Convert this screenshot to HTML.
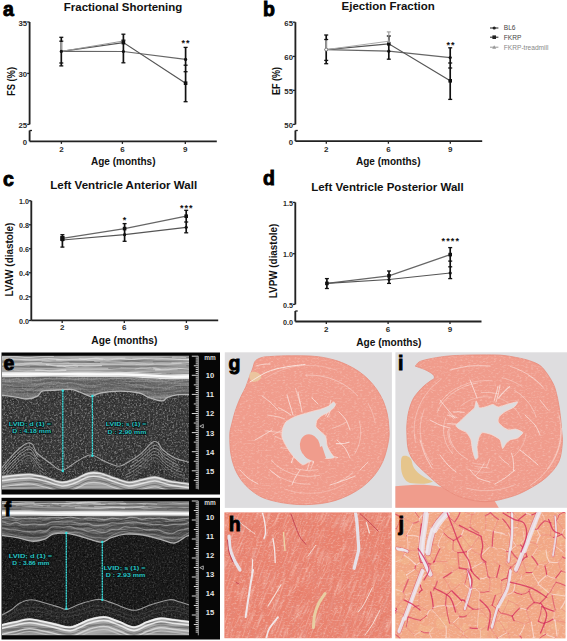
<!DOCTYPE html>
<html><head><meta charset="utf-8">
<style>
html,body{margin:0;padding:0;background:#fff;}
body{width:567px;height:641px;overflow:hidden;position:relative;font-family:"Liberation Sans", sans-serif;}
svg{position:absolute;left:0;top:0;}
text{font-family:"Liberation Sans", sans-serif;}
</style></head><body>
<svg width="567" height="641" viewBox="0 0 567 641">
<defs>
<filter id="fib" x="0" y="0" width="100%" height="100%"><feTurbulence type="fractalNoise" baseFrequency="0.05 0.55" numOctaves="2" seed="21"/><feColorMatrix type="matrix" values="0 0 0 0 0.72  0 0 0 0 0.3  0 0 0 0 0.28  3.2 0 0 0 -1.55"/><feComposite in2="SourceAlpha" operator="in"/></filter>
<filter id="fibW" x="0" y="0" width="100%" height="100%"><feTurbulence type="fractalNoise" baseFrequency="0.05 0.6" numOctaves="2" seed="33"/><feColorMatrix type="matrix" values="0 0 0 0 1  0 0 0 0 0.85  0 0 0 0 0.8  3.2 0 0 0 -1.6"/><feComposite in2="SourceAlpha" operator="in"/></filter>
<filter id="soft" x="0" y="0" width="100%" height="100%"><feGaussianBlur stdDeviation="0.45"/></filter>
<filter id="spkW" x="0" y="0" width="100%" height="100%"><feTurbulence type="fractalNoise" baseFrequency="0.55" numOctaves="2" seed="4"/><feColorMatrix type="matrix" values="0 0 0 0 1  0 0 0 0 1  0 0 0 0 1  4.5 0 0 0 -2.2"/><feComposite in2="SourceAlpha" operator="in"/></filter>
<filter id="spkK" x="0" y="0" width="100%" height="100%"><feTurbulence type="fractalNoise" baseFrequency="0.55" numOctaves="2" seed="9"/><feColorMatrix type="matrix" values="0 0 0 0 0  0 0 0 0 0  0 0 0 0 0  4.5 0 0 0 -2.1"/><feComposite in2="SourceAlpha" operator="in"/></filter>
<filter id="strk" x="0" y="0" width="100%" height="100%"><feTurbulence type="fractalNoise" baseFrequency="0.015 0.35" numOctaves="2" seed="5"/><feColorMatrix type="matrix" values="0 0 0 0 1  0 0 0 0 1  0 0 0 0 1  3.5 0 0 0 -1.6"/><feComposite in2="SourceAlpha" operator="in"/></filter>
<filter id="strkK" x="0" y="0" width="100%" height="100%"><feTurbulence type="fractalNoise" baseFrequency="0.015 0.35" numOctaves="2" seed="11"/><feColorMatrix type="matrix" values="0 0 0 0 0  0 0 0 0 0  0 0 0 0 0  3.5 0 0 0 -1.6"/><feComposite in2="SourceAlpha" operator="in"/></filter>
<filter id="tex" x="0" y="0" width="100%" height="100%"><feTurbulence type="fractalNoise" baseFrequency="0.35 0.6" numOctaves="2" seed="2"/><feColorMatrix type="matrix" values="0 0 0 0 1  0 0 0 0 0.9  0 0 0 0 0.85  2.2 0 0 0 -1.1"/><feComposite in2="SourceAlpha" operator="in"/></filter>
<filter id="texD" x="0" y="0" width="100%" height="100%"><feTurbulence type="fractalNoise" baseFrequency="0.3 0.5" numOctaves="2" seed="7"/><feColorMatrix type="matrix" values="0 0 0 0 0.75  0 0 0 0 0.35  0 0 0 0 0.3  2.4 0 0 0 -1.3"/><feComposite in2="SourceAlpha" operator="in"/></filter>
</defs>
<rect x="1.5" y="352.5" width="218.5" height="142.0" fill="#060606"/>
<clipPath id="clipe"><rect x="2" y="355.8" width="187" height="133.7"/></clipPath>
<g clip-path="url(#clipe)"><g filter="url(#soft)">
<rect x="2" y="355.8" width="187" height="133.7" fill="#3b3b3b"/>
<path d="M0.0,353.8 C31.8,353.8 159.2,353.8 191.0,353.8 L192.0,373.8 C189.2,373.8 180.3,374.1 175.0,374.0 C169.7,373.9 169.2,373.4 160.0,373.0 C150.8,372.6 136.7,371.8 120.0,371.5 C103.3,371.2 80.0,371.2 60.0,371.2 C40.0,371.2 10.0,371.4 0.0,371.5 Z" fill="#a9a9a9" />
<path d="M0.0,371.5 C10.0,371.4 40.0,371.2 60.0,371.2 C80.0,371.2 103.3,371.2 120.0,371.5 C136.7,371.8 150.8,372.6 160.0,373.0 C169.2,373.4 169.7,373.9 175.0,374.0 C180.3,374.1 189.2,373.8 192.0,373.8 L192.0,379.0 C189.2,379.1 180.3,379.5 175.0,379.5 C169.7,379.5 169.2,379.4 160.0,379.0 C150.8,378.6 136.7,377.5 120.0,377.2 C103.3,376.9 80.0,376.9 60.0,377.0 C40.0,377.1 10.0,377.4 0.0,377.5 Z" fill="#d9d9d9" />
<path d="M0.0,377.5 C10.0,377.4 40.0,377.1 60.0,377.0 C80.0,376.9 103.3,376.9 120.0,377.2 C136.7,377.5 150.8,378.6 160.0,379.0 C169.2,379.4 169.7,379.5 175.0,379.5 C180.3,379.5 189.2,379.1 192.0,379.0 L192.0,394.7 C189.7,394.7 182.3,394.3 178.2,394.7 C174.1,395.1 170.2,396.3 167.6,397.3 C164.9,398.3 165.5,400.9 162.3,400.9 C159.1,400.9 152.0,398.6 148.2,397.3 C144.4,396.0 144.1,394.0 139.4,393.0 C134.7,392.0 126.5,391.2 120.0,391.2 C113.5,391.2 105.3,392.1 100.6,393.0 C95.9,393.9 94.1,396.1 92.0,396.5 C89.9,396.9 90.3,396.4 88.2,395.6 C86.1,394.9 82.4,393.0 79.4,392.0 C76.5,391.0 74.9,389.7 70.5,389.4 C66.1,389.1 57.7,390.0 53.0,390.3 C48.3,390.6 45.0,390.2 42.3,391.2 C39.6,392.2 39.6,395.1 37.0,396.4 C34.4,397.7 29.7,398.9 26.5,399.0 C23.3,399.1 22.0,398.0 17.6,397.3 C13.2,396.6 2.9,395.4 0.0,395.0 Z" fill="#6c6c6c" />
<path d="M0.0,470.0 C1.7,468.0 6.7,461.7 10.0,458.0 C13.3,454.3 17.0,450.5 20.0,448.0 C23.0,445.5 25.8,443.5 28.0,443.0 C30.2,442.5 31.5,443.3 33.0,445.0 C34.5,446.7 34.2,450.0 37.0,453.0 C39.8,456.0 45.8,460.1 50.0,463.0 C54.2,465.9 57.7,470.6 62.0,470.4 C66.3,470.2 71.3,464.6 76.0,462.0 C80.7,459.4 85.6,455.2 90.3,455.0 C95.0,454.8 99.3,459.1 104.0,461.0 C108.7,462.9 114.2,466.2 118.5,466.2 C122.8,466.2 126.2,463.1 130.0,461.0 C133.8,458.9 137.3,456.7 141.0,453.6 C144.7,450.5 149.6,444.1 152.4,442.3 C155.2,440.5 156.2,441.7 158.0,443.0 C159.8,444.3 160.2,447.5 163.0,450.0 C165.8,452.5 170.2,455.8 175.0,458.0 C179.8,460.2 189.2,462.2 192.0,463.0 L191.0,491.5 C159.2,491.5 31.8,491.5 0.0,491.5 Z" fill="#383838" />
<path d="M0.0,353.8 C31.8,353.8 159.2,353.8 191.0,353.8 L192.0,394.7 C189.7,394.7 182.3,394.3 178.2,394.7 C174.1,395.1 170.2,396.3 167.6,397.3 C164.9,398.3 165.5,400.9 162.3,400.9 C159.1,400.9 152.0,398.6 148.2,397.3 C144.4,396.0 144.1,394.0 139.4,393.0 C134.7,392.0 126.5,391.2 120.0,391.2 C113.5,391.2 105.3,392.1 100.6,393.0 C95.9,393.9 94.1,396.1 92.0,396.5 C89.9,396.9 90.3,396.4 88.2,395.6 C86.1,394.9 82.4,393.0 79.4,392.0 C76.5,391.0 74.9,389.7 70.5,389.4 C66.1,389.1 57.7,390.0 53.0,390.3 C48.3,390.6 45.0,390.2 42.3,391.2 C39.6,392.2 39.6,395.1 37.0,396.4 C34.4,397.7 29.7,398.9 26.5,399.0 C23.3,399.1 22.0,398.0 17.6,397.3 C13.2,396.6 2.9,395.4 0.0,395.0 Z" fill="#fff" filter="url(#strk)" opacity="0.22"/>
<path d="M0.0,353.8 C31.8,353.8 159.2,353.8 191.0,353.8 L192.0,394.7 C189.7,394.7 182.3,394.3 178.2,394.7 C174.1,395.1 170.2,396.3 167.6,397.3 C164.9,398.3 165.5,400.9 162.3,400.9 C159.1,400.9 152.0,398.6 148.2,397.3 C144.4,396.0 144.1,394.0 139.4,393.0 C134.7,392.0 126.5,391.2 120.0,391.2 C113.5,391.2 105.3,392.1 100.6,393.0 C95.9,393.9 94.1,396.1 92.0,396.5 C89.9,396.9 90.3,396.4 88.2,395.6 C86.1,394.9 82.4,393.0 79.4,392.0 C76.5,391.0 74.9,389.7 70.5,389.4 C66.1,389.1 57.7,390.0 53.0,390.3 C48.3,390.6 45.0,390.2 42.3,391.2 C39.6,392.2 39.6,395.1 37.0,396.4 C34.4,397.7 29.7,398.9 26.5,399.0 C23.3,399.1 22.0,398.0 17.6,397.3 C13.2,396.6 2.9,395.4 0.0,395.0 Z" fill="#000" filter="url(#strkK)" opacity="0.25"/>
<path d="M0.0,395.0 C2.9,395.4 13.2,396.6 17.6,397.3 C22.0,398.0 23.3,399.1 26.5,399.0 C29.7,398.9 34.4,397.7 37.0,396.4 C39.6,395.1 39.6,392.2 42.3,391.2 C45.0,390.2 48.3,390.6 53.0,390.3 C57.7,390.0 66.1,389.1 70.5,389.4 C74.9,389.7 76.5,391.0 79.4,392.0 C82.4,393.0 86.1,394.9 88.2,395.6 C90.3,396.4 89.9,396.9 92.0,396.5 C94.1,396.1 95.9,393.9 100.6,393.0 C105.3,392.1 113.5,391.2 120.0,391.2 C126.5,391.2 134.7,392.0 139.4,393.0 C144.1,394.0 144.4,396.0 148.2,397.3 C152.0,398.6 159.1,400.9 162.3,400.9 C165.5,400.9 164.9,398.3 167.6,397.3 C170.2,396.3 174.1,395.1 178.2,394.7 C182.3,394.3 189.7,394.7 192.0,394.7 L192.0,483.0 C188.3,482.5 176.2,481.2 170.0,480.0 C163.8,478.8 160.0,476.2 155.0,476.0 C150.0,475.8 144.4,478.2 140.0,479.0 C135.6,479.8 133.0,481.3 128.8,481.0 C124.6,480.7 119.8,478.5 115.0,477.0 C110.2,475.5 104.5,472.8 100.0,472.0 C95.5,471.2 92.4,471.0 88.2,472.0 C84.0,473.0 79.4,476.5 75.0,478.0 C70.6,479.5 67.0,481.3 62.0,481.0 C57.0,480.7 50.3,477.3 45.0,476.0 C39.7,474.7 35.0,473.3 30.0,473.0 C25.0,472.7 20.0,473.5 15.0,474.0 C10.0,474.5 2.5,475.7 0.0,476.0 Z" fill="#fff" filter="url(#spkW)" opacity="0.28"/>
<path d="M0.0,395.0 C2.9,395.4 13.2,396.6 17.6,397.3 C22.0,398.0 23.3,399.1 26.5,399.0 C29.7,398.9 34.4,397.7 37.0,396.4 C39.6,395.1 39.6,392.2 42.3,391.2 C45.0,390.2 48.3,390.6 53.0,390.3 C57.7,390.0 66.1,389.1 70.5,389.4 C74.9,389.7 76.5,391.0 79.4,392.0 C82.4,393.0 86.1,394.9 88.2,395.6 C90.3,396.4 89.9,396.9 92.0,396.5 C94.1,396.1 95.9,393.9 100.6,393.0 C105.3,392.1 113.5,391.2 120.0,391.2 C126.5,391.2 134.7,392.0 139.4,393.0 C144.1,394.0 144.4,396.0 148.2,397.3 C152.0,398.6 159.1,400.9 162.3,400.9 C165.5,400.9 164.9,398.3 167.6,397.3 C170.2,396.3 174.1,395.1 178.2,394.7 C182.3,394.3 189.7,394.7 192.0,394.7 L192.0,483.0 C188.3,482.5 176.2,481.2 170.0,480.0 C163.8,478.8 160.0,476.2 155.0,476.0 C150.0,475.8 144.4,478.2 140.0,479.0 C135.6,479.8 133.0,481.3 128.8,481.0 C124.6,480.7 119.8,478.5 115.0,477.0 C110.2,475.5 104.5,472.8 100.0,472.0 C95.5,471.2 92.4,471.0 88.2,472.0 C84.0,473.0 79.4,476.5 75.0,478.0 C70.6,479.5 67.0,481.3 62.0,481.0 C57.0,480.7 50.3,477.3 45.0,476.0 C39.7,474.7 35.0,473.3 30.0,473.0 C25.0,472.7 20.0,473.5 15.0,474.0 C10.0,474.5 2.5,475.7 0.0,476.0 Z" fill="#000" filter="url(#spkK)" opacity="0.3"/>
<path d="M0.0,377.5 C10.0,377.4 40.0,377.1 60.0,377.0 C80.0,376.9 103.3,376.9 120.0,377.2 C136.7,377.5 150.8,378.6 160.0,379.0 C169.2,379.4 169.7,379.5 175.0,379.5 C180.3,379.5 189.2,379.1 192.0,379.0 L192.0,394.7 C189.7,394.7 182.3,394.3 178.2,394.7 C174.1,395.1 170.2,396.3 167.6,397.3 C164.9,398.3 165.5,400.9 162.3,400.9 C159.1,400.9 152.0,398.6 148.2,397.3 C144.4,396.0 144.1,394.0 139.4,393.0 C134.7,392.0 126.5,391.2 120.0,391.2 C113.5,391.2 105.3,392.1 100.6,393.0 C95.9,393.9 94.1,396.1 92.0,396.5 C89.9,396.9 90.3,396.4 88.2,395.6 C86.1,394.9 82.4,393.0 79.4,392.0 C76.5,391.0 74.9,389.7 70.5,389.4 C66.1,389.1 57.7,390.0 53.0,390.3 C48.3,390.6 45.0,390.2 42.3,391.2 C39.6,392.2 39.6,395.1 37.0,396.4 C34.4,397.7 29.7,398.9 26.5,399.0 C23.3,399.1 22.0,398.0 17.6,397.3 C13.2,396.6 2.9,395.4 0.0,395.0 Z" fill="#fff" filter="url(#spkW)" opacity="0.14"/>
<path d="M0.0,358.8 C2.0,358.8 8.0,358.7 12.0,358.8 C16.0,359.0 20.0,359.6 24.0,359.7 C28.0,359.9 32.0,359.9 36.0,359.7 C40.0,359.5 44.0,358.7 48.0,358.7 C52.0,358.6 56.0,359.4 60.0,359.6 C64.0,359.8 68.0,359.8 72.0,359.8 C76.0,359.8 80.0,359.9 84.0,359.6 C88.0,359.3 92.0,358.1 96.0,358.1 C100.0,358.2 104.0,359.8 108.0,359.9 C112.0,359.9 116.0,358.6 120.0,358.6 C124.0,358.5 128.0,359.6 132.0,359.5 C136.0,359.5 140.0,358.5 144.0,358.4 C148.0,358.3 152.0,359.1 156.0,359.1 C160.0,359.2 164.0,358.8 168.0,358.8 C172.0,358.9 176.0,359.2 180.0,359.3 C184.0,359.5 190.0,359.5 192.0,359.5" stroke="#e0e0e0" stroke-width="1.2" opacity="0.7" fill="none"/>
<path d="M0.0,362.1 C2.0,362.1 8.0,362.1 12.0,362.1 C16.0,362.1 20.0,362.2 24.0,362.2 C28.0,362.1 32.0,361.8 36.0,361.7 C40.0,361.6 44.0,361.5 48.0,361.6 C52.0,361.6 56.0,362.0 60.0,362.0 C64.0,362.0 68.0,361.7 72.0,361.7 C76.0,361.7 80.0,362.1 84.0,362.0 C88.0,362.0 92.0,361.2 96.0,361.3 C100.0,361.3 104.0,362.2 108.0,362.3 C112.0,362.5 116.0,362.4 120.0,362.2 C124.0,362.0 128.0,361.0 132.0,361.0 C136.0,360.9 140.0,361.9 144.0,362.0 C148.0,362.1 152.0,361.6 156.0,361.6 C160.0,361.5 164.0,361.6 168.0,361.7 C172.0,361.8 176.0,362.0 180.0,362.0 C184.0,362.1 190.0,361.9 192.0,361.8" stroke="#555" stroke-width="1" opacity="0.5" fill="none"/>
<path d="M0.0,364.3 C2.0,364.4 8.0,364.8 12.0,364.7 C16.0,364.5 20.0,363.6 24.0,363.4 C28.0,363.1 32.0,363.2 36.0,363.2 C40.0,363.3 44.0,363.5 48.0,363.6 C52.0,363.7 56.0,363.8 60.0,363.7 C64.0,363.7 68.0,363.4 72.0,363.3 C76.0,363.2 80.0,363.1 84.0,363.2 C88.0,363.3 92.0,363.7 96.0,364.0 C100.0,364.2 104.0,364.6 108.0,364.6 C112.0,364.7 116.0,364.6 120.0,364.5 C124.0,364.4 128.0,363.9 132.0,363.9 C136.0,364.0 140.0,364.6 144.0,364.7 C148.0,364.7 152.0,364.2 156.0,364.2 C160.0,364.1 164.0,364.3 168.0,364.1 C172.0,364.0 176.0,363.3 180.0,363.2 C184.0,363.1 190.0,363.6 192.0,363.7" stroke="#d0d0d0" stroke-width="1.2" opacity="0.6" fill="none"/>
<path d="M0.0,366.3 C2.0,366.2 8.0,365.8 12.0,365.7 C16.0,365.7 20.0,366.1 24.0,366.3 C28.0,366.4 32.0,366.8 36.0,366.7 C40.0,366.6 44.0,365.8 48.0,365.7 C52.0,365.7 56.0,365.9 60.0,366.1 C64.0,366.3 68.0,367.0 72.0,367.0 C76.0,367.0 80.0,366.4 84.0,366.3 C88.0,366.3 92.0,366.8 96.0,366.8 C100.0,366.7 104.0,366.0 108.0,365.9 C112.0,365.7 116.0,365.8 120.0,366.0 C124.0,366.2 128.0,366.9 132.0,367.0 C136.0,367.2 140.0,367.2 144.0,367.0 C148.0,366.8 152.0,365.8 156.0,365.8 C160.0,365.8 164.0,366.5 168.0,366.7 C172.0,366.9 176.0,366.9 180.0,367.0 C184.0,367.0 190.0,367.0 192.0,367.0" stroke="#666" stroke-width="1" opacity="0.5" fill="none"/>
<path d="M0.0,369.4 C2.0,369.5 8.0,369.6 12.0,369.5 C16.0,369.4 20.0,368.8 24.0,368.8 C28.0,368.7 32.0,369.2 36.0,369.2 C40.0,369.2 44.0,368.6 48.0,368.6 C52.0,368.6 56.0,368.9 60.0,369.1 C64.0,369.2 68.0,369.4 72.0,369.5 C76.0,369.5 80.0,369.6 84.0,369.6 C88.0,369.6 92.0,369.5 96.0,369.4 C100.0,369.4 104.0,369.5 108.0,369.3 C112.0,369.1 116.0,368.2 120.0,368.3 C124.0,368.4 128.0,369.6 132.0,369.7 C136.0,369.8 140.0,368.8 144.0,368.8 C148.0,368.8 152.0,369.8 156.0,369.7 C160.0,369.6 164.0,368.3 168.0,368.2 C172.0,368.1 176.0,369.0 180.0,369.2 C184.0,369.3 190.0,369.0 192.0,369.0" stroke="#ccc" stroke-width="1" opacity="0.5" fill="none"/>
<path d="M182.1,363.0 C184.2,363.1 190.4,363.4 194.5,363.4 C198.6,363.4 202.7,363.1 206.8,363.1 C210.9,363.0 215.0,362.9 219.2,363.0 C223.3,363.2 229.4,363.8 231.5,364.0" stroke="#666" stroke-width="1.24" opacity="0.50" fill="none" stroke-linecap="round"/>
<path d="M178.7,359.3 C181.0,359.4 187.9,360.1 192.5,360.1 C197.1,360.1 201.7,359.4 206.3,359.3 C210.9,359.3 215.5,359.5 220.1,359.5 C224.7,359.6 231.6,359.8 233.9,359.9" stroke="#e6e6e6" stroke-width="0.86" opacity="0.50" fill="none" stroke-linecap="round"/>
<path d="M121.0,367.7 C122.3,367.8 125.9,367.9 128.4,368.0 C130.8,368.0 133.3,368.1 135.7,368.2 C138.1,368.2 140.6,368.4 143.0,368.3 C145.5,368.2 149.1,367.6 150.3,367.5" stroke="#bdbdbd" stroke-width="0.96" opacity="0.72" fill="none" stroke-linecap="round"/>
<path d="M132.9,358.4 C134.1,358.4 137.9,358.4 140.4,358.4 C142.9,358.5 145.5,358.7 148.0,358.6 C150.5,358.5 153.0,358.0 155.5,358.0 C158.1,357.9 161.8,358.3 163.1,358.4" stroke="#d0d0d0" stroke-width="1.13" opacity="0.41" fill="none" stroke-linecap="round"/>
<path d="M79.3,358.6 C81.2,358.6 86.9,358.7 90.7,358.6 C94.5,358.5 98.3,358.1 102.1,358.0 C105.9,358.0 109.7,358.3 113.5,358.3 C117.3,358.3 123.0,358.1 124.9,358.1" stroke="#e6e6e6" stroke-width="1.19" opacity="0.49" fill="none" stroke-linecap="round"/>
<path d="M172.4,357.3 C174.0,357.2 178.9,357.0 182.1,357.2 C185.4,357.4 188.6,358.4 191.8,358.4 C195.0,358.4 198.3,357.3 201.5,357.1 C204.7,356.9 209.6,357.1 211.2,357.1" stroke="#e6e6e6" stroke-width="1.36" opacity="0.48" fill="none" stroke-linecap="round"/>
<path d="M-3.5,366.8 C-1.0,366.7 6.4,365.9 11.4,365.9 C16.3,365.9 21.3,366.7 26.2,366.7 C31.2,366.7 36.1,365.9 41.1,366.0 C46.0,366.0 53.5,366.6 56.0,366.7" stroke="#666" stroke-width="1.12" opacity="0.55" fill="none" stroke-linecap="round"/>
<path d="M135.2,369.4 C136.2,369.2 139.3,368.3 141.4,368.2 C143.5,368.1 145.5,368.7 147.6,368.7 C149.7,368.7 151.7,368.0 153.8,368.0 C155.9,368.1 159.0,369.0 160.0,369.2" stroke="#e6e6e6" stroke-width="1.27" opacity="0.62" fill="none" stroke-linecap="round"/>
<path d="M94.6,361.5 C97.0,361.5 104.2,361.5 109.1,361.7 C113.9,361.9 118.7,362.5 123.5,362.6 C128.3,362.8 133.2,362.5 138.0,362.4 C142.8,362.3 150.0,362.1 152.4,362.1" stroke="#bdbdbd" stroke-width="1.04" opacity="0.69" fill="none" stroke-linecap="round"/>
<path d="M171.9,362.9 C174.0,362.9 180.6,363.1 184.9,362.9 C189.2,362.7 193.6,361.6 197.9,361.6 C202.3,361.5 206.6,362.7 211.0,362.7 C215.3,362.7 221.8,361.7 224.0,361.5" stroke="#e6e6e6" stroke-width="0.81" opacity="0.72" fill="none" stroke-linecap="round"/>
<path d="M155.6,369.9 C157.7,369.8 163.9,369.8 168.1,369.6 C172.2,369.4 176.4,368.7 180.5,368.7 C184.7,368.7 188.9,369.7 193.0,369.7 C197.2,369.7 203.4,368.9 205.5,368.7" stroke="#e6e6e6" stroke-width="1.20" opacity="0.71" fill="none" stroke-linecap="round"/>
<path d="M42.1,361.1 C43.2,361.2 46.6,361.3 48.8,361.4 C51.0,361.6 53.3,362.2 55.5,362.2 C57.7,362.3 60.0,361.8 62.2,361.9 C64.4,361.9 67.8,362.5 68.9,362.6" stroke="#d0d0d0" stroke-width="1.19" opacity="0.78" fill="none" stroke-linecap="round"/>
<path d="M42.5,361.9 C44.9,362.0 52.1,362.3 56.9,362.3 C61.6,362.3 66.4,361.9 71.2,361.9 C76.0,361.9 80.8,362.2 85.6,362.3 C90.3,362.4 97.5,362.5 99.9,362.5" stroke="#666" stroke-width="1.02" opacity="0.70" fill="none" stroke-linecap="round"/>
<path d="M1.6,357.1 C3.8,357.0 10.2,356.3 14.6,356.4 C18.9,356.5 23.2,357.5 27.5,357.5 C31.8,357.5 36.1,356.7 40.5,356.5 C44.8,356.3 51.3,356.4 53.4,356.4" stroke="#e6e6e6" stroke-width="1.11" opacity="0.59" fill="none" stroke-linecap="round"/>
<path d="M56.6,360.0 C58.5,360.0 64.2,359.7 68.0,359.6 C71.9,359.4 75.7,359.0 79.5,359.1 C83.3,359.2 87.1,360.1 90.9,360.2 C94.8,360.2 100.5,359.6 102.4,359.5" stroke="#e6e6e6" stroke-width="1.27" opacity="0.53" fill="none" stroke-linecap="round"/>
<path d="M12.6,365.2 C14.1,365.2 18.6,365.3 21.6,365.1 C24.7,364.8 27.7,363.8 30.7,363.8 C33.7,363.8 36.7,364.7 39.7,364.9 C42.7,365.0 47.3,364.8 48.8,364.8" stroke="#d0d0d0" stroke-width="1.24" opacity="0.68" fill="none" stroke-linecap="round"/>
<path d="M35.7,370.3 C37.0,370.3 40.8,370.3 43.3,370.4 C45.8,370.5 48.3,370.9 50.8,370.9 C53.3,371.0 55.8,370.8 58.3,370.7 C60.8,370.6 64.6,370.3 65.8,370.2" stroke="#e6e6e6" stroke-width="1.38" opacity="0.72" fill="none" stroke-linecap="round"/>
<path d="M186.7,365.8 C189.0,365.8 195.8,366.2 200.3,366.2 C204.9,366.2 209.4,365.7 214.0,365.8 C218.5,365.8 223.0,366.4 227.6,366.4 C232.1,366.5 238.9,366.2 241.2,366.2" stroke="#666" stroke-width="1.14" opacity="0.62" fill="none" stroke-linecap="round"/>
<path d="M73.4,364.9 C74.3,364.8 76.8,364.0 78.5,364.0 C80.1,364.0 81.8,364.7 83.5,364.8 C85.2,364.8 86.8,364.5 88.5,364.4 C90.2,364.3 92.7,364.3 93.5,364.3" stroke="#bdbdbd" stroke-width="1.13" opacity="0.62" fill="none" stroke-linecap="round"/>
<path d="M14.6,370.2 C16.6,370.3 22.7,370.9 26.7,370.9 C30.7,370.9 34.7,370.1 38.8,370.1 C42.8,370.1 46.8,370.9 50.8,370.8 C54.9,370.7 60.9,369.8 62.9,369.6" stroke="#d0d0d0" stroke-width="0.83" opacity="0.67" fill="none" stroke-linecap="round"/>
<path d="M57.1,365.7 C57.9,365.7 60.5,365.5 62.2,365.8 C64.0,366.0 65.7,366.9 67.4,367.1 C69.1,367.4 70.8,367.2 72.5,367.2 C74.3,367.1 76.8,366.8 77.7,366.8" stroke="#d0d0d0" stroke-width="1.04" opacity="0.80" fill="none" stroke-linecap="round"/>
<path d="M95.9,363.2 C98.3,363.4 105.4,364.2 110.1,364.4 C114.9,364.6 119.6,364.4 124.4,364.4 C129.1,364.4 133.8,364.4 138.6,364.3 C143.3,364.1 150.5,363.8 152.8,363.7" stroke="#bdbdbd" stroke-width="0.99" opacity="0.53" fill="none" stroke-linecap="round"/>
<path d="M137.7,369.2 C139.3,369.0 144.3,368.2 147.6,368.0 C151.0,367.9 154.3,368.3 157.6,368.5 C161.0,368.6 164.3,369.1 167.6,369.0 C170.9,368.9 175.9,368.1 177.6,367.9" stroke="#bdbdbd" stroke-width="0.86" opacity="0.43" fill="none" stroke-linecap="round"/>
<path d="M46.4,364.6 C48.7,364.8 55.6,365.8 60.1,366.0 C64.7,366.1 69.3,365.4 73.9,365.4 C78.5,365.3 83.0,365.8 87.6,365.8 C92.2,365.8 99.1,365.6 101.4,365.6" stroke="#e6e6e6" stroke-width="1.36" opacity="0.65" fill="none" stroke-linecap="round"/>
<path d="M186.7,357.7 C187.5,357.7 190.0,357.5 191.7,357.4 C193.3,357.4 195.0,357.5 196.6,357.5 C198.2,357.5 199.9,357.5 201.5,357.6 C203.2,357.6 205.7,357.7 206.5,357.8" stroke="#555" stroke-width="0.85" opacity="0.79" fill="none" stroke-linecap="round"/>
<path d="M0.3,365.2 C1.5,365.4 5.1,366.5 7.5,366.5 C10.0,366.6 12.4,365.6 14.8,365.5 C17.2,365.3 19.6,365.4 22.1,365.6 C24.5,365.7 28.1,366.2 29.3,366.3" stroke="#d0d0d0" stroke-width="0.90" opacity="0.43" fill="none" stroke-linecap="round"/>
<path d="M188.0,359.6 C189.9,359.7 195.5,360.0 199.2,360.0 C203.0,359.9 206.7,359.4 210.5,359.3 C214.2,359.1 218.0,358.9 221.7,359.1 C225.5,359.3 231.1,360.1 233.0,360.3" stroke="#e6e6e6" stroke-width="1.00" opacity="0.63" fill="none" stroke-linecap="round"/>
<path d="M178.0,369.7 C179.5,369.7 184.2,369.4 187.4,369.2 C190.5,369.0 193.7,368.8 196.8,368.8 C199.9,368.8 203.1,369.3 206.2,369.3 C209.4,369.4 214.1,369.3 215.6,369.3" stroke="#666" stroke-width="0.91" opacity="0.45" fill="none" stroke-linecap="round"/>
<path d="M108.6,368.4 C110.5,368.5 116.0,368.9 119.7,369.1 C123.4,369.2 127.1,369.2 130.8,369.3 C134.5,369.3 138.2,369.4 141.8,369.3 C145.5,369.2 151.1,368.9 152.9,368.8" stroke="#555" stroke-width="0.91" opacity="0.55" fill="none" stroke-linecap="round"/>
<path d="M136.1,364.7 C136.8,364.6 138.9,364.0 140.4,363.8 C141.8,363.5 143.2,363.3 144.7,363.4 C146.1,363.5 147.5,364.5 149.0,364.5 C150.4,364.6 152.6,363.8 153.3,363.6" stroke="#d0d0d0" stroke-width="0.82" opacity="0.61" fill="none" stroke-linecap="round"/>
<path d="M0.0,374.5 C10.0,374.4 40.0,374.1 60.0,374.1 C80.0,374.1 103.3,374.0 120.0,374.4 C136.7,374.7 150.8,375.6 160.0,376.0 C169.2,376.4 169.7,376.7 175.0,376.8 C180.3,376.8 189.2,376.5 192.0,376.4" fill="none" stroke="#fbfbfb" stroke-width="2.2" />
<path d="M0.0,378.9 C0.7,379.0 2.3,379.6 4.0,379.8 C5.7,380.0 8.0,380.4 10.0,380.2 C12.0,380.1 14.0,378.8 16.0,378.8 C18.0,378.8 20.0,380.2 22.0,380.4 C24.0,380.5 26.0,379.8 28.0,379.8 C30.0,379.8 32.0,380.5 34.0,380.5 C36.0,380.5 38.0,380.3 40.0,379.9 C42.0,379.6 44.0,378.6 46.0,378.4 C48.0,378.3 50.0,379.0 52.0,379.1 C54.0,379.1 56.0,378.9 58.0,378.8 C60.0,378.7 62.0,378.6 64.0,378.6 C66.0,378.6 68.0,378.8 70.0,378.9 C72.0,379.0 74.0,379.3 76.0,379.2 C78.0,379.1 80.0,378.4 82.0,378.4 C84.0,378.3 86.0,378.7 88.0,378.9 C90.0,379.1 92.0,379.5 94.0,379.5 C96.0,379.5 98.0,378.8 100.0,378.8 C102.0,378.8 104.0,379.6 106.0,379.5 C108.0,379.4 110.0,378.5 112.0,378.3 C114.0,378.1 116.0,378.2 118.0,378.3 C120.0,378.4 122.0,378.9 124.0,379.0 C126.0,379.0 128.0,378.1 130.0,378.3 C132.0,378.5 134.0,380.0 136.0,380.2 C138.0,380.4 140.0,379.6 142.0,379.5 C144.0,379.4 146.0,379.2 148.0,379.5 C150.0,379.9 152.0,381.3 154.0,381.6 C156.0,381.8 158.0,381.3 160.0,381.3 C162.0,381.3 164.0,381.6 166.0,381.5 C168.0,381.4 170.0,380.7 172.0,380.7 C174.0,380.7 176.0,381.4 178.0,381.5 C180.0,381.6 182.0,381.3 184.0,381.1 C186.0,380.8 188.7,379.8 190.0,379.9 C191.3,379.9 191.7,381.1 192.0,381.3" fill="none" stroke="#a0a0a0" stroke-width="1.0" opacity="0.6"/>
<path d="M0.0,379.6 C0.7,379.9 2.3,381.1 4.0,381.4 C5.7,381.6 8.0,381.4 10.0,381.3 C12.0,381.3 14.0,381.1 16.0,381.0 C18.0,380.8 20.0,380.2 22.0,380.4 C24.0,380.7 26.0,382.2 28.0,382.6 C30.0,382.9 32.0,382.8 34.0,382.5 C36.0,382.2 38.0,381.0 40.0,380.7 C42.0,380.4 44.0,380.9 46.0,380.6 C48.0,380.3 50.0,379.1 52.0,379.1 C54.0,379.1 56.0,380.8 58.0,380.8 C60.0,380.8 62.0,379.4 64.0,379.2 C66.0,379.1 68.0,379.8 70.0,379.8 C72.0,379.8 74.0,379.1 76.0,379.2 C78.0,379.4 80.0,380.6 82.0,380.7 C84.0,380.8 86.0,379.7 88.0,379.9 C90.0,380.1 92.0,381.7 94.0,382.0 C96.0,382.2 98.0,382.0 100.0,381.5 C102.0,381.1 104.0,379.5 106.0,379.2 C108.0,378.8 110.0,379.1 112.0,379.4 C114.0,379.6 116.0,380.6 118.0,380.7 C120.0,380.9 122.0,380.1 124.0,380.2 C126.0,380.3 128.0,381.1 130.0,381.4 C132.0,381.6 134.0,381.6 136.0,381.6 C138.0,381.6 140.0,381.5 142.0,381.3 C144.0,381.2 146.0,380.9 148.0,380.9 C150.0,381.0 152.0,381.5 154.0,381.8 C156.0,382.1 158.0,382.4 160.0,382.5 C162.0,382.7 164.0,382.8 166.0,382.8 C168.0,382.8 170.0,382.5 172.0,382.4 C174.0,382.4 176.0,382.6 178.0,382.3 C180.0,382.0 182.0,380.7 184.0,380.7 C186.0,380.7 188.7,382.2 190.0,382.3 C191.3,382.3 191.7,381.4 192.0,381.2" fill="none" stroke="#a0a0a0" stroke-width="0.7" opacity="0.3" stroke-dasharray="11 8"/>
<path d="M0.0,382.8 C0.7,382.8 2.3,382.7 4.0,382.9 C5.7,383.0 8.0,383.6 10.0,383.7 C12.0,383.9 14.0,383.6 16.0,383.8 C18.0,383.9 20.0,384.7 22.0,384.7 C24.0,384.7 26.0,384.2 28.0,383.9 C30.0,383.5 32.0,382.9 34.0,382.7 C36.0,382.5 38.0,383.0 40.0,382.6 C42.0,382.3 44.0,380.9 46.0,380.5 C48.0,380.1 50.0,380.3 52.0,380.4 C54.0,380.4 56.0,380.5 58.0,380.6 C60.0,380.7 62.0,380.7 64.0,380.9 C66.0,381.1 68.0,381.5 70.0,381.6 C72.0,381.8 74.0,381.8 76.0,381.8 C78.0,381.9 80.0,382.1 82.0,382.1 C84.0,382.1 86.0,381.6 88.0,381.8 C90.0,381.9 92.0,382.9 94.0,383.0 C96.0,383.0 98.0,382.3 100.0,382.0 C102.0,381.7 104.0,381.4 106.0,381.1 C108.0,380.9 110.0,380.4 112.0,380.5 C114.0,380.6 116.0,381.5 118.0,381.9 C120.0,382.2 122.0,382.4 124.0,382.6 C126.0,382.7 128.0,382.7 130.0,382.6 C132.0,382.5 134.0,382.1 136.0,382.0 C138.0,382.0 140.0,382.1 142.0,382.3 C144.0,382.5 146.0,382.4 148.0,383.0 C150.0,383.5 152.0,384.9 154.0,385.4 C156.0,386.0 158.0,386.4 160.0,386.2 C162.0,386.1 164.0,384.8 166.0,384.6 C168.0,384.4 170.0,385.0 172.0,385.0 C174.0,384.9 176.0,384.4 178.0,384.4 C180.0,384.4 182.0,385.1 184.0,385.0 C186.0,384.9 188.7,383.9 190.0,383.8 C191.3,383.7 191.7,384.2 192.0,384.3" fill="none" stroke="#555" stroke-width="0.9" opacity="0.5"/>
<path d="M0.0,385.1 C0.7,385.1 2.3,385.6 4.0,385.3 C5.7,385.1 8.0,383.6 10.0,383.5 C12.0,383.5 14.0,384.7 16.0,385.1 C18.0,385.6 20.0,386.0 22.0,386.0 C24.0,386.0 26.0,385.6 28.0,385.3 C30.0,385.0 32.0,384.7 34.0,384.2 C36.0,383.7 38.0,382.8 40.0,382.4 C42.0,382.0 44.0,382.0 46.0,381.9 C48.0,381.8 50.0,382.0 52.0,381.8 C54.0,381.7 56.0,380.8 58.0,381.0 C60.0,381.2 62.0,383.0 64.0,382.8 C66.0,382.7 68.0,380.3 70.0,380.2 C72.0,380.2 74.0,382.1 76.0,382.5 C78.0,382.8 80.0,382.0 82.0,382.3 C84.0,382.6 86.0,384.1 88.0,384.2 C90.0,384.3 92.0,382.9 94.0,382.9 C96.0,382.9 98.0,384.4 100.0,384.2 C102.0,384.1 104.0,382.1 106.0,382.0 C108.0,381.9 110.0,383.5 112.0,383.5 C114.0,383.5 116.0,381.9 118.0,381.9 C120.0,381.8 122.0,383.1 124.0,383.2 C126.0,383.4 128.0,382.6 130.0,382.8 C132.0,382.9 134.0,383.8 136.0,384.2 C138.0,384.7 140.0,385.4 142.0,385.4 C144.0,385.5 146.0,384.7 148.0,384.7 C150.0,384.7 152.0,384.8 154.0,385.4 C156.0,386.0 158.0,388.3 160.0,388.2 C162.0,388.2 164.0,385.6 166.0,385.1 C168.0,384.6 170.0,385.0 172.0,385.2 C174.0,385.4 176.0,386.1 178.0,386.2 C180.0,386.3 182.0,386.0 184.0,385.8 C186.0,385.7 188.7,385.4 190.0,385.3 C191.3,385.2 191.7,385.3 192.0,385.3" fill="none" stroke="#555" stroke-width="0.63" opacity="0.25" stroke-dasharray="11 4"/>
<path d="M0.0,386.4 C0.7,386.1 2.3,384.9 4.0,384.7 C5.7,384.6 8.0,385.2 10.0,385.4 C12.0,385.7 14.0,386.2 16.0,386.3 C18.0,386.4 20.0,386.1 22.0,386.1 C24.0,386.1 26.0,386.3 28.0,386.2 C30.0,386.2 32.0,386.3 34.0,385.9 C36.0,385.6 38.0,384.3 40.0,383.9 C42.0,383.4 44.0,383.7 46.0,383.3 C48.0,383.0 50.0,382.0 52.0,381.9 C54.0,381.7 56.0,382.2 58.0,382.5 C60.0,382.8 62.0,383.7 64.0,383.7 C66.0,383.7 68.0,382.3 70.0,382.4 C72.0,382.4 74.0,383.6 76.0,384.0 C78.0,384.4 80.0,384.4 82.0,384.7 C84.0,385.0 86.0,385.6 88.0,385.8 C90.0,385.9 92.0,385.7 94.0,385.5 C96.0,385.3 98.0,384.7 100.0,384.4 C102.0,384.1 104.0,383.8 106.0,383.7 C108.0,383.7 110.0,384.3 112.0,384.3 C114.0,384.3 116.0,384.0 118.0,383.7 C120.0,383.5 122.0,382.8 124.0,382.9 C126.0,383.1 128.0,384.3 130.0,384.5 C132.0,384.8 134.0,384.3 136.0,384.4 C138.0,384.5 140.0,384.8 142.0,385.3 C144.0,385.8 146.0,386.7 148.0,387.2 C150.0,387.7 152.0,388.1 154.0,388.2 C156.0,388.2 158.0,387.5 160.0,387.6 C162.0,387.7 164.0,389.1 166.0,389.0 C168.0,388.8 170.0,387.4 172.0,386.7 C174.0,386.1 176.0,385.5 178.0,385.2 C180.0,385.0 182.0,385.1 184.0,385.1 C186.0,385.1 188.7,385.3 190.0,385.3 C191.3,385.3 191.7,385.3 192.0,385.3" fill="none" stroke="#9a9a9a" stroke-width="1.0" opacity="0.6"/>
<path d="M0.0,387.2 C0.7,387.2 2.3,387.1 4.0,387.2 C5.7,387.2 8.0,387.7 10.0,387.6 C12.0,387.6 14.0,386.9 16.0,386.9 C18.0,387.0 20.0,387.4 22.0,387.8 C24.0,388.3 26.0,390.0 28.0,389.8 C30.0,389.5 32.0,386.7 34.0,386.2 C36.0,385.7 38.0,386.8 40.0,386.6 C42.0,386.4 44.0,385.5 46.0,385.0 C48.0,384.5 50.0,383.5 52.0,383.5 C54.0,383.5 56.0,384.9 58.0,385.0 C60.0,385.0 62.0,383.9 64.0,383.8 C66.0,383.7 68.0,384.2 70.0,384.3 C72.0,384.5 74.0,384.3 76.0,384.6 C78.0,384.9 80.0,385.6 82.0,386.1 C84.0,386.6 86.0,387.7 88.0,387.8 C90.0,387.8 92.0,386.9 94.0,386.6 C96.0,386.3 98.0,386.0 100.0,385.8 C102.0,385.6 104.0,385.2 106.0,385.3 C108.0,385.3 110.0,386.1 112.0,386.2 C114.0,386.3 116.0,386.3 118.0,385.9 C120.0,385.5 122.0,383.8 124.0,383.7 C126.0,383.7 128.0,385.1 130.0,385.5 C132.0,385.9 134.0,385.9 136.0,386.0 C138.0,386.0 140.0,385.3 142.0,385.6 C144.0,385.9 146.0,387.0 148.0,387.7 C150.0,388.5 152.0,389.6 154.0,390.0 C156.0,390.4 158.0,390.2 160.0,390.0 C162.0,389.8 164.0,389.1 166.0,388.6 C168.0,388.1 170.0,387.1 172.0,387.0 C174.0,386.9 176.0,388.1 178.0,387.9 C180.0,387.7 182.0,385.8 184.0,385.9 C186.0,385.9 188.7,387.9 190.0,388.1 C191.3,388.3 191.7,387.3 192.0,387.2" fill="none" stroke="#9a9a9a" stroke-width="0.7" opacity="0.3" stroke-dasharray="19 4"/>
<path d="M0.0,389.2 C0.7,389.1 2.3,388.7 4.0,388.7 C5.7,388.6 8.0,388.8 10.0,388.8 C12.0,388.9 14.0,389.0 16.0,389.1 C18.0,389.2 20.0,389.0 22.0,389.4 C24.0,389.8 26.0,391.5 28.0,391.6 C30.0,391.7 32.0,390.9 34.0,390.1 C36.0,389.3 38.0,387.5 40.0,386.6 C42.0,385.7 44.0,384.9 46.0,384.8 C48.0,384.6 50.0,385.9 52.0,385.9 C54.0,385.8 56.0,384.5 58.0,384.3 C60.0,384.2 62.0,384.9 64.0,384.9 C66.0,384.9 68.0,384.4 70.0,384.4 C72.0,384.4 74.0,384.3 76.0,384.8 C78.0,385.4 80.0,387.3 82.0,387.9 C84.0,388.5 86.0,388.2 88.0,388.3 C90.0,388.4 92.0,388.6 94.0,388.5 C96.0,388.4 98.0,388.2 100.0,387.8 C102.0,387.4 104.0,386.3 106.0,386.0 C108.0,385.8 110.0,386.3 112.0,386.4 C114.0,386.6 116.0,386.7 118.0,386.8 C120.0,386.9 122.0,386.8 124.0,387.0 C126.0,387.1 128.0,387.4 130.0,387.6 C132.0,387.8 134.0,388.0 136.0,388.3 C138.0,388.5 140.0,389.0 142.0,389.2 C144.0,389.5 146.0,389.4 148.0,389.9 C150.0,390.3 152.0,391.5 154.0,392.0 C156.0,392.4 158.0,392.7 160.0,392.4 C162.0,392.2 164.0,391.0 166.0,390.7 C168.0,390.4 170.0,390.9 172.0,390.8 C174.0,390.7 176.0,390.4 178.0,390.0 C180.0,389.6 182.0,388.7 184.0,388.5 C186.0,388.4 188.7,389.0 190.0,389.1 C191.3,389.3 191.7,389.5 192.0,389.5" fill="none" stroke="#4a4a4a" stroke-width="0.9" opacity="0.5"/>
<path d="M0.0,391.0 C0.7,390.6 2.3,389.0 4.0,389.0 C5.7,389.1 8.0,391.0 10.0,391.3 C12.0,391.6 14.0,390.8 16.0,390.9 C18.0,391.0 20.0,391.4 22.0,391.7 C24.0,392.1 26.0,393.1 28.0,392.8 C30.0,392.4 32.0,390.8 34.0,389.8 C36.0,388.8 38.0,387.5 40.0,386.9 C42.0,386.4 44.0,386.7 46.0,386.6 C48.0,386.4 50.0,386.1 52.0,386.2 C54.0,386.3 56.0,387.2 58.0,387.0 C60.0,386.8 62.0,385.1 64.0,385.0 C66.0,384.8 68.0,385.8 70.0,385.9 C72.0,386.0 74.0,385.4 76.0,385.6 C78.0,385.8 80.0,386.6 82.0,387.1 C84.0,387.6 86.0,388.2 88.0,388.5 C90.0,388.8 92.0,389.0 94.0,388.7 C96.0,388.5 98.0,387.2 100.0,386.8 C102.0,386.4 104.0,386.3 106.0,386.4 C108.0,386.5 110.0,387.5 112.0,387.6 C114.0,387.7 116.0,387.2 118.0,387.2 C120.0,387.2 122.0,387.5 124.0,387.6 C126.0,387.7 128.0,387.6 130.0,387.8 C132.0,388.1 134.0,388.6 136.0,388.9 C138.0,389.2 140.0,389.3 142.0,389.7 C144.0,390.2 146.0,391.1 148.0,391.7 C150.0,392.3 152.0,393.0 154.0,393.5 C156.0,394.1 158.0,395.3 160.0,395.2 C162.0,395.1 164.0,393.6 166.0,392.9 C168.0,392.2 170.0,391.6 172.0,390.9 C174.0,390.3 176.0,389.2 178.0,389.1 C180.0,389.0 182.0,390.3 184.0,390.3 C186.0,390.3 188.7,389.1 190.0,389.0 C191.3,389.0 191.7,389.7 192.0,389.8" fill="none" stroke="#4a4a4a" stroke-width="0.63" opacity="0.25" stroke-dasharray="10 8"/>
<path d="M0.0,391.2 C0.7,391.4 2.3,392.7 4.0,392.7 C5.7,392.7 8.0,391.0 10.0,391.1 C12.0,391.3 14.0,393.3 16.0,393.7 C18.0,394.2 20.0,393.9 22.0,393.8 C24.0,393.7 26.0,393.2 28.0,393.2 C30.0,393.2 32.0,394.5 34.0,393.9 C36.0,393.3 38.0,390.6 40.0,389.5 C42.0,388.5 44.0,387.7 46.0,387.6 C48.0,387.4 50.0,388.6 52.0,388.5 C54.0,388.3 56.0,386.9 58.0,386.4 C60.0,386.0 62.0,385.6 64.0,385.8 C66.0,385.9 68.0,387.1 70.0,387.5 C72.0,387.9 74.0,388.0 76.0,388.2 C78.0,388.3 80.0,388.0 82.0,388.4 C84.0,388.9 86.0,390.2 88.0,390.8 C90.0,391.3 92.0,391.9 94.0,391.9 C96.0,391.8 98.0,391.0 100.0,390.4 C102.0,389.9 104.0,388.8 106.0,388.7 C108.0,388.5 110.0,389.8 112.0,389.7 C114.0,389.5 116.0,387.9 118.0,387.7 C120.0,387.5 122.0,388.1 124.0,388.4 C126.0,388.8 128.0,389.6 130.0,389.9 C132.0,390.3 134.0,390.2 136.0,390.5 C138.0,390.8 140.0,391.3 142.0,391.5 C144.0,391.8 146.0,391.3 148.0,391.9 C150.0,392.5 152.0,394.5 154.0,395.2 C156.0,396.0 158.0,396.7 160.0,396.3 C162.0,395.9 164.0,393.7 166.0,393.0 C168.0,392.3 170.0,392.3 172.0,392.0 C174.0,391.7 176.0,391.4 178.0,391.2 C180.0,391.0 182.0,391.0 184.0,391.1 C186.0,391.2 188.7,391.8 190.0,391.7 C191.3,391.7 191.7,390.9 192.0,390.7" fill="none" stroke="#8a8a8a" stroke-width="0.9" opacity="0.55"/>
<path d="M0.0,392.9 C0.7,393.1 2.3,393.6 4.0,393.9 C5.7,394.3 8.0,394.8 10.0,395.0 C12.0,395.1 14.0,395.2 16.0,395.0 C18.0,394.8 20.0,393.8 22.0,393.6 C24.0,393.5 26.0,394.2 28.0,394.2 C30.0,394.3 32.0,394.2 34.0,393.9 C36.0,393.6 38.0,393.5 40.0,392.5 C42.0,391.5 44.0,388.4 46.0,387.9 C48.0,387.4 50.0,389.4 52.0,389.6 C54.0,389.8 56.0,388.9 58.0,388.9 C60.0,388.8 62.0,389.2 64.0,389.1 C66.0,389.0 68.0,388.3 70.0,388.1 C72.0,387.9 74.0,387.3 76.0,387.8 C78.0,388.3 80.0,390.2 82.0,391.0 C84.0,391.9 86.0,392.5 88.0,393.0 C90.0,393.5 92.0,394.4 94.0,394.1 C96.0,393.7 98.0,391.7 100.0,390.9 C102.0,390.1 104.0,389.3 106.0,389.1 C108.0,388.8 110.0,389.3 112.0,389.5 C114.0,389.6 116.0,390.1 118.0,390.2 C120.0,390.3 122.0,390.4 124.0,390.1 C126.0,389.9 128.0,388.6 130.0,388.7 C132.0,388.8 134.0,390.0 136.0,390.7 C138.0,391.4 140.0,392.4 142.0,392.9 C144.0,393.5 146.0,393.2 148.0,393.9 C150.0,394.5 152.0,396.3 154.0,396.7 C156.0,397.1 158.0,396.3 160.0,396.3 C162.0,396.2 164.0,396.9 166.0,396.5 C168.0,396.0 170.0,394.2 172.0,393.5 C174.0,392.7 176.0,391.9 178.0,391.9 C180.0,391.9 182.0,393.6 184.0,393.6 C186.0,393.5 188.7,392.2 190.0,391.8 C191.3,391.3 191.7,391.1 192.0,391.0" fill="none" stroke="#8a8a8a" stroke-width="0.63" opacity="0.275" stroke-dasharray="20 9"/>
<path d="M0.0,395.0 C2.9,395.4 13.2,396.6 17.6,397.3 C22.0,398.0 23.3,399.1 26.5,399.0 C29.7,398.9 34.4,397.7 37.0,396.4 C39.6,395.1 39.6,392.2 42.3,391.2 C45.0,390.2 48.3,390.6 53.0,390.3 C57.7,390.0 66.1,389.1 70.5,389.4 C74.9,389.7 76.5,391.0 79.4,392.0 C82.4,393.0 86.1,394.9 88.2,395.6 C90.3,396.4 89.9,396.9 92.0,396.5 C94.1,396.1 95.9,393.9 100.6,393.0 C105.3,392.1 113.5,391.2 120.0,391.2 C126.5,391.2 134.7,392.0 139.4,393.0 C144.1,394.0 144.4,396.0 148.2,397.3 C152.0,398.6 159.1,400.9 162.3,400.9 C165.5,400.9 164.9,398.3 167.6,397.3 C170.2,396.3 174.1,395.1 178.2,394.7 C182.3,394.3 189.7,394.7 192.0,394.7" fill="none" stroke="#b5b5b5" stroke-width="1.3" />
<path d="M0.0,470.0 C1.7,468.0 6.7,461.7 10.0,458.0 C13.3,454.3 17.0,450.5 20.0,448.0 C23.0,445.5 25.8,443.5 28.0,443.0 C30.2,442.5 31.5,443.3 33.0,445.0 C34.5,446.7 34.2,450.0 37.0,453.0 C39.8,456.0 45.8,460.1 50.0,463.0 C54.2,465.9 57.7,470.6 62.0,470.4 C66.3,470.2 71.3,464.6 76.0,462.0 C80.7,459.4 85.6,455.2 90.3,455.0 C95.0,454.8 99.3,459.1 104.0,461.0 C108.7,462.9 114.2,466.2 118.5,466.2 C122.8,466.2 126.2,463.1 130.0,461.0 C133.8,458.9 137.3,456.7 141.0,453.6 C144.7,450.5 149.6,444.1 152.4,442.3 C155.2,440.5 156.2,441.7 158.0,443.0 C159.8,444.3 160.2,447.5 163.0,450.0 C165.8,452.5 170.2,455.8 175.0,458.0 C179.8,460.2 189.2,462.2 192.0,463.0" fill="none" stroke="#a8a8a8" stroke-width="1.1" opacity="0.95"/>
<path d="M0.0,473.0 C0.6,472.2 2.5,470.0 3.8,468.4 C5.1,466.9 6.3,465.4 7.6,463.9 C8.9,462.4 10.1,460.9 11.4,459.6 C12.7,458.3 13.9,457.1 15.2,455.8 C16.5,454.5 17.7,453.1 19.0,452.0 C20.3,450.9 21.5,450.1 22.8,449.2 C24.1,448.4 25.3,447.3 26.6,446.9 C27.9,446.5 29.1,446.4 30.4,447.0 C31.7,447.5 32.9,448.8 34.2,450.4 C35.5,452.0 37.4,455.7 38.0,456.8" fill="none" stroke="#9a9a9a" stroke-width="1.0" opacity="0.85" stroke-linecap="round"/>
<path d="M0.0,476.0 C0.7,475.2 2.7,472.8 4.0,471.2 C5.3,469.6 6.7,467.9 8.0,466.4 C9.3,464.9 10.7,463.4 12.0,462.0 C13.3,460.6 14.7,459.3 16.0,458.0 C17.3,456.7 18.7,455.1 20.0,454.0 C21.3,452.9 22.7,452.3 24.0,451.5 C25.3,450.7 26.7,449.1 28.0,449.0 C29.3,448.9 30.7,449.3 32.0,450.6 C33.3,451.9 34.7,455.2 36.0,457.0 C37.3,458.8 39.3,460.6 40.0,461.3" fill="none" stroke="#a8a8a8" stroke-width="1.0" opacity="0.8" stroke-linecap="round"/>
<path d="M0.0,479.0 C0.7,478.2 2.8,475.6 4.2,474.0 C5.6,472.3 7.0,470.5 8.4,468.9 C9.8,467.3 11.2,465.9 12.6,464.4 C14.0,462.9 15.4,461.5 16.8,460.2 C18.2,458.9 19.6,457.4 21.0,456.4 C22.4,455.3 23.8,454.4 25.2,453.8 C26.6,453.1 28.0,452.3 29.4,452.6 C30.8,452.8 32.2,453.5 33.6,455.2 C35.0,456.9 36.4,460.8 37.8,462.6 C39.2,464.4 41.3,465.3 42.0,465.8" fill="none" stroke="#8c8c8c" stroke-width="1.0" opacity="0.75" stroke-linecap="round"/>
<path d="M0.0,482.0 C0.7,481.1 2.9,478.5 4.4,476.7 C5.9,475.0 7.3,473.1 8.8,471.4 C10.3,469.8 11.7,468.3 13.2,466.8 C14.7,465.3 16.1,463.7 17.6,462.4 C19.1,461.1 20.5,459.8 22.0,458.8 C23.5,457.7 24.9,456.4 26.4,456.0 C27.9,455.6 29.3,455.2 30.8,456.1 C32.3,457.0 33.7,459.6 35.2,461.4 C36.7,463.2 38.1,465.5 39.6,467.0 C41.1,468.5 43.3,469.8 44.0,470.4" fill="none" stroke="#9a9a9a" stroke-width="1.0" opacity="0.7" stroke-linecap="round"/>
<path d="M0.0,485.0 C0.8,484.1 3.1,481.3 4.6,479.5 C6.1,477.6 7.7,475.7 9.2,474.0 C10.7,472.2 12.3,470.8 13.8,469.2 C15.3,467.6 16.9,465.9 18.4,464.6 C19.9,463.3 21.5,462.2 23.0,461.1 C24.5,460.1 26.1,458.5 27.6,458.2 C29.1,458.0 30.7,458.1 32.2,459.7 C33.7,461.2 35.3,465.6 36.8,467.6 C38.3,469.6 39.9,470.2 41.4,471.4 C42.9,472.6 45.2,474.3 46.0,474.9" fill="none" stroke="#808080" stroke-width="1.0" opacity="0.6" stroke-linecap="round"/>
<path d="M0.0,488.0 C0.8,487.1 3.1,484.2 4.7,482.4 C6.3,480.5 7.8,478.5 9.4,476.7 C11.0,475.0 12.5,473.5 14.1,471.9 C15.7,470.3 17.2,468.5 18.8,467.2 C20.4,465.9 21.9,464.8 23.5,463.8 C25.1,462.8 26.6,461.2 28.2,461.1 C29.8,460.9 31.3,461.2 32.9,463.0 C34.5,464.7 36.0,469.4 37.6,471.5 C39.2,473.5 40.7,473.9 42.3,475.1 C43.9,476.3 46.2,478.1 47.0,478.7" fill="none" stroke="#777" stroke-width="1.0" opacity="0.5" stroke-linecap="round"/>
<path d="M132.0,462.7 C132.7,462.2 134.9,460.7 136.4,459.7 C137.9,458.7 139.3,457.9 140.8,456.7 C142.3,455.5 143.7,453.9 145.2,452.4 C146.7,451.0 148.1,449.2 149.6,448.1 C151.1,446.9 152.5,445.8 154.0,445.5 C155.5,445.2 156.9,445.4 158.4,446.6 C159.9,447.8 161.3,451.2 162.8,452.7 C164.3,454.3 165.7,454.8 167.2,455.8 C168.7,456.8 170.1,457.8 171.6,458.7 C173.1,459.6 175.3,460.9 176.0,461.3" fill="none" stroke="#9a9a9a" stroke-width="1.0" opacity="0.85" stroke-linecap="round"/>
<path d="M130.0,467.0 C130.8,466.5 133.2,464.8 134.8,463.8 C136.4,462.7 138.0,461.8 139.6,460.5 C141.2,459.3 142.8,457.7 144.4,456.2 C146.0,454.7 147.6,452.8 149.2,451.5 C150.8,450.2 152.4,448.7 154.0,448.5 C155.6,448.3 157.2,448.8 158.8,450.1 C160.4,451.4 162.0,454.8 163.6,456.4 C165.2,458.0 166.8,458.5 168.4,459.6 C170.0,460.7 171.6,461.9 173.2,462.8 C174.8,463.7 177.2,464.5 178.0,464.9" fill="none" stroke="#a8a8a8" stroke-width="1.0" opacity="0.8" stroke-linecap="round"/>
<path d="M128.0,470.9 C128.9,470.4 131.5,468.9 133.2,467.8 C134.9,466.8 136.7,465.7 138.4,464.3 C140.1,463.0 141.9,461.6 143.6,460.0 C145.3,458.4 147.1,456.3 148.8,454.9 C150.5,453.4 152.3,451.7 154.0,451.5 C155.7,451.3 157.5,452.3 159.2,453.7 C160.9,455.1 162.7,458.3 164.4,459.9 C166.1,461.6 167.9,462.2 169.6,463.4 C171.3,464.6 173.1,466.0 174.8,466.9 C176.5,467.7 179.1,468.2 180.0,468.5" fill="none" stroke="#8c8c8c" stroke-width="1.0" opacity="0.75" stroke-linecap="round"/>
<path d="M126.0,474.8 C126.9,474.3 129.7,473.0 131.6,471.9 C133.5,470.8 135.3,469.5 137.2,468.2 C139.1,466.8 140.9,465.5 142.8,463.8 C144.7,462.2 146.5,459.8 148.4,458.3 C150.3,456.7 152.1,454.7 154.0,454.5 C155.9,454.3 157.7,455.7 159.6,457.2 C161.5,458.7 163.3,461.8 165.2,463.5 C167.1,465.1 168.9,466.0 170.8,467.2 C172.7,468.4 174.5,469.6 176.4,470.4 C178.3,471.2 181.1,471.8 182.0,472.1" fill="none" stroke="#9a9a9a" stroke-width="1.0" opacity="0.7" stroke-linecap="round"/>
<path d="M124.0,478.7 C125.0,478.3 128.0,477.1 130.0,476.0 C132.0,474.9 134.0,473.4 136.0,472.0 C138.0,470.6 140.0,469.3 142.0,467.6 C144.0,465.9 146.0,463.3 148.0,461.7 C150.0,460.0 152.0,457.6 154.0,457.5 C156.0,457.4 158.0,459.2 160.0,460.8 C162.0,462.4 164.0,465.3 166.0,467.0 C168.0,468.7 170.0,469.9 172.0,471.0 C174.0,472.1 176.0,473.1 178.0,473.9 C180.0,474.7 183.0,475.4 184.0,475.6" fill="none" stroke="#808080" stroke-width="1.0" opacity="0.6" stroke-linecap="round"/>
<path d="M122.0,482.6 C123.1,482.1 126.3,480.9 128.4,479.7 C130.5,478.6 132.7,477.2 134.8,475.8 C136.9,474.4 139.1,473.2 141.2,471.4 C143.3,469.6 145.5,466.9 147.6,465.1 C149.7,463.2 151.9,460.6 154.0,460.5 C156.1,460.4 158.3,462.7 160.4,464.4 C162.5,466.0 164.7,468.8 166.8,470.5 C168.9,472.3 171.1,473.7 173.2,474.8 C175.3,475.9 177.5,476.6 179.6,477.4 C181.7,478.1 184.9,478.9 186.0,479.2" fill="none" stroke="#777" stroke-width="1.0" opacity="0.5" stroke-linecap="round"/>
<path d="M0.0,476.0 C2.5,475.7 10.0,474.5 15.0,474.0 C20.0,473.5 25.0,472.7 30.0,473.0 C35.0,473.3 39.7,474.7 45.0,476.0 C50.3,477.3 57.0,480.7 62.0,481.0 C67.0,481.3 70.6,479.5 75.0,478.0 C79.4,476.5 84.0,473.0 88.2,472.0 C92.4,471.0 95.5,471.2 100.0,472.0 C104.5,472.8 110.2,475.5 115.0,477.0 C119.8,478.5 124.6,480.7 128.8,481.0 C133.0,481.3 135.6,479.8 140.0,479.0 C144.4,478.2 150.0,475.8 155.0,476.0 C160.0,476.2 163.8,478.8 170.0,480.0 C176.2,481.2 188.3,482.5 192.0,483.0 L191.0,491.5 C159.2,491.5 31.8,491.5 0.0,491.5 Z" fill="#a8a8a8" />
<path d="M0.0,476.0 C2.5,475.7 10.0,474.5 15.0,474.0 C20.0,473.5 25.0,472.7 30.0,473.0 C35.0,473.3 39.7,474.7 45.0,476.0 C50.3,477.3 57.0,480.7 62.0,481.0 C67.0,481.3 70.6,479.5 75.0,478.0 C79.4,476.5 84.0,473.0 88.2,472.0 C92.4,471.0 95.5,471.2 100.0,472.0 C104.5,472.8 110.2,475.5 115.0,477.0 C119.8,478.5 124.6,480.7 128.8,481.0 C133.0,481.3 135.6,479.8 140.0,479.0 C144.4,478.2 150.0,475.8 155.0,476.0 C160.0,476.2 163.8,478.8 170.0,480.0 C176.2,481.2 188.3,482.5 192.0,483.0 L191.0,491.5 C159.2,491.5 31.8,491.5 0.0,491.5 Z" fill="#000" filter="url(#strkK)" opacity="0.3"/>
<path d="M0.0,477.5 C2.5,477.2 10.0,476.0 15.0,475.5 C20.0,475.0 25.0,474.2 30.0,474.5 C35.0,474.8 39.7,476.2 45.0,477.5 C50.3,478.8 57.0,482.2 62.0,482.5 C67.0,482.8 70.6,481.0 75.0,479.5 C79.4,478.0 84.0,474.5 88.2,473.5 C92.4,472.5 95.5,472.7 100.0,473.5 C104.5,474.3 110.2,477.0 115.0,478.5 C119.8,480.0 124.6,482.2 128.8,482.5 C133.0,482.8 135.6,481.3 140.0,480.5 C144.4,479.7 150.0,477.3 155.0,477.5 C160.0,477.7 163.8,480.3 170.0,481.5 C176.2,482.7 188.3,484.0 192.0,484.5" fill="none" stroke="#eee" stroke-width="1.6" opacity="0.9"/>
<path d="M0.0,481.0 C2.5,480.7 10.0,479.5 15.0,479.0 C20.0,478.5 25.0,477.7 30.0,478.0 C35.0,478.3 39.7,479.7 45.0,481.0 C50.3,482.3 57.0,485.7 62.0,486.0 C67.0,486.3 70.6,484.5 75.0,483.0 C79.4,481.5 84.0,478.0 88.2,477.0 C92.4,476.0 95.5,476.2 100.0,477.0 C104.5,477.8 110.2,480.5 115.0,482.0 C119.8,483.5 124.6,485.7 128.8,486.0 C133.0,486.3 135.6,484.8 140.0,484.0 C144.4,483.2 150.0,480.8 155.0,481.0 C160.0,481.2 163.8,483.8 170.0,485.0 C176.2,486.2 188.3,487.5 192.0,488.0" fill="none" stroke="#f3f3f3" stroke-width="1.4" opacity="0.8"/>
<path d="M0.0,484.5 C2.5,484.2 10.0,483.0 15.0,482.5 C20.0,482.0 25.0,481.2 30.0,481.5 C35.0,481.8 39.7,483.2 45.0,484.5 C50.3,485.8 57.0,489.2 62.0,489.5 C67.0,489.8 70.6,488.0 75.0,486.5 C79.4,485.0 84.0,481.5 88.2,480.5 C92.4,479.5 95.5,479.7 100.0,480.5 C104.5,481.3 110.2,484.0 115.0,485.5 C119.8,487.0 124.6,489.2 128.8,489.5 C133.0,489.8 135.6,488.3 140.0,487.5 C144.4,486.7 150.0,484.3 155.0,484.5 C160.0,484.7 163.8,487.3 170.0,488.5 C176.2,489.7 188.3,491.0 192.0,491.5" fill="none" stroke="#555" stroke-width="1" opacity="0.6"/>
<path d="M0.0,487.0 C2.5,486.7 10.0,485.5 15.0,485.0 C20.0,484.5 25.0,483.7 30.0,484.0 C35.0,484.3 39.7,485.7 45.0,487.0 C50.3,488.3 57.0,491.7 62.0,492.0 C67.0,492.3 70.6,490.5 75.0,489.0 C79.4,487.5 84.0,484.0 88.2,483.0 C92.4,482.0 95.5,482.2 100.0,483.0 C104.5,483.8 110.2,486.5 115.0,488.0 C119.8,489.5 124.6,491.7 128.8,492.0 C133.0,492.3 135.6,490.8 140.0,490.0 C144.4,489.2 150.0,486.8 155.0,487.0 C160.0,487.2 163.8,489.8 170.0,491.0 C176.2,492.2 188.3,493.5 192.0,494.0" fill="none" stroke="#ddd" stroke-width="1.2" opacity="0.7"/>
</g></g>
<line x1="191.8" y1="356.20" x2="198.3" y2="356.20" stroke="#d4d4d4" stroke-width="1"/>
<line x1="195.70000000000002" y1="358.11" x2="198.3" y2="358.11" stroke="#d4d4d4" stroke-width="1"/>
<line x1="195.70000000000002" y1="360.02" x2="198.3" y2="360.02" stroke="#d4d4d4" stroke-width="1"/>
<line x1="195.70000000000002" y1="361.93" x2="198.3" y2="361.93" stroke="#d4d4d4" stroke-width="1"/>
<line x1="195.70000000000002" y1="363.84" x2="198.3" y2="363.84" stroke="#d4d4d4" stroke-width="1"/>
<line x1="193.8" y1="365.75" x2="198.3" y2="365.75" stroke="#d4d4d4" stroke-width="1"/>
<line x1="195.70000000000002" y1="367.66" x2="198.3" y2="367.66" stroke="#d4d4d4" stroke-width="1"/>
<line x1="195.70000000000002" y1="369.57" x2="198.3" y2="369.57" stroke="#d4d4d4" stroke-width="1"/>
<line x1="195.70000000000002" y1="371.48" x2="198.3" y2="371.48" stroke="#d4d4d4" stroke-width="1"/>
<line x1="195.70000000000002" y1="373.39" x2="198.3" y2="373.39" stroke="#d4d4d4" stroke-width="1"/>
<line x1="191.8" y1="375.30" x2="198.3" y2="375.30" stroke="#d4d4d4" stroke-width="1"/>
<line x1="195.70000000000002" y1="377.21" x2="198.3" y2="377.21" stroke="#d4d4d4" stroke-width="1"/>
<line x1="195.70000000000002" y1="379.12" x2="198.3" y2="379.12" stroke="#d4d4d4" stroke-width="1"/>
<line x1="195.70000000000002" y1="381.03" x2="198.3" y2="381.03" stroke="#d4d4d4" stroke-width="1"/>
<line x1="195.70000000000002" y1="382.94" x2="198.3" y2="382.94" stroke="#d4d4d4" stroke-width="1"/>
<line x1="193.8" y1="384.85" x2="198.3" y2="384.85" stroke="#d4d4d4" stroke-width="1"/>
<line x1="195.70000000000002" y1="386.76" x2="198.3" y2="386.76" stroke="#d4d4d4" stroke-width="1"/>
<line x1="195.70000000000002" y1="388.67" x2="198.3" y2="388.67" stroke="#d4d4d4" stroke-width="1"/>
<line x1="195.70000000000002" y1="390.58" x2="198.3" y2="390.58" stroke="#d4d4d4" stroke-width="1"/>
<line x1="195.70000000000002" y1="392.49" x2="198.3" y2="392.49" stroke="#d4d4d4" stroke-width="1"/>
<line x1="191.8" y1="394.40" x2="198.3" y2="394.40" stroke="#d4d4d4" stroke-width="1"/>
<line x1="195.70000000000002" y1="396.31" x2="198.3" y2="396.31" stroke="#d4d4d4" stroke-width="1"/>
<line x1="195.70000000000002" y1="398.22" x2="198.3" y2="398.22" stroke="#d4d4d4" stroke-width="1"/>
<line x1="195.70000000000002" y1="400.13" x2="198.3" y2="400.13" stroke="#d4d4d4" stroke-width="1"/>
<line x1="195.70000000000002" y1="402.04" x2="198.3" y2="402.04" stroke="#d4d4d4" stroke-width="1"/>
<line x1="193.8" y1="403.95" x2="198.3" y2="403.95" stroke="#d4d4d4" stroke-width="1"/>
<line x1="195.70000000000002" y1="405.86" x2="198.3" y2="405.86" stroke="#d4d4d4" stroke-width="1"/>
<line x1="195.70000000000002" y1="407.77" x2="198.3" y2="407.77" stroke="#d4d4d4" stroke-width="1"/>
<line x1="195.70000000000002" y1="409.68" x2="198.3" y2="409.68" stroke="#d4d4d4" stroke-width="1"/>
<line x1="195.70000000000002" y1="411.59" x2="198.3" y2="411.59" stroke="#d4d4d4" stroke-width="1"/>
<line x1="191.8" y1="413.50" x2="198.3" y2="413.50" stroke="#d4d4d4" stroke-width="1"/>
<line x1="195.70000000000002" y1="415.41" x2="198.3" y2="415.41" stroke="#d4d4d4" stroke-width="1"/>
<line x1="195.70000000000002" y1="417.32" x2="198.3" y2="417.32" stroke="#d4d4d4" stroke-width="1"/>
<line x1="195.70000000000002" y1="419.23" x2="198.3" y2="419.23" stroke="#d4d4d4" stroke-width="1"/>
<line x1="195.70000000000002" y1="421.14" x2="198.3" y2="421.14" stroke="#d4d4d4" stroke-width="1"/>
<line x1="193.8" y1="423.05" x2="198.3" y2="423.05" stroke="#d4d4d4" stroke-width="1"/>
<line x1="195.70000000000002" y1="424.96" x2="198.3" y2="424.96" stroke="#d4d4d4" stroke-width="1"/>
<line x1="195.70000000000002" y1="426.87" x2="198.3" y2="426.87" stroke="#d4d4d4" stroke-width="1"/>
<line x1="195.70000000000002" y1="428.78" x2="198.3" y2="428.78" stroke="#d4d4d4" stroke-width="1"/>
<line x1="195.70000000000002" y1="430.69" x2="198.3" y2="430.69" stroke="#d4d4d4" stroke-width="1"/>
<line x1="191.8" y1="432.60" x2="198.3" y2="432.60" stroke="#d4d4d4" stroke-width="1"/>
<line x1="195.70000000000002" y1="434.51" x2="198.3" y2="434.51" stroke="#d4d4d4" stroke-width="1"/>
<line x1="195.70000000000002" y1="436.42" x2="198.3" y2="436.42" stroke="#d4d4d4" stroke-width="1"/>
<line x1="195.70000000000002" y1="438.33" x2="198.3" y2="438.33" stroke="#d4d4d4" stroke-width="1"/>
<line x1="195.70000000000002" y1="440.24" x2="198.3" y2="440.24" stroke="#d4d4d4" stroke-width="1"/>
<line x1="193.8" y1="442.15" x2="198.3" y2="442.15" stroke="#d4d4d4" stroke-width="1"/>
<line x1="195.70000000000002" y1="444.06" x2="198.3" y2="444.06" stroke="#d4d4d4" stroke-width="1"/>
<line x1="195.70000000000002" y1="445.97" x2="198.3" y2="445.97" stroke="#d4d4d4" stroke-width="1"/>
<line x1="195.70000000000002" y1="447.88" x2="198.3" y2="447.88" stroke="#d4d4d4" stroke-width="1"/>
<line x1="195.70000000000002" y1="449.79" x2="198.3" y2="449.79" stroke="#d4d4d4" stroke-width="1"/>
<line x1="191.8" y1="451.70" x2="198.3" y2="451.70" stroke="#d4d4d4" stroke-width="1"/>
<line x1="195.70000000000002" y1="453.61" x2="198.3" y2="453.61" stroke="#d4d4d4" stroke-width="1"/>
<line x1="195.70000000000002" y1="455.52" x2="198.3" y2="455.52" stroke="#d4d4d4" stroke-width="1"/>
<line x1="195.70000000000002" y1="457.43" x2="198.3" y2="457.43" stroke="#d4d4d4" stroke-width="1"/>
<line x1="195.70000000000002" y1="459.34" x2="198.3" y2="459.34" stroke="#d4d4d4" stroke-width="1"/>
<line x1="193.8" y1="461.25" x2="198.3" y2="461.25" stroke="#d4d4d4" stroke-width="1"/>
<line x1="195.70000000000002" y1="463.16" x2="198.3" y2="463.16" stroke="#d4d4d4" stroke-width="1"/>
<line x1="195.70000000000002" y1="465.07" x2="198.3" y2="465.07" stroke="#d4d4d4" stroke-width="1"/>
<line x1="195.70000000000002" y1="466.98" x2="198.3" y2="466.98" stroke="#d4d4d4" stroke-width="1"/>
<line x1="195.70000000000002" y1="468.89" x2="198.3" y2="468.89" stroke="#d4d4d4" stroke-width="1"/>
<line x1="191.8" y1="470.80" x2="198.3" y2="470.80" stroke="#d4d4d4" stroke-width="1"/>
<line x1="195.70000000000002" y1="472.71" x2="198.3" y2="472.71" stroke="#d4d4d4" stroke-width="1"/>
<line x1="195.70000000000002" y1="474.62" x2="198.3" y2="474.62" stroke="#d4d4d4" stroke-width="1"/>
<line x1="195.70000000000002" y1="476.53" x2="198.3" y2="476.53" stroke="#d4d4d4" stroke-width="1"/>
<line x1="195.70000000000002" y1="478.44" x2="198.3" y2="478.44" stroke="#d4d4d4" stroke-width="1"/>
<line x1="193.8" y1="480.35" x2="198.3" y2="480.35" stroke="#d4d4d4" stroke-width="1"/>
<line x1="195.70000000000002" y1="482.26" x2="198.3" y2="482.26" stroke="#d4d4d4" stroke-width="1"/>
<line x1="195.70000000000002" y1="484.17" x2="198.3" y2="484.17" stroke="#d4d4d4" stroke-width="1"/>
<line x1="195.70000000000002" y1="486.08" x2="198.3" y2="486.08" stroke="#d4d4d4" stroke-width="1"/>
<line x1="195.70000000000002" y1="487.99" x2="198.3" y2="487.99" stroke="#d4d4d4" stroke-width="1"/>
<line x1="198.3" y1="356.2" x2="198.3" y2="489.5" stroke="#bbb" stroke-width="0.8"/>
<text x="210" y="360.3" font-size="6.5" font-weight="bold" fill="#d8d8d8" text-anchor="middle">mm</text>
<text x="210" y="378.2" font-size="7.6" font-weight="bold" fill="#e4e4e4" text-anchor="middle">10</text>
<text x="210" y="397.3" font-size="7.6" font-weight="bold" fill="#e4e4e4" text-anchor="middle">11</text>
<text x="210" y="416.4" font-size="7.6" font-weight="bold" fill="#e4e4e4" text-anchor="middle">12</text>
<text x="210" y="435.5" font-size="7.6" font-weight="bold" fill="#e4e4e4" text-anchor="middle">13</text>
<text x="210" y="454.6" font-size="7.6" font-weight="bold" fill="#e4e4e4" text-anchor="middle">14</text>
<text x="210" y="473.7" font-size="7.6" font-weight="bold" fill="#e4e4e4" text-anchor="middle">15</text>
<path d="M199.8,426.2 L203.3,424.4 L203.3,428.0 Z" fill="none" stroke="#ddd" stroke-width="0.7"/>
<line x1="62.8" y1="390.6" x2="62.8" y2="471" stroke="#1ab8b8" stroke-width="1.1" opacity="0.9"/>
<line x1="62.8" y1="390.6" x2="62.8" y2="471" stroke="#6ee" stroke-width="1.1" stroke-dasharray="1 1.6" opacity="0.9"/>
<circle cx="62.8" cy="390.6" r="1.2" fill="#3dd"/><circle cx="62.8" cy="471" r="1.2" fill="#3dd"/>
<line x1="92.4" y1="395.9" x2="92.4" y2="455.8" stroke="#1ab8b8" stroke-width="1.1" opacity="0.9"/>
<line x1="92.4" y1="395.9" x2="92.4" y2="455.8" stroke="#6ee" stroke-width="1.1" stroke-dasharray="1 1.6" opacity="0.9"/>
<circle cx="92.4" cy="395.9" r="1.2" fill="#3dd"/><circle cx="92.4" cy="455.8" r="1.2" fill="#3dd"/>
<text x="8.8" y="425.8" font-size="5.9" font-weight="bold" fill="#2cc4c4" stroke="#0a1414" stroke-width="1.3" paint-order="stroke" textLength="42.3" lengthAdjust="spacingAndGlyphs">LVID; d (1) =</text>
<text x="12.3" y="433.3" font-size="5.9" font-weight="bold" fill="#2cc4c4" stroke="#0a1414" stroke-width="1.3" paint-order="stroke" textLength="38.8" lengthAdjust="spacingAndGlyphs">D : 4.18 mm</text>
<text x="105.8" y="426.3" font-size="5.9" font-weight="bold" fill="#2cc4c4" stroke="#0a1414" stroke-width="1.3" paint-order="stroke" textLength="40.6" lengthAdjust="spacingAndGlyphs">LVID; s (1) =</text>
<text x="107.6" y="434.3" font-size="5.9" font-weight="bold" fill="#2cc4c4" stroke="#0a1414" stroke-width="1.3" paint-order="stroke" textLength="38.8" lengthAdjust="spacingAndGlyphs">D : 2.90 mm</text>
<text x="3.5" y="370" font-size="19.5" font-weight="bold" fill="#000" stroke="#000" stroke-width="0.9">e</text>
<rect x="1.5" y="497.8" width="218.5" height="141.7" fill="#060606"/>
<clipPath id="clipf"><rect x="2" y="501" width="187" height="134.29999999999995"/></clipPath>
<g clip-path="url(#clipf)"><g filter="url(#soft)">
<rect x="2" y="501" width="187" height="134.29999999999995" fill="#1a1a1a"/>
<path d="M0.0,499.0 C31.8,499.0 159.2,499.0 191.0,499.0 L192.0,510.8 C176.7,510.8 132.0,510.7 100.0,510.6 C68.0,510.5 16.7,510.4 0.0,510.3 Z" fill="#767676" />
<path d="M0.0,510.3 C16.7,510.4 68.0,510.5 100.0,510.6 C132.0,510.7 176.7,510.8 192.0,510.8 L192.0,516.5 C176.7,516.5 132.0,516.5 100.0,516.4 C68.0,516.3 16.7,516.1 0.0,516.0 Z" fill="#d5d5d5" />
<path d="M0.0,516.0 C16.7,516.1 68.0,516.3 100.0,516.4 C132.0,516.5 176.7,516.5 192.0,516.5 L192.0,535.5 C191.2,535.6 189.9,534.8 187.0,536.0 C184.1,537.2 179.1,542.4 174.7,543.0 C170.3,543.6 165.8,540.7 160.5,539.4 C155.2,538.1 148.9,535.9 143.0,535.0 C137.1,534.1 130.6,533.8 125.3,534.2 C120.0,534.7 115.0,536.4 111.2,537.7 C107.4,539.0 105.8,541.8 102.3,542.1 C98.8,542.4 93.8,540.4 90.0,539.4 C86.2,538.4 83.2,537.0 79.4,536.0 C75.6,535.0 71.4,533.6 67.0,533.3 C62.6,533.0 56.8,533.2 53.0,534.2 C49.2,535.2 47.5,538.2 44.0,539.4 C40.5,540.6 36.1,541.5 31.7,541.2 C27.3,540.9 22.9,538.7 17.6,537.7 C12.3,536.7 2.9,535.5 0.0,535.0 Z" fill="#555555" />
<path d="M0.0,616.0 C1.8,615.0 7.3,612.5 10.6,610.3 C13.9,608.1 16.5,604.8 20.0,603.0 C23.5,601.2 27.5,599.7 31.7,599.7 C35.9,599.7 40.3,601.7 45.0,603.0 C49.7,604.3 56.3,606.4 60.0,607.5 C63.7,608.6 63.7,610.0 67.0,609.4 C70.3,608.8 75.3,605.6 80.0,604.0 C84.7,602.4 91.5,600.4 95.2,599.7 C98.9,599.0 99.0,599.0 102.3,599.7 C105.6,600.4 109.7,602.2 115.0,604.0 C120.3,605.8 128.2,610.1 134.0,610.3 C139.8,610.5 144.1,606.8 150.0,605.0 C155.9,603.2 164.4,600.2 169.4,599.7 C174.4,599.2 176.2,601.0 180.0,602.0 C183.8,603.0 190.0,605.3 192.0,606.0 L191.0,637.3 C159.2,637.3 31.8,637.3 0.0,637.3 Z" fill="#272727" />
<path d="M0.0,499.0 C31.8,499.0 159.2,499.0 191.0,499.0 L192.0,535.5 C191.2,535.6 189.9,534.8 187.0,536.0 C184.1,537.2 179.1,542.4 174.7,543.0 C170.3,543.6 165.8,540.7 160.5,539.4 C155.2,538.1 148.9,535.9 143.0,535.0 C137.1,534.1 130.6,533.8 125.3,534.2 C120.0,534.7 115.0,536.4 111.2,537.7 C107.4,539.0 105.8,541.8 102.3,542.1 C98.8,542.4 93.8,540.4 90.0,539.4 C86.2,538.4 83.2,537.0 79.4,536.0 C75.6,535.0 71.4,533.6 67.0,533.3 C62.6,533.0 56.8,533.2 53.0,534.2 C49.2,535.2 47.5,538.2 44.0,539.4 C40.5,540.6 36.1,541.5 31.7,541.2 C27.3,540.9 22.9,538.7 17.6,537.7 C12.3,536.7 2.9,535.5 0.0,535.0 Z" fill="#fff" filter="url(#strk)" opacity="0.22"/>
<path d="M0.0,499.0 C31.8,499.0 159.2,499.0 191.0,499.0 L192.0,535.5 C191.2,535.6 189.9,534.8 187.0,536.0 C184.1,537.2 179.1,542.4 174.7,543.0 C170.3,543.6 165.8,540.7 160.5,539.4 C155.2,538.1 148.9,535.9 143.0,535.0 C137.1,534.1 130.6,533.8 125.3,534.2 C120.0,534.7 115.0,536.4 111.2,537.7 C107.4,539.0 105.8,541.8 102.3,542.1 C98.8,542.4 93.8,540.4 90.0,539.4 C86.2,538.4 83.2,537.0 79.4,536.0 C75.6,535.0 71.4,533.6 67.0,533.3 C62.6,533.0 56.8,533.2 53.0,534.2 C49.2,535.2 47.5,538.2 44.0,539.4 C40.5,540.6 36.1,541.5 31.7,541.2 C27.3,540.9 22.9,538.7 17.6,537.7 C12.3,536.7 2.9,535.5 0.0,535.0 Z" fill="#000" filter="url(#strkK)" opacity="0.25"/>
<path d="M0.0,535.0 C2.9,535.5 12.3,536.7 17.6,537.7 C22.9,538.7 27.3,540.9 31.7,541.2 C36.1,541.5 40.5,540.6 44.0,539.4 C47.5,538.2 49.2,535.2 53.0,534.2 C56.8,533.2 62.6,533.0 67.0,533.3 C71.4,533.6 75.6,535.0 79.4,536.0 C83.2,537.0 86.2,538.4 90.0,539.4 C93.8,540.4 98.8,542.4 102.3,542.1 C105.8,541.8 107.4,539.0 111.2,537.7 C115.0,536.4 120.0,534.7 125.3,534.2 C130.6,533.8 137.1,534.1 143.0,535.0 C148.9,535.9 155.2,538.1 160.5,539.4 C165.8,540.7 170.3,543.6 174.7,543.0 C179.1,542.4 184.1,537.2 187.0,536.0 C189.9,534.8 191.2,535.6 192.0,535.5 L192.0,621.0 C189.2,620.7 180.2,619.6 175.0,619.0 C169.8,618.4 165.2,617.0 160.5,617.3 C155.8,617.6 151.4,619.5 147.0,621.0 C142.6,622.5 138.5,626.1 134.0,626.1 C129.5,626.1 124.4,622.6 120.0,621.0 C115.6,619.4 111.1,617.2 107.6,616.4 C104.1,615.6 102.0,616.0 98.8,616.4 C95.6,616.8 92.9,617.4 88.2,619.0 C83.5,620.6 76.4,625.5 70.5,626.1 C64.6,626.7 59.8,623.9 53.0,622.6 C46.2,621.3 36.3,618.5 30.0,618.2 C23.7,617.9 20.0,620.0 15.0,621.0 C10.0,622.0 2.5,623.8 0.0,624.4 Z" fill="#fff" filter="url(#spkW)" opacity="0.12"/>
<path d="M0.0,535.0 C2.9,535.5 12.3,536.7 17.6,537.7 C22.9,538.7 27.3,540.9 31.7,541.2 C36.1,541.5 40.5,540.6 44.0,539.4 C47.5,538.2 49.2,535.2 53.0,534.2 C56.8,533.2 62.6,533.0 67.0,533.3 C71.4,533.6 75.6,535.0 79.4,536.0 C83.2,537.0 86.2,538.4 90.0,539.4 C93.8,540.4 98.8,542.4 102.3,542.1 C105.8,541.8 107.4,539.0 111.2,537.7 C115.0,536.4 120.0,534.7 125.3,534.2 C130.6,533.8 137.1,534.1 143.0,535.0 C148.9,535.9 155.2,538.1 160.5,539.4 C165.8,540.7 170.3,543.6 174.7,543.0 C179.1,542.4 184.1,537.2 187.0,536.0 C189.9,534.8 191.2,535.6 192.0,535.5 L192.0,621.0 C189.2,620.7 180.2,619.6 175.0,619.0 C169.8,618.4 165.2,617.0 160.5,617.3 C155.8,617.6 151.4,619.5 147.0,621.0 C142.6,622.5 138.5,626.1 134.0,626.1 C129.5,626.1 124.4,622.6 120.0,621.0 C115.6,619.4 111.1,617.2 107.6,616.4 C104.1,615.6 102.0,616.0 98.8,616.4 C95.6,616.8 92.9,617.4 88.2,619.0 C83.5,620.6 76.4,625.5 70.5,626.1 C64.6,626.7 59.8,623.9 53.0,622.6 C46.2,621.3 36.3,618.5 30.0,618.2 C23.7,617.9 20.0,620.0 15.0,621.0 C10.0,622.0 2.5,623.8 0.0,624.4 Z" fill="#000" filter="url(#spkK)" opacity="0.35"/>
<path d="M0.0,516.0 C16.7,516.1 68.0,516.3 100.0,516.4 C132.0,516.5 176.7,516.5 192.0,516.5 L192.0,535.5 C191.2,535.6 189.9,534.8 187.0,536.0 C184.1,537.2 179.1,542.4 174.7,543.0 C170.3,543.6 165.8,540.7 160.5,539.4 C155.2,538.1 148.9,535.9 143.0,535.0 C137.1,534.1 130.6,533.8 125.3,534.2 C120.0,534.7 115.0,536.4 111.2,537.7 C107.4,539.0 105.8,541.8 102.3,542.1 C98.8,542.4 93.8,540.4 90.0,539.4 C86.2,538.4 83.2,537.0 79.4,536.0 C75.6,535.0 71.4,533.6 67.0,533.3 C62.6,533.0 56.8,533.2 53.0,534.2 C49.2,535.2 47.5,538.2 44.0,539.4 C40.5,540.6 36.1,541.5 31.7,541.2 C27.3,540.9 22.9,538.7 17.6,537.7 C12.3,536.7 2.9,535.5 0.0,535.0 Z" fill="#fff" filter="url(#spkW)" opacity="0.06"/>
<path d="M0.0,503.5 C2.0,503.5 8.0,503.4 12.0,503.5 C16.0,503.6 20.0,503.9 24.0,504.0 C28.0,504.1 32.0,504.2 36.0,504.1 C40.0,503.9 44.0,503.3 48.0,503.2 C52.0,503.1 56.0,503.5 60.0,503.6 C64.0,503.7 68.0,503.7 72.0,503.7 C76.0,503.8 80.0,503.8 84.0,503.9 C88.0,504.0 92.0,504.3 96.0,504.3 C100.0,504.3 104.0,504.0 108.0,503.9 C112.0,503.9 116.0,504.2 120.0,504.2 C124.0,504.1 128.0,504.0 132.0,503.8 C136.0,503.6 140.0,503.2 144.0,503.1 C148.0,503.0 152.0,503.2 156.0,503.1 C160.0,503.0 164.0,502.5 168.0,502.6 C172.0,502.7 176.0,503.5 180.0,503.5 C184.0,503.6 190.0,503.0 192.0,502.9" stroke="#c8c8c8" stroke-width="1.1" opacity="0.6" fill="none"/>
<path d="M0.0,505.6 C2.0,505.6 8.0,505.5 12.0,505.4 C16.0,505.3 20.0,504.9 24.0,505.1 C28.0,505.3 32.0,506.4 36.0,506.5 C40.0,506.6 44.0,505.7 48.0,505.7 C52.0,505.6 56.0,506.1 60.0,506.3 C64.0,506.5 68.0,506.8 72.0,506.7 C76.0,506.6 80.0,505.7 84.0,505.6 C88.0,505.5 92.0,506.2 96.0,506.1 C100.0,506.1 104.0,505.5 108.0,505.3 C112.0,505.2 116.0,505.1 120.0,505.3 C124.0,505.5 128.0,506.4 132.0,506.4 C136.0,506.4 140.0,505.2 144.0,505.3 C148.0,505.3 152.0,506.8 156.0,506.9 C160.0,506.9 164.0,505.6 168.0,505.6 C172.0,505.5 176.0,506.5 180.0,506.7 C184.0,506.9 190.0,506.8 192.0,506.8" stroke="#555" stroke-width="1" opacity="0.5" fill="none"/>
<path d="M0.0,507.2 C2.0,507.3 8.0,507.7 12.0,507.8 C16.0,507.9 20.0,508.0 24.0,508.0 C28.0,507.9 32.0,507.6 36.0,507.5 C40.0,507.4 44.0,507.5 48.0,507.6 C52.0,507.6 56.0,507.7 60.0,507.8 C64.0,507.9 68.0,508.0 72.0,508.0 C76.0,507.9 80.0,507.5 84.0,507.6 C88.0,507.6 92.0,508.1 96.0,508.2 C100.0,508.3 104.0,508.1 108.0,508.1 C112.0,508.1 116.0,508.2 120.0,508.1 C124.0,507.9 128.0,507.1 132.0,507.2 C136.0,507.3 140.0,508.6 144.0,508.7 C148.0,508.8 152.0,508.0 156.0,507.8 C160.0,507.7 164.0,507.9 168.0,507.8 C172.0,507.8 176.0,507.5 180.0,507.4 C184.0,507.4 190.0,507.6 192.0,507.6" stroke="#bbb" stroke-width="1" opacity="0.5" fill="none"/>
<path d="M109.1,509.4 C110.5,509.3 114.8,508.8 117.6,508.8 C120.5,508.8 123.3,509.3 126.2,509.4 C129.0,509.5 131.8,509.7 134.7,509.5 C137.5,509.2 141.8,508.3 143.2,508.0" stroke="#666" stroke-width="0.95" opacity="0.49" fill="none" stroke-linecap="round"/>
<path d="M64.8,503.6 C65.5,503.6 67.6,503.9 68.9,503.8 C70.3,503.6 71.7,502.8 73.1,502.8 C74.5,502.8 75.9,503.7 77.3,503.7 C78.7,503.7 80.8,503.0 81.5,502.9" stroke="#e6e6e6" stroke-width="1.31" opacity="0.47" fill="none" stroke-linecap="round"/>
<path d="M47.3,506.1 C48.5,506.0 52.1,505.4 54.5,505.3 C56.9,505.2 59.3,505.7 61.7,505.6 C64.0,505.6 66.4,504.9 68.8,504.8 C71.2,504.8 74.8,505.4 76.0,505.5" stroke="#bdbdbd" stroke-width="0.83" opacity="0.52" fill="none" stroke-linecap="round"/>
<path d="M-6.3,508.9 C-5.5,509.0 -3.1,509.3 -1.6,509.3 C-0.0,509.3 1.6,508.8 3.1,508.8 C4.7,508.8 6.3,509.3 7.8,509.3 C9.4,509.3 11.7,508.7 12.5,508.6" stroke="#666" stroke-width="1.15" opacity="0.50" fill="none" stroke-linecap="round"/>
<path d="M122.0,507.9 C123.7,507.9 128.6,508.1 131.8,508.0 C135.1,507.9 138.4,507.3 141.6,507.1 C144.9,506.9 148.1,506.9 151.4,506.9 C154.7,506.9 159.6,507.1 161.2,507.2" stroke="#bdbdbd" stroke-width="1.14" opacity="0.54" fill="none" stroke-linecap="round"/>
<path d="M61.4,506.2 C62.5,506.2 65.9,506.4 68.1,506.3 C70.3,506.3 72.5,505.9 74.7,505.8 C76.9,505.8 79.1,506.0 81.3,506.0 C83.5,505.9 86.8,505.8 87.9,505.7" stroke="#d0d0d0" stroke-width="1.35" opacity="0.53" fill="none" stroke-linecap="round"/>
<path d="M30.9,503.0 C32.8,502.9 38.6,502.5 42.5,502.5 C46.3,502.4 50.2,502.8 54.0,502.8 C57.9,502.8 61.7,502.2 65.6,502.3 C69.4,502.4 75.2,503.3 77.1,503.6" stroke="#666" stroke-width="0.87" opacity="0.41" fill="none" stroke-linecap="round"/>
<path d="M109.5,504.2 C111.0,504.2 115.5,504.0 118.5,504.0 C121.5,504.1 124.5,504.2 127.5,504.3 C130.5,504.3 133.5,504.3 136.5,504.3 C139.5,504.3 144.0,504.4 145.5,504.4" stroke="#d0d0d0" stroke-width="0.82" opacity="0.50" fill="none" stroke-linecap="round"/>
<path d="M11.8,504.7 C13.8,504.6 19.6,504.2 23.4,504.0 C27.3,503.8 31.2,503.5 35.1,503.4 C38.9,503.4 42.8,503.6 46.7,503.7 C50.5,503.9 56.3,504.2 58.3,504.3" stroke="#d0d0d0" stroke-width="1.00" opacity="0.58" fill="none" stroke-linecap="round"/>
<path d="M-1.4,507.9 C-0.5,508.0 2.3,508.2 4.2,508.4 C6.0,508.6 7.9,509.2 9.7,509.3 C11.6,509.4 13.4,509.2 15.3,509.2 C17.2,509.1 19.9,509.0 20.9,509.0" stroke="#555" stroke-width="0.97" opacity="0.75" fill="none" stroke-linecap="round"/>
<path d="M53.6,505.4 C55.2,505.6 60.1,506.5 63.4,506.6 C66.7,506.7 69.9,506.0 73.2,505.9 C76.5,505.8 79.7,506.0 83.0,506.0 C86.2,505.9 91.1,505.6 92.8,505.5" stroke="#666" stroke-width="1.33" opacity="0.45" fill="none" stroke-linecap="round"/>
<path d="M16.2,505.8 C17.3,505.6 20.6,504.9 22.8,504.8 C25.0,504.7 27.2,505.1 29.4,505.1 C31.6,505.1 33.8,504.6 36.0,504.8 C38.2,504.9 41.5,505.7 42.6,505.9" stroke="#bdbdbd" stroke-width="1.28" opacity="0.69" fill="none" stroke-linecap="round"/>
<path d="M120.4,504.6 C122.0,504.4 126.5,503.6 129.5,503.4 C132.5,503.2 135.6,503.4 138.6,503.5 C141.6,503.5 144.6,503.7 147.7,503.8 C150.7,504.0 155.2,504.3 156.7,504.3" stroke="#d0d0d0" stroke-width="0.92" opacity="0.64" fill="none" stroke-linecap="round"/>
<path d="M76.6,503.4 C78.7,503.4 84.8,503.0 88.9,503.1 C93.0,503.3 97.1,504.1 101.2,504.2 C105.3,504.3 109.4,503.8 113.5,503.7 C117.6,503.6 123.7,503.5 125.7,503.5" stroke="#d0d0d0" stroke-width="1.03" opacity="0.70" fill="none" stroke-linecap="round"/>
<path d="M21.8,505.6 C23.0,505.8 26.4,506.4 28.8,506.5 C31.1,506.6 33.4,506.3 35.8,506.2 C38.1,506.1 40.4,505.7 42.8,505.6 C45.1,505.5 48.6,505.7 49.7,505.7" stroke="#d0d0d0" stroke-width="1.04" opacity="0.50" fill="none" stroke-linecap="round"/>
<path d="M167.5,509.1 C168.4,509.0 171.1,508.4 172.9,508.2 C174.7,508.1 176.5,508.0 178.4,508.2 C180.2,508.3 182.0,509.0 183.8,509.0 C185.6,509.0 188.3,508.3 189.2,508.1" stroke="#555" stroke-width="1.07" opacity="0.70" fill="none" stroke-linecap="round"/>
<path d="M116.7,502.0 C119.0,502.1 125.9,502.8 130.5,502.7 C135.0,502.7 139.6,501.6 144.2,501.7 C148.8,501.7 153.4,502.7 157.9,502.8 C162.5,502.9 169.4,502.3 171.7,502.2" stroke="#666" stroke-width="0.93" opacity="0.65" fill="none" stroke-linecap="round"/>
<path d="M116.0,503.2 C117.7,503.1 122.8,502.8 126.2,502.7 C129.5,502.7 132.9,503.0 136.3,502.9 C139.7,502.8 143.1,502.1 146.5,502.0 C149.9,501.9 155.0,502.4 156.7,502.4" stroke="#555" stroke-width="1.13" opacity="0.61" fill="none" stroke-linecap="round"/>
<path d="M-0.6,505.0 C0.8,505.1 5.1,505.5 7.9,505.7 C10.7,505.8 13.5,506.2 16.3,506.1 C19.1,506.1 21.9,505.7 24.7,505.4 C27.5,505.2 31.7,504.9 33.1,504.8" stroke="#666" stroke-width="0.81" opacity="0.65" fill="none" stroke-linecap="round"/>
<path d="M94.7,506.7 C96.7,506.7 102.9,506.8 107.0,506.9 C111.1,507.0 115.2,507.2 119.3,507.2 C123.5,507.3 127.6,507.2 131.7,507.0 C135.8,506.9 142.0,506.4 144.0,506.3" stroke="#e6e6e6" stroke-width="1.32" opacity="0.42" fill="none" stroke-linecap="round"/>
<path d="M66.1,501.8 C68.5,502.0 75.6,502.8 80.3,502.8 C85.1,502.7 89.8,501.8 94.5,501.6 C99.3,501.5 104.0,502.1 108.8,502.1 C113.5,502.1 120.6,501.7 123.0,501.6" stroke="#d0d0d0" stroke-width="0.89" opacity="0.54" fill="none" stroke-linecap="round"/>
<path d="M108.6,503.7 C109.3,503.7 111.4,503.7 112.9,503.7 C114.3,503.6 115.7,503.5 117.2,503.5 C118.6,503.4 120.0,503.3 121.4,503.3 C122.9,503.3 125.0,503.5 125.7,503.5" stroke="#d0d0d0" stroke-width="1.21" opacity="0.74" fill="none" stroke-linecap="round"/>
<path d="M106.0,504.3 C107.5,504.2 112.0,503.9 115.0,504.0 C118.0,504.2 121.0,505.0 124.1,505.1 C127.1,505.2 130.1,504.6 133.1,504.6 C136.1,504.5 140.7,504.7 142.2,504.8" stroke="#666" stroke-width="1.35" opacity="0.47" fill="none" stroke-linecap="round"/>
<path d="M132.3,507.7 C133.3,507.6 136.3,507.0 138.3,507.2 C140.2,507.4 142.2,508.5 144.2,508.7 C146.2,509.0 148.2,508.7 150.1,508.6 C152.1,508.6 155.1,508.5 156.1,508.5" stroke="#bdbdbd" stroke-width="1.09" opacity="0.45" fill="none" stroke-linecap="round"/>
<path d="M86.5,501.7 C88.0,501.8 92.7,502.3 95.9,502.4 C99.0,502.6 102.1,502.8 105.3,502.7 C108.4,502.6 111.5,501.9 114.7,501.7 C117.8,501.6 122.5,501.9 124.1,502.0" stroke="#666" stroke-width="0.84" opacity="0.72" fill="none" stroke-linecap="round"/>
<path d="M52.2,503.5 C54.2,503.5 60.2,503.7 64.2,503.6 C68.2,503.5 72.2,503.1 76.2,502.9 C80.2,502.6 84.3,502.1 88.3,502.1 C92.3,502.2 98.3,503.0 100.3,503.2" stroke="#d0d0d0" stroke-width="1.13" opacity="0.74" fill="none" stroke-linecap="round"/>
<path d="M148.6,507.3 C150.0,507.5 154.2,508.3 157.1,508.4 C159.9,508.5 162.7,508.1 165.6,508.0 C168.4,507.8 171.3,507.3 174.1,507.3 C176.9,507.4 181.2,508.2 182.6,508.3" stroke="#666" stroke-width="1.05" opacity="0.58" fill="none" stroke-linecap="round"/>
<path d="M62.1,506.4 C62.8,506.2 65.1,505.4 66.6,505.4 C68.1,505.4 69.6,506.4 71.1,506.4 C72.6,506.5 74.2,505.8 75.7,505.7 C77.2,505.6 79.5,505.9 80.2,505.9" stroke="#bdbdbd" stroke-width="1.36" opacity="0.50" fill="none" stroke-linecap="round"/>
<path d="M-3.8,503.7 C-2.2,503.6 2.5,503.2 5.7,503.2 C8.8,503.3 12.0,503.9 15.2,503.9 C18.3,503.8 21.5,503.0 24.6,502.9 C27.8,502.7 32.6,502.8 34.1,502.8" stroke="#d0d0d0" stroke-width="1.16" opacity="0.78" fill="none" stroke-linecap="round"/>
<path d="M75.3,507.8 C77.3,507.8 83.5,508.0 87.6,508.1 C91.7,508.2 95.8,508.4 99.9,508.3 C104.0,508.2 108.2,507.4 112.3,507.4 C116.4,507.4 122.5,508.0 124.6,508.1" stroke="#e6e6e6" stroke-width="0.91" opacity="0.69" fill="none" stroke-linecap="round"/>
<path d="M0.0,513.1 C16.7,513.2 68.0,513.4 100.0,513.5 C132.0,513.6 176.7,513.6 192.0,513.6" fill="none" stroke="#fbfbfb" stroke-width="2.4" />
<path d="M0.0,518.9 C0.7,518.7 2.3,518.3 4.0,518.0 C5.7,517.7 8.0,516.9 10.0,517.0 C12.0,517.1 14.0,518.2 16.0,518.5 C18.0,518.8 20.0,518.8 22.0,518.8 C24.0,518.7 26.0,518.2 28.0,518.2 C30.0,518.1 32.0,518.6 34.0,518.5 C36.0,518.5 38.0,518.0 40.0,517.9 C42.0,517.9 44.0,518.1 46.0,518.1 C48.0,518.0 50.0,517.8 52.0,517.7 C54.0,517.7 56.0,517.7 58.0,517.7 C60.0,517.8 62.0,518.2 64.0,518.1 C66.0,517.9 68.0,517.1 70.0,517.1 C72.0,517.0 74.0,517.6 76.0,518.0 C78.0,518.3 80.0,519.2 82.0,519.2 C84.0,519.2 86.0,518.1 88.0,518.0 C90.0,517.9 92.0,518.3 94.0,518.5 C96.0,518.7 98.0,519.0 100.0,519.1 C102.0,519.3 104.0,519.8 106.0,519.6 C108.0,519.4 110.0,518.2 112.0,518.1 C114.0,518.0 116.0,518.6 118.0,518.8 C120.0,518.9 122.0,519.3 124.0,519.1 C126.0,518.9 128.0,517.7 130.0,517.4 C132.0,517.2 134.0,517.4 136.0,517.7 C138.0,518.0 140.0,519.1 142.0,519.2 C144.0,519.3 146.0,518.4 148.0,518.3 C150.0,518.2 152.0,518.6 154.0,518.5 C156.0,518.5 158.0,518.0 160.0,518.1 C162.0,518.1 164.0,518.6 166.0,518.9 C168.0,519.3 170.0,520.1 172.0,520.2 C174.0,520.3 176.0,519.5 178.0,519.3 C180.0,519.1 182.0,519.0 184.0,518.8 C186.0,518.6 188.7,518.1 190.0,518.1 C191.3,518.1 191.7,518.8 192.0,518.9" fill="none" stroke="#b5b5b5" stroke-width="1.1" opacity="0.75"/>
<path d="M0.0,518.9 C0.7,518.8 2.3,518.4 4.0,518.3 C5.7,518.3 8.0,518.4 10.0,518.7 C12.0,519.0 14.0,519.9 16.0,520.1 C18.0,520.4 20.0,520.0 22.0,520.1 C24.0,520.3 26.0,520.9 28.0,521.0 C30.0,521.1 32.0,520.7 34.0,520.6 C36.0,520.5 38.0,520.8 40.0,520.6 C42.0,520.4 44.0,519.7 46.0,519.4 C48.0,519.1 50.0,518.9 52.0,518.9 C54.0,518.9 56.0,519.7 58.0,519.6 C60.0,519.5 62.0,518.4 64.0,518.3 C66.0,518.2 68.0,518.7 70.0,519.0 C72.0,519.3 74.0,519.9 76.0,520.2 C78.0,520.5 80.0,520.9 82.0,520.7 C84.0,520.5 86.0,519.2 88.0,519.0 C90.0,518.9 92.0,519.5 94.0,519.9 C96.0,520.3 98.0,521.3 100.0,521.4 C102.0,521.4 104.0,520.4 106.0,520.0 C108.0,519.5 110.0,519.0 112.0,518.7 C114.0,518.5 116.0,518.2 118.0,518.4 C120.0,518.5 122.0,519.5 124.0,519.8 C126.0,520.1 128.0,520.6 130.0,520.4 C132.0,520.1 134.0,518.5 136.0,518.5 C138.0,518.4 140.0,519.8 142.0,519.8 C144.0,519.9 146.0,518.4 148.0,518.5 C150.0,518.6 152.0,519.8 154.0,520.3 C156.0,520.7 158.0,520.7 160.0,521.0 C162.0,521.3 164.0,522.1 166.0,521.8 C168.0,521.6 170.0,519.9 172.0,519.6 C174.0,519.3 176.0,520.0 178.0,520.1 C180.0,520.3 182.0,520.5 184.0,520.7 C186.0,520.9 188.7,521.3 190.0,521.1 C191.3,520.9 191.7,519.7 192.0,519.5" fill="none" stroke="#b5b5b5" stroke-width="0.77" opacity="0.375" stroke-dasharray="9 5"/>
<path d="M0.0,519.3 C0.7,519.4 2.3,519.7 4.0,520.0 C5.7,520.2 8.0,520.7 10.0,521.0 C12.0,521.3 14.0,522.1 16.0,521.9 C18.0,521.7 20.0,520.1 22.0,519.9 C24.0,519.7 26.0,520.7 28.0,520.9 C30.0,521.0 32.0,520.9 34.0,520.9 C36.0,520.8 38.0,520.6 40.0,520.7 C42.0,520.9 44.0,522.0 46.0,521.9 C48.0,521.8 50.0,520.5 52.0,520.3 C54.0,520.0 56.0,520.7 58.0,520.5 C60.0,520.2 62.0,519.2 64.0,519.0 C66.0,518.7 68.0,518.8 70.0,519.1 C72.0,519.3 74.0,520.1 76.0,520.2 C78.0,520.4 80.0,519.7 82.0,519.9 C84.0,520.1 86.0,521.0 88.0,521.4 C90.0,521.7 92.0,521.9 94.0,522.0 C96.0,522.2 98.0,522.4 100.0,522.4 C102.0,522.4 104.0,522.3 106.0,522.2 C108.0,522.1 110.0,521.9 112.0,521.8 C114.0,521.7 116.0,522.1 118.0,521.7 C120.0,521.3 122.0,519.6 124.0,519.3 C126.0,519.1 128.0,519.8 130.0,520.0 C132.0,520.1 134.0,520.0 136.0,520.3 C138.0,520.6 140.0,521.5 142.0,521.7 C144.0,521.8 146.0,521.6 148.0,521.4 C150.0,521.2 152.0,520.6 154.0,520.5 C156.0,520.4 158.0,520.3 160.0,520.7 C162.0,521.1 164.0,522.6 166.0,522.9 C168.0,523.2 170.0,522.6 172.0,522.6 C174.0,522.6 176.0,522.9 178.0,522.8 C180.0,522.6 182.0,522.0 184.0,521.6 C186.0,521.1 188.7,520.3 190.0,520.2 C191.3,520.0 191.7,520.5 192.0,520.6" fill="none" stroke="#2e2e2e" stroke-width="1.0" opacity="0.6"/>
<path d="M0.0,521.5 C0.7,521.3 2.3,520.7 4.0,520.5 C5.7,520.4 8.0,520.3 10.0,520.6 C12.0,520.9 14.0,522.2 16.0,522.3 C18.0,522.5 20.0,521.5 22.0,521.5 C24.0,521.4 26.0,521.9 28.0,522.0 C30.0,522.1 32.0,522.0 34.0,522.3 C36.0,522.5 38.0,523.8 40.0,523.6 C42.0,523.4 44.0,521.5 46.0,521.1 C48.0,520.7 50.0,521.0 52.0,521.0 C54.0,521.0 56.0,521.3 58.0,521.2 C60.0,521.1 62.0,520.2 64.0,520.4 C66.0,520.6 68.0,522.0 70.0,522.4 C72.0,522.9 74.0,522.7 76.0,522.9 C78.0,523.1 80.0,523.5 82.0,523.7 C84.0,523.8 86.0,523.9 88.0,524.0 C90.0,524.0 92.0,524.2 94.0,524.1 C96.0,524.0 98.0,523.8 100.0,523.5 C102.0,523.2 104.0,522.3 106.0,522.2 C108.0,522.1 110.0,523.2 112.0,523.0 C114.0,522.7 116.0,521.1 118.0,520.7 C120.0,520.3 122.0,520.5 124.0,520.7 C126.0,520.9 128.0,521.4 130.0,521.7 C132.0,522.0 134.0,522.7 136.0,522.6 C138.0,522.5 140.0,521.2 142.0,521.1 C144.0,521.0 146.0,522.0 148.0,522.1 C150.0,522.3 152.0,521.6 154.0,521.9 C156.0,522.3 158.0,524.1 160.0,524.2 C162.0,524.3 164.0,522.3 166.0,522.5 C168.0,522.7 170.0,525.2 172.0,525.4 C174.0,525.5 176.0,524.1 178.0,523.7 C180.0,523.2 182.0,522.8 184.0,522.6 C186.0,522.5 188.7,523.0 190.0,522.8 C191.3,522.5 191.7,521.4 192.0,521.1" fill="none" stroke="#2e2e2e" stroke-width="0.7" opacity="0.3" stroke-dasharray="17 5"/>
<path d="M0.0,521.6 C0.7,521.7 2.3,521.7 4.0,522.1 C5.7,522.5 8.0,524.0 10.0,524.1 C12.0,524.1 14.0,522.4 16.0,522.4 C18.0,522.5 20.0,524.2 22.0,524.5 C24.0,524.9 26.0,524.7 28.0,524.6 C30.0,524.5 32.0,524.0 34.0,524.0 C36.0,524.0 38.0,524.6 40.0,524.6 C42.0,524.6 44.0,524.7 46.0,524.2 C48.0,523.8 50.0,522.4 52.0,522.0 C54.0,521.5 56.0,521.6 58.0,521.6 C60.0,521.6 62.0,521.9 64.0,522.0 C66.0,522.0 68.0,521.7 70.0,521.8 C72.0,522.0 74.0,522.4 76.0,522.8 C78.0,523.1 80.0,523.8 82.0,523.9 C84.0,524.0 86.0,523.1 88.0,523.4 C90.0,523.6 92.0,525.2 94.0,525.5 C96.0,525.8 98.0,525.6 100.0,525.4 C102.0,525.3 104.0,524.9 106.0,524.5 C108.0,524.1 110.0,523.0 112.0,522.8 C114.0,522.6 116.0,523.2 118.0,523.2 C120.0,523.3 122.0,523.5 124.0,523.3 C126.0,523.1 128.0,522.4 130.0,522.2 C132.0,522.0 134.0,522.1 136.0,522.2 C138.0,522.4 140.0,522.9 142.0,523.2 C144.0,523.5 146.0,523.6 148.0,523.8 C150.0,524.1 152.0,524.6 154.0,524.7 C156.0,524.8 158.0,524.3 160.0,524.5 C162.0,524.6 164.0,525.6 166.0,525.6 C168.0,525.7 170.0,524.8 172.0,524.6 C174.0,524.4 176.0,524.4 178.0,524.3 C180.0,524.2 182.0,524.5 184.0,524.1 C186.0,523.7 188.7,522.3 190.0,522.1 C191.3,522.0 191.7,523.2 192.0,523.4" fill="none" stroke="#aaaaaa" stroke-width="1.1" opacity="0.7"/>
<path d="M0.0,524.7 C0.7,524.7 2.3,524.1 4.0,524.3 C5.7,524.5 8.0,525.8 10.0,526.0 C12.0,526.2 14.0,525.4 16.0,525.3 C18.0,525.3 20.0,525.7 22.0,525.7 C24.0,525.7 26.0,525.1 28.0,525.3 C30.0,525.6 32.0,527.4 34.0,527.3 C36.0,527.2 38.0,525.1 40.0,524.7 C42.0,524.4 44.0,525.2 46.0,525.2 C48.0,525.2 50.0,524.7 52.0,524.6 C54.0,524.4 56.0,524.2 58.0,524.1 C60.0,524.0 62.0,523.7 64.0,523.8 C66.0,523.9 68.0,524.3 70.0,524.5 C72.0,524.7 74.0,524.7 76.0,524.9 C78.0,525.1 80.0,525.3 82.0,525.5 C84.0,525.7 86.0,526.1 88.0,526.2 C90.0,526.3 92.0,526.1 94.0,526.0 C96.0,525.9 98.0,525.5 100.0,525.8 C102.0,526.0 104.0,527.6 106.0,527.6 C108.0,527.6 110.0,526.4 112.0,526.0 C114.0,525.5 116.0,525.5 118.0,524.9 C120.0,524.3 122.0,522.8 124.0,522.5 C126.0,522.2 128.0,522.7 130.0,523.1 C132.0,523.4 134.0,524.7 136.0,524.7 C138.0,524.8 140.0,523.1 142.0,523.2 C144.0,523.3 146.0,524.8 148.0,525.4 C150.0,526.0 152.0,526.3 154.0,526.6 C156.0,526.9 158.0,527.4 160.0,527.2 C162.0,527.1 164.0,525.8 166.0,525.6 C168.0,525.4 170.0,526.0 172.0,526.1 C174.0,526.1 176.0,526.3 178.0,526.0 C180.0,525.7 182.0,524.7 184.0,524.4 C186.0,524.1 188.7,523.9 190.0,524.2 C191.3,524.4 191.7,525.7 192.0,526.0" fill="none" stroke="#aaaaaa" stroke-width="0.77" opacity="0.35" stroke-dasharray="11 7"/>
<path d="M0.0,526.5 C0.7,526.5 2.3,526.2 4.0,526.3 C5.7,526.4 8.0,526.9 10.0,526.9 C12.0,526.9 14.0,525.8 16.0,526.1 C18.0,526.4 20.0,528.0 22.0,528.5 C24.0,529.0 26.0,528.8 28.0,529.0 C30.0,529.2 32.0,529.6 34.0,529.6 C36.0,529.6 38.0,529.0 40.0,528.8 C42.0,528.6 44.0,529.0 46.0,528.4 C48.0,527.8 50.0,525.8 52.0,525.3 C54.0,524.8 56.0,525.2 58.0,525.3 C60.0,525.4 62.0,526.0 64.0,526.0 C66.0,525.9 68.0,525.2 70.0,525.2 C72.0,525.2 74.0,525.7 76.0,526.1 C78.0,526.4 80.0,527.2 82.0,527.3 C84.0,527.3 86.0,526.2 88.0,526.4 C90.0,526.6 92.0,528.3 94.0,528.5 C96.0,528.7 98.0,527.7 100.0,527.8 C102.0,527.9 104.0,529.4 106.0,529.1 C108.0,528.9 110.0,527.1 112.0,526.5 C114.0,525.9 116.0,525.8 118.0,525.7 C120.0,525.6 122.0,525.7 124.0,525.8 C126.0,525.9 128.0,526.4 130.0,526.4 C132.0,526.4 134.0,526.0 136.0,525.8 C138.0,525.7 140.0,525.3 142.0,525.5 C144.0,525.6 146.0,526.3 148.0,526.8 C150.0,527.2 152.0,528.2 154.0,528.3 C156.0,528.3 158.0,526.9 160.0,527.0 C162.0,527.1 164.0,528.2 166.0,528.7 C168.0,529.2 170.0,529.8 172.0,530.0 C174.0,530.2 176.0,530.5 178.0,529.9 C180.0,529.3 182.0,526.7 184.0,526.2 C186.0,525.8 188.7,527.1 190.0,527.0 C191.3,526.8 191.7,525.6 192.0,525.3" fill="none" stroke="#333" stroke-width="1.0" opacity="0.6"/>
<path d="M0.0,527.2 C0.7,527.1 2.3,526.1 4.0,526.3 C5.7,526.4 8.0,527.9 10.0,528.2 C12.0,528.6 14.0,528.3 16.0,528.3 C18.0,528.2 20.0,527.7 22.0,527.9 C24.0,528.0 26.0,528.7 28.0,528.9 C30.0,529.1 32.0,528.5 34.0,528.9 C36.0,529.3 38.0,531.4 40.0,531.2 C42.0,530.9 44.0,528.3 46.0,527.5 C48.0,526.6 50.0,526.3 52.0,526.0 C54.0,525.8 56.0,525.9 58.0,525.9 C60.0,525.9 62.0,526.0 64.0,526.0 C66.0,526.0 68.0,526.0 70.0,526.0 C72.0,526.1 74.0,526.1 76.0,526.3 C78.0,526.6 80.0,527.0 82.0,527.6 C84.0,528.3 86.0,530.0 88.0,530.3 C90.0,530.5 92.0,528.9 94.0,529.1 C96.0,529.2 98.0,531.3 100.0,531.4 C102.0,531.5 104.0,530.1 106.0,529.4 C108.0,528.7 110.0,527.5 112.0,527.3 C114.0,527.1 116.0,528.0 118.0,528.0 C120.0,528.1 122.0,528.1 124.0,527.6 C126.0,527.1 128.0,525.3 130.0,525.3 C132.0,525.3 134.0,527.2 136.0,527.7 C138.0,528.1 140.0,527.7 142.0,527.9 C144.0,528.1 146.0,528.8 148.0,528.9 C150.0,529.1 152.0,528.6 154.0,528.6 C156.0,528.7 158.0,528.8 160.0,529.1 C162.0,529.3 164.0,530.0 166.0,530.4 C168.0,530.7 170.0,530.9 172.0,531.1 C174.0,531.3 176.0,531.9 178.0,531.7 C180.0,531.5 182.0,530.4 184.0,529.9 C186.0,529.3 188.7,528.9 190.0,528.3 C191.3,527.6 191.7,526.3 192.0,525.9" fill="none" stroke="#333" stroke-width="0.7" opacity="0.3" stroke-dasharray="11 7"/>
<path d="M0.0,528.3 C0.7,528.3 2.3,528.0 4.0,528.2 C5.7,528.4 8.0,529.5 10.0,529.7 C12.0,530.0 14.0,529.6 16.0,529.9 C18.0,530.1 20.0,530.8 22.0,531.1 C24.0,531.4 26.0,531.5 28.0,531.6 C30.0,531.7 32.0,531.9 34.0,531.7 C36.0,531.6 38.0,530.7 40.0,530.6 C42.0,530.5 44.0,531.6 46.0,531.0 C48.0,530.4 50.0,527.8 52.0,527.1 C54.0,526.4 56.0,526.8 58.0,526.8 C60.0,526.8 62.0,527.4 64.0,527.3 C66.0,527.2 68.0,526.1 70.0,526.4 C72.0,526.6 74.0,528.2 76.0,528.7 C78.0,529.2 80.0,528.9 82.0,529.3 C84.0,529.7 86.0,531.1 88.0,531.2 C90.0,531.4 92.0,530.2 94.0,530.4 C96.0,530.5 98.0,531.8 100.0,532.1 C102.0,532.4 104.0,532.6 106.0,532.2 C108.0,531.8 110.0,529.9 112.0,529.5 C114.0,529.1 116.0,530.4 118.0,529.9 C120.0,529.5 122.0,527.2 124.0,526.7 C126.0,526.3 128.0,527.1 130.0,527.2 C132.0,527.3 134.0,527.1 136.0,527.4 C138.0,527.7 140.0,528.7 142.0,529.1 C144.0,529.6 146.0,530.0 148.0,530.0 C150.0,530.0 152.0,529.1 154.0,529.2 C156.0,529.3 158.0,530.1 160.0,530.6 C162.0,531.2 164.0,532.1 166.0,532.6 C168.0,533.1 170.0,534.0 172.0,533.7 C174.0,533.4 176.0,531.5 178.0,530.8 C180.0,530.1 182.0,529.9 184.0,529.5 C186.0,529.0 188.7,528.0 190.0,528.0 C191.3,528.1 191.7,529.4 192.0,529.6" fill="none" stroke="#a5a5a5" stroke-width="1.1" opacity="0.7"/>
<path d="M0.0,530.1 C0.7,530.1 2.3,530.2 4.0,530.1 C5.7,529.9 8.0,528.7 10.0,529.0 C12.0,529.4 14.0,531.5 16.0,532.2 C18.0,532.8 20.0,532.8 22.0,532.8 C24.0,532.7 26.0,531.4 28.0,531.7 C30.0,532.1 32.0,534.7 34.0,534.9 C36.0,535.1 38.0,533.5 40.0,533.0 C42.0,532.5 44.0,532.3 46.0,531.8 C48.0,531.3 50.0,530.7 52.0,530.1 C54.0,529.5 56.0,528.5 58.0,528.3 C60.0,528.0 62.0,528.8 64.0,528.7 C66.0,528.6 68.0,527.5 70.0,527.6 C72.0,527.7 74.0,528.8 76.0,529.3 C78.0,529.7 80.0,529.9 82.0,530.3 C84.0,530.8 86.0,531.5 88.0,531.8 C90.0,532.2 92.0,531.9 94.0,532.4 C96.0,533.0 98.0,534.8 100.0,535.0 C102.0,535.2 104.0,534.1 106.0,533.6 C108.0,533.2 110.0,533.0 112.0,532.4 C114.0,531.8 116.0,530.4 118.0,530.0 C120.0,529.6 122.0,530.0 124.0,529.9 C126.0,529.8 128.0,529.6 130.0,529.5 C132.0,529.4 134.0,529.0 136.0,529.1 C138.0,529.3 140.0,530.2 142.0,530.4 C144.0,530.7 146.0,530.5 148.0,530.6 C150.0,530.6 152.0,530.1 154.0,530.5 C156.0,530.9 158.0,532.5 160.0,533.0 C162.0,533.5 164.0,533.0 166.0,533.5 C168.0,534.0 170.0,535.6 172.0,535.8 C174.0,536.1 176.0,536.1 178.0,535.1 C180.0,534.1 182.0,530.7 184.0,530.0 C186.0,529.2 188.7,530.4 190.0,530.4 C191.3,530.4 191.7,530.0 192.0,529.9" fill="none" stroke="#a5a5a5" stroke-width="0.77" opacity="0.35" stroke-dasharray="8 6"/>
<path d="M0.0,530.2 C0.7,530.3 2.3,530.1 4.0,530.5 C5.7,530.9 8.0,532.2 10.0,532.5 C12.0,532.8 14.0,532.1 16.0,532.3 C18.0,532.5 20.0,533.1 22.0,533.6 C24.0,534.0 26.0,534.8 28.0,535.1 C30.0,535.3 32.0,535.1 34.0,535.1 C36.0,535.1 38.0,535.2 40.0,535.0 C42.0,534.7 44.0,534.4 46.0,533.6 C48.0,532.8 50.0,530.9 52.0,530.2 C54.0,529.4 56.0,529.1 58.0,529.1 C60.0,529.1 62.0,529.7 64.0,530.0 C66.0,530.3 68.0,530.8 70.0,530.8 C72.0,530.9 74.0,530.1 76.0,530.2 C78.0,530.3 80.0,530.8 82.0,531.3 C84.0,531.8 86.0,532.5 88.0,533.1 C90.0,533.6 92.0,534.5 94.0,534.7 C96.0,535.0 98.0,535.0 100.0,534.8 C102.0,534.6 104.0,534.1 106.0,533.6 C108.0,533.0 110.0,532.0 112.0,531.5 C114.0,531.1 116.0,531.0 118.0,530.8 C120.0,530.7 122.0,530.8 124.0,530.6 C126.0,530.3 128.0,529.5 130.0,529.4 C132.0,529.2 134.0,529.5 136.0,529.6 C138.0,529.7 140.0,529.4 142.0,529.8 C144.0,530.2 146.0,531.7 148.0,532.1 C150.0,532.6 152.0,532.2 154.0,532.4 C156.0,532.6 158.0,532.9 160.0,533.4 C162.0,533.8 164.0,535.0 166.0,535.3 C168.0,535.7 170.0,535.3 172.0,535.3 C174.0,535.3 176.0,536.0 178.0,535.4 C180.0,534.8 182.0,532.3 184.0,531.7 C186.0,531.0 188.7,531.6 190.0,531.4 C191.3,531.2 191.7,530.7 192.0,530.6" fill="none" stroke="#333" stroke-width="1.0" opacity="0.6"/>
<path d="M0.0,531.9 C0.7,531.9 2.3,531.6 4.0,532.0 C5.7,532.4 8.0,534.3 10.0,534.4 C12.0,534.5 14.0,532.4 16.0,532.4 C18.0,532.4 20.0,533.8 22.0,534.3 C24.0,534.7 26.0,534.9 28.0,535.3 C30.0,535.7 32.0,536.8 34.0,536.8 C36.0,536.7 38.0,535.3 40.0,534.9 C42.0,534.6 44.0,535.0 46.0,534.7 C48.0,534.3 50.0,533.2 52.0,532.8 C54.0,532.3 56.0,532.4 58.0,531.9 C60.0,531.3 62.0,529.7 64.0,529.7 C66.0,529.8 68.0,531.9 70.0,532.2 C72.0,532.6 74.0,531.5 76.0,531.8 C78.0,532.2 80.0,533.9 82.0,534.3 C84.0,534.6 86.0,533.9 88.0,534.1 C90.0,534.4 92.0,535.2 94.0,535.7 C96.0,536.3 98.0,537.4 100.0,537.4 C102.0,537.4 104.0,536.1 106.0,535.7 C108.0,535.4 110.0,535.4 112.0,535.2 C114.0,534.9 116.0,534.8 118.0,534.2 C120.0,533.5 122.0,532.0 124.0,531.5 C126.0,531.1 128.0,531.2 130.0,531.4 C132.0,531.6 134.0,532.8 136.0,532.9 C138.0,533.0 140.0,531.8 142.0,532.0 C144.0,532.2 146.0,533.9 148.0,534.0 C150.0,534.1 152.0,532.3 154.0,532.7 C156.0,533.2 158.0,535.8 160.0,536.6 C162.0,537.5 164.0,537.2 166.0,537.7 C168.0,538.1 170.0,539.4 172.0,539.3 C174.0,539.2 176.0,537.9 178.0,537.0 C180.0,536.1 182.0,534.9 184.0,533.9 C186.0,533.0 188.7,531.7 190.0,531.2 C191.3,530.7 191.7,530.9 192.0,530.9" fill="none" stroke="#333" stroke-width="0.7" opacity="0.3" stroke-dasharray="18 8"/>
<path d="M0.0,531.8 C0.7,532.2 2.3,533.6 4.0,534.0 C5.7,534.3 8.0,533.9 10.0,534.1 C12.0,534.4 14.0,535.2 16.0,535.6 C18.0,536.1 20.0,536.6 22.0,536.9 C24.0,537.1 26.0,536.8 28.0,537.0 C30.0,537.2 32.0,537.8 34.0,537.9 C36.0,537.9 38.0,537.7 40.0,537.3 C42.0,537.0 44.0,536.7 46.0,536.0 C48.0,535.3 50.0,533.8 52.0,533.2 C54.0,532.6 56.0,532.7 58.0,532.4 C60.0,532.0 62.0,530.9 64.0,531.0 C66.0,531.0 68.0,532.5 70.0,532.7 C72.0,532.9 74.0,531.9 76.0,532.1 C78.0,532.3 80.0,533.2 82.0,533.9 C84.0,534.6 86.0,535.5 88.0,536.2 C90.0,536.8 92.0,537.4 94.0,537.7 C96.0,537.9 98.0,537.6 100.0,537.7 C102.0,537.8 104.0,538.6 106.0,538.3 C108.0,537.9 110.0,536.4 112.0,535.4 C114.0,534.5 116.0,533.3 118.0,532.7 C120.0,532.0 122.0,531.5 124.0,531.5 C126.0,531.5 128.0,532.4 130.0,532.7 C132.0,533.0 134.0,533.0 136.0,533.2 C138.0,533.4 140.0,533.7 142.0,533.9 C144.0,534.1 146.0,534.3 148.0,534.4 C150.0,534.4 152.0,534.1 154.0,534.4 C156.0,534.6 158.0,535.4 160.0,536.0 C162.0,536.5 164.0,537.0 166.0,537.4 C168.0,537.8 170.0,538.1 172.0,538.4 C174.0,538.6 176.0,539.3 178.0,538.9 C180.0,538.4 182.0,536.6 184.0,535.6 C186.0,534.5 188.7,532.6 190.0,532.4 C191.3,532.1 191.7,533.7 192.0,534.0" fill="none" stroke="#999" stroke-width="1.0" opacity="0.65"/>
<path d="M0.0,534.7 C0.7,534.9 2.3,535.7 4.0,536.0 C5.7,536.3 8.0,536.8 10.0,536.7 C12.0,536.6 14.0,535.6 16.0,535.6 C18.0,535.5 20.0,535.6 22.0,536.2 C24.0,536.8 26.0,538.3 28.0,539.0 C30.0,539.8 32.0,540.6 34.0,540.7 C36.0,540.7 38.0,539.8 40.0,539.3 C42.0,538.7 44.0,538.5 46.0,537.3 C48.0,536.2 50.0,533.2 52.0,532.4 C54.0,531.6 56.0,532.3 58.0,532.5 C60.0,532.7 62.0,533.1 64.0,533.5 C66.0,533.8 68.0,534.6 70.0,534.6 C72.0,534.5 74.0,532.7 76.0,533.0 C78.0,533.4 80.0,536.0 82.0,536.9 C84.0,537.8 86.0,538.5 88.0,538.7 C90.0,538.8 92.0,537.5 94.0,537.9 C96.0,538.2 98.0,540.4 100.0,540.8 C102.0,541.1 104.0,540.8 106.0,539.9 C108.0,539.0 110.0,536.4 112.0,535.5 C114.0,534.5 116.0,534.3 118.0,534.2 C120.0,534.1 122.0,535.1 124.0,534.8 C126.0,534.6 128.0,532.8 130.0,532.5 C132.0,532.2 134.0,532.8 136.0,533.2 C138.0,533.5 140.0,534.1 142.0,534.5 C144.0,534.9 146.0,535.2 148.0,535.5 C150.0,535.7 152.0,535.8 154.0,536.2 C156.0,536.5 158.0,537.1 160.0,537.4 C162.0,537.8 164.0,537.5 166.0,538.2 C168.0,538.8 170.0,540.9 172.0,541.3 C174.0,541.7 176.0,541.1 178.0,540.5 C180.0,539.9 182.0,539.0 184.0,537.8 C186.0,536.6 188.7,534.1 190.0,533.5 C191.3,532.9 191.7,534.3 192.0,534.5" fill="none" stroke="#999" stroke-width="0.7" opacity="0.325" stroke-dasharray="12 7"/>
<path d="M0.0,535.0 C2.9,535.5 12.3,536.7 17.6,537.7 C22.9,538.7 27.3,540.9 31.7,541.2 C36.1,541.5 40.5,540.6 44.0,539.4 C47.5,538.2 49.2,535.2 53.0,534.2 C56.8,533.2 62.6,533.0 67.0,533.3 C71.4,533.6 75.6,535.0 79.4,536.0 C83.2,537.0 86.2,538.4 90.0,539.4 C93.8,540.4 98.8,542.4 102.3,542.1 C105.8,541.8 107.4,539.0 111.2,537.7 C115.0,536.4 120.0,534.7 125.3,534.2 C130.6,533.8 137.1,534.1 143.0,535.0 C148.9,535.9 155.2,538.1 160.5,539.4 C165.8,540.7 170.3,543.6 174.7,543.0 C179.1,542.4 184.1,537.2 187.0,536.0 C189.9,534.8 191.2,535.6 192.0,535.5" fill="none" stroke="#b0b0b0" stroke-width="1.3" />
<path d="M0.0,616.0 C1.8,615.0 7.3,612.5 10.6,610.3 C13.9,608.1 16.5,604.8 20.0,603.0 C23.5,601.2 27.5,599.7 31.7,599.7 C35.9,599.7 40.3,601.7 45.0,603.0 C49.7,604.3 56.3,606.4 60.0,607.5 C63.7,608.6 63.7,610.0 67.0,609.4 C70.3,608.8 75.3,605.6 80.0,604.0 C84.7,602.4 91.5,600.4 95.2,599.7 C98.9,599.0 99.0,599.0 102.3,599.7 C105.6,600.4 109.7,602.2 115.0,604.0 C120.3,605.8 128.2,610.1 134.0,610.3 C139.8,610.5 144.1,606.8 150.0,605.0 C155.9,603.2 164.4,600.2 169.4,599.7 C174.4,599.2 176.2,601.0 180.0,602.0 C183.8,603.0 190.0,605.3 192.0,606.0" fill="none" stroke="#a0a0a0" stroke-width="1.1" opacity="0.95"/>
<path d="M0.0,622.0 C3.2,619.9 12.8,612.1 19.2,609.6 C25.6,607.2 32.0,606.8 38.4,607.4 C44.8,607.9 51.2,612.1 57.6,612.8 C64.0,613.4 70.4,612.5 76.8,611.3 C83.2,610.1 89.6,605.9 96.0,605.7 C102.4,605.5 108.8,608.3 115.2,610.1 C121.6,611.8 128.0,616.2 134.4,616.2 C140.8,616.2 147.2,611.6 153.6,610.0 C160.0,608.4 166.4,606.1 172.8,606.4 C179.2,606.8 188.8,611.1 192.0,612.0" fill="none" stroke="#4c4c4c" stroke-width="0.9" opacity="0.6" stroke-linecap="round"/>
<path d="M0.0,626.0 C3.2,623.9 12.8,616.1 19.2,613.6 C25.6,611.2 32.0,610.8 38.4,611.4 C44.8,611.9 51.2,616.1 57.6,616.8 C64.0,617.4 70.4,616.5 76.8,615.3 C83.2,614.1 89.6,609.9 96.0,609.7 C102.4,609.5 108.8,612.3 115.2,614.1 C121.6,615.8 128.0,620.2 134.4,620.2 C140.8,620.2 147.2,615.6 153.6,614.0 C160.0,612.4 166.4,610.1 172.8,610.4 C179.2,610.8 188.8,615.1 192.0,616.0" fill="none" stroke="#555" stroke-width="0.9" opacity="0.5" stroke-linecap="round"/>
<path d="M0.0,624.4 C2.5,623.8 10.0,622.0 15.0,621.0 C20.0,620.0 23.7,617.9 30.0,618.2 C36.3,618.5 46.2,621.3 53.0,622.6 C59.8,623.9 64.6,626.7 70.5,626.1 C76.4,625.5 83.5,620.6 88.2,619.0 C92.9,617.4 95.6,616.8 98.8,616.4 C102.0,616.0 104.1,615.6 107.6,616.4 C111.1,617.2 115.6,619.4 120.0,621.0 C124.4,622.6 129.5,626.1 134.0,626.1 C138.5,626.1 142.6,622.5 147.0,621.0 C151.4,619.5 155.8,617.6 160.5,617.3 C165.2,617.0 169.8,618.4 175.0,619.0 C180.2,619.6 189.2,620.7 192.0,621.0 L191.0,637.3 C159.2,637.3 31.8,637.3 0.0,637.3 Z" fill="#a8a8a8" />
<path d="M0.0,624.4 C2.5,623.8 10.0,622.0 15.0,621.0 C20.0,620.0 23.7,617.9 30.0,618.2 C36.3,618.5 46.2,621.3 53.0,622.6 C59.8,623.9 64.6,626.7 70.5,626.1 C76.4,625.5 83.5,620.6 88.2,619.0 C92.9,617.4 95.6,616.8 98.8,616.4 C102.0,616.0 104.1,615.6 107.6,616.4 C111.1,617.2 115.6,619.4 120.0,621.0 C124.4,622.6 129.5,626.1 134.0,626.1 C138.5,626.1 142.6,622.5 147.0,621.0 C151.4,619.5 155.8,617.6 160.5,617.3 C165.2,617.0 169.8,618.4 175.0,619.0 C180.2,619.6 189.2,620.7 192.0,621.0 L191.0,637.3 C159.2,637.3 31.8,637.3 0.0,637.3 Z" fill="#000" filter="url(#strkK)" opacity="0.3"/>
<path d="M0.0,625.6 C2.5,625.0 10.0,623.2 15.0,622.2 C20.0,621.2 23.7,619.1 30.0,619.4 C36.3,619.7 46.2,622.5 53.0,623.8 C59.8,625.1 64.6,627.9 70.5,627.3 C76.4,626.7 83.5,621.8 88.2,620.2 C92.9,618.6 95.6,618.0 98.8,617.6 C102.0,617.2 104.1,616.8 107.6,617.6 C111.1,618.4 115.6,620.6 120.0,622.2 C124.4,623.8 129.5,627.3 134.0,627.3 C138.5,627.3 142.6,623.7 147.0,622.2 C151.4,620.7 155.8,618.8 160.5,618.5 C165.2,618.2 169.8,619.6 175.0,620.2 C180.2,620.8 189.2,621.9 192.0,622.2" fill="none" stroke="#f4f4f4" stroke-width="1.8" opacity="0.95"/>
<path d="M0.0,628.9 C2.5,628.3 10.0,626.5 15.0,625.5 C20.0,624.5 23.7,622.4 30.0,622.7 C36.3,623.0 46.2,625.8 53.0,627.1 C59.8,628.4 64.6,631.2 70.5,630.6 C76.4,630.0 83.5,625.1 88.2,623.5 C92.9,621.9 95.6,621.3 98.8,620.9 C102.0,620.5 104.1,620.1 107.6,620.9 C111.1,621.7 115.6,623.9 120.0,625.5 C124.4,627.1 129.5,630.6 134.0,630.6 C138.5,630.6 142.6,627.0 147.0,625.5 C151.4,624.0 155.8,622.1 160.5,621.8 C165.2,621.5 169.8,622.9 175.0,623.5 C180.2,624.1 189.2,625.2 192.0,625.5" fill="none" stroke="#eeeeee" stroke-width="1.6" opacity="0.9"/>
<path d="M0.0,632.4 C2.5,631.8 10.0,630.0 15.0,629.0 C20.0,628.0 23.7,625.9 30.0,626.2 C36.3,626.5 46.2,629.3 53.0,630.6 C59.8,631.9 64.6,634.7 70.5,634.1 C76.4,633.5 83.5,628.6 88.2,627.0 C92.9,625.4 95.6,624.8 98.8,624.4 C102.0,624.0 104.1,623.6 107.6,624.4 C111.1,625.2 115.6,627.4 120.0,629.0 C124.4,630.6 129.5,634.1 134.0,634.1 C138.5,634.1 142.6,630.5 147.0,629.0 C151.4,627.5 155.8,625.6 160.5,625.3 C165.2,625.0 169.8,626.4 175.0,627.0 C180.2,627.6 189.2,628.7 192.0,629.0" fill="none" stroke="#666" stroke-width="1" opacity="0.6"/>
<path d="M0.0,634.9 C2.5,634.3 10.0,632.5 15.0,631.5 C20.0,630.5 23.7,628.4 30.0,628.7 C36.3,629.0 46.2,631.8 53.0,633.1 C59.8,634.4 64.6,637.2 70.5,636.6 C76.4,636.0 83.5,631.1 88.2,629.5 C92.9,627.9 95.6,627.3 98.8,626.9 C102.0,626.5 104.1,626.1 107.6,626.9 C111.1,627.7 115.6,629.9 120.0,631.5 C124.4,633.1 129.5,636.6 134.0,636.6 C138.5,636.6 142.6,633.0 147.0,631.5 C151.4,630.0 155.8,628.1 160.5,627.8 C165.2,627.5 169.8,628.9 175.0,629.5 C180.2,630.1 189.2,631.2 192.0,631.5" fill="none" stroke="#e0e0e0" stroke-width="1.4" opacity="0.8"/>
<path d="M0.0,637.9 C2.5,637.3 10.0,635.5 15.0,634.5 C20.0,633.5 23.7,631.4 30.0,631.7 C36.3,632.0 46.2,634.8 53.0,636.1 C59.8,637.4 64.6,640.2 70.5,639.6 C76.4,639.0 83.5,634.1 88.2,632.5 C92.9,630.9 95.6,630.3 98.8,629.9 C102.0,629.5 104.1,629.1 107.6,629.9 C111.1,630.7 115.6,632.9 120.0,634.5 C124.4,636.1 129.5,639.6 134.0,639.6 C138.5,639.6 142.6,636.0 147.0,634.5 C151.4,633.0 155.8,631.1 160.5,630.8 C165.2,630.5 169.8,631.9 175.0,632.5 C180.2,633.1 189.2,634.2 192.0,634.5" fill="none" stroke="#ccc" stroke-width="1.2" opacity="0.7"/>
</g></g>
<line x1="191.8" y1="501.00" x2="198.3" y2="501.00" stroke="#d4d4d4" stroke-width="1"/>
<line x1="195.70000000000002" y1="502.90" x2="198.3" y2="502.90" stroke="#d4d4d4" stroke-width="1"/>
<line x1="195.70000000000002" y1="504.80" x2="198.3" y2="504.80" stroke="#d4d4d4" stroke-width="1"/>
<line x1="195.70000000000002" y1="506.70" x2="198.3" y2="506.70" stroke="#d4d4d4" stroke-width="1"/>
<line x1="195.70000000000002" y1="508.60" x2="198.3" y2="508.60" stroke="#d4d4d4" stroke-width="1"/>
<line x1="193.8" y1="510.50" x2="198.3" y2="510.50" stroke="#d4d4d4" stroke-width="1"/>
<line x1="195.70000000000002" y1="512.40" x2="198.3" y2="512.40" stroke="#d4d4d4" stroke-width="1"/>
<line x1="195.70000000000002" y1="514.30" x2="198.3" y2="514.30" stroke="#d4d4d4" stroke-width="1"/>
<line x1="195.70000000000002" y1="516.20" x2="198.3" y2="516.20" stroke="#d4d4d4" stroke-width="1"/>
<line x1="195.70000000000002" y1="518.10" x2="198.3" y2="518.10" stroke="#d4d4d4" stroke-width="1"/>
<line x1="191.8" y1="520.00" x2="198.3" y2="520.00" stroke="#d4d4d4" stroke-width="1"/>
<line x1="195.70000000000002" y1="521.90" x2="198.3" y2="521.90" stroke="#d4d4d4" stroke-width="1"/>
<line x1="195.70000000000002" y1="523.80" x2="198.3" y2="523.80" stroke="#d4d4d4" stroke-width="1"/>
<line x1="195.70000000000002" y1="525.70" x2="198.3" y2="525.70" stroke="#d4d4d4" stroke-width="1"/>
<line x1="195.70000000000002" y1="527.60" x2="198.3" y2="527.60" stroke="#d4d4d4" stroke-width="1"/>
<line x1="193.8" y1="529.50" x2="198.3" y2="529.50" stroke="#d4d4d4" stroke-width="1"/>
<line x1="195.70000000000002" y1="531.40" x2="198.3" y2="531.40" stroke="#d4d4d4" stroke-width="1"/>
<line x1="195.70000000000002" y1="533.30" x2="198.3" y2="533.30" stroke="#d4d4d4" stroke-width="1"/>
<line x1="195.70000000000002" y1="535.20" x2="198.3" y2="535.20" stroke="#d4d4d4" stroke-width="1"/>
<line x1="195.70000000000002" y1="537.10" x2="198.3" y2="537.10" stroke="#d4d4d4" stroke-width="1"/>
<line x1="191.8" y1="539.00" x2="198.3" y2="539.00" stroke="#d4d4d4" stroke-width="1"/>
<line x1="195.70000000000002" y1="540.90" x2="198.3" y2="540.90" stroke="#d4d4d4" stroke-width="1"/>
<line x1="195.70000000000002" y1="542.80" x2="198.3" y2="542.80" stroke="#d4d4d4" stroke-width="1"/>
<line x1="195.70000000000002" y1="544.70" x2="198.3" y2="544.70" stroke="#d4d4d4" stroke-width="1"/>
<line x1="195.70000000000002" y1="546.60" x2="198.3" y2="546.60" stroke="#d4d4d4" stroke-width="1"/>
<line x1="193.8" y1="548.50" x2="198.3" y2="548.50" stroke="#d4d4d4" stroke-width="1"/>
<line x1="195.70000000000002" y1="550.40" x2="198.3" y2="550.40" stroke="#d4d4d4" stroke-width="1"/>
<line x1="195.70000000000002" y1="552.30" x2="198.3" y2="552.30" stroke="#d4d4d4" stroke-width="1"/>
<line x1="195.70000000000002" y1="554.20" x2="198.3" y2="554.20" stroke="#d4d4d4" stroke-width="1"/>
<line x1="195.70000000000002" y1="556.10" x2="198.3" y2="556.10" stroke="#d4d4d4" stroke-width="1"/>
<line x1="191.8" y1="558.00" x2="198.3" y2="558.00" stroke="#d4d4d4" stroke-width="1"/>
<line x1="195.70000000000002" y1="559.90" x2="198.3" y2="559.90" stroke="#d4d4d4" stroke-width="1"/>
<line x1="195.70000000000002" y1="561.80" x2="198.3" y2="561.80" stroke="#d4d4d4" stroke-width="1"/>
<line x1="195.70000000000002" y1="563.70" x2="198.3" y2="563.70" stroke="#d4d4d4" stroke-width="1"/>
<line x1="195.70000000000002" y1="565.60" x2="198.3" y2="565.60" stroke="#d4d4d4" stroke-width="1"/>
<line x1="193.8" y1="567.50" x2="198.3" y2="567.50" stroke="#d4d4d4" stroke-width="1"/>
<line x1="195.70000000000002" y1="569.40" x2="198.3" y2="569.40" stroke="#d4d4d4" stroke-width="1"/>
<line x1="195.70000000000002" y1="571.30" x2="198.3" y2="571.30" stroke="#d4d4d4" stroke-width="1"/>
<line x1="195.70000000000002" y1="573.20" x2="198.3" y2="573.20" stroke="#d4d4d4" stroke-width="1"/>
<line x1="195.70000000000002" y1="575.10" x2="198.3" y2="575.10" stroke="#d4d4d4" stroke-width="1"/>
<line x1="191.8" y1="577.00" x2="198.3" y2="577.00" stroke="#d4d4d4" stroke-width="1"/>
<line x1="195.70000000000002" y1="578.90" x2="198.3" y2="578.90" stroke="#d4d4d4" stroke-width="1"/>
<line x1="195.70000000000002" y1="580.80" x2="198.3" y2="580.80" stroke="#d4d4d4" stroke-width="1"/>
<line x1="195.70000000000002" y1="582.70" x2="198.3" y2="582.70" stroke="#d4d4d4" stroke-width="1"/>
<line x1="195.70000000000002" y1="584.60" x2="198.3" y2="584.60" stroke="#d4d4d4" stroke-width="1"/>
<line x1="193.8" y1="586.50" x2="198.3" y2="586.50" stroke="#d4d4d4" stroke-width="1"/>
<line x1="195.70000000000002" y1="588.40" x2="198.3" y2="588.40" stroke="#d4d4d4" stroke-width="1"/>
<line x1="195.70000000000002" y1="590.30" x2="198.3" y2="590.30" stroke="#d4d4d4" stroke-width="1"/>
<line x1="195.70000000000002" y1="592.20" x2="198.3" y2="592.20" stroke="#d4d4d4" stroke-width="1"/>
<line x1="195.70000000000002" y1="594.10" x2="198.3" y2="594.10" stroke="#d4d4d4" stroke-width="1"/>
<line x1="191.8" y1="596.00" x2="198.3" y2="596.00" stroke="#d4d4d4" stroke-width="1"/>
<line x1="195.70000000000002" y1="597.90" x2="198.3" y2="597.90" stroke="#d4d4d4" stroke-width="1"/>
<line x1="195.70000000000002" y1="599.80" x2="198.3" y2="599.80" stroke="#d4d4d4" stroke-width="1"/>
<line x1="195.70000000000002" y1="601.70" x2="198.3" y2="601.70" stroke="#d4d4d4" stroke-width="1"/>
<line x1="195.70000000000002" y1="603.60" x2="198.3" y2="603.60" stroke="#d4d4d4" stroke-width="1"/>
<line x1="193.8" y1="605.50" x2="198.3" y2="605.50" stroke="#d4d4d4" stroke-width="1"/>
<line x1="195.70000000000002" y1="607.40" x2="198.3" y2="607.40" stroke="#d4d4d4" stroke-width="1"/>
<line x1="195.70000000000002" y1="609.30" x2="198.3" y2="609.30" stroke="#d4d4d4" stroke-width="1"/>
<line x1="195.70000000000002" y1="611.20" x2="198.3" y2="611.20" stroke="#d4d4d4" stroke-width="1"/>
<line x1="195.70000000000002" y1="613.10" x2="198.3" y2="613.10" stroke="#d4d4d4" stroke-width="1"/>
<line x1="191.8" y1="615.00" x2="198.3" y2="615.00" stroke="#d4d4d4" stroke-width="1"/>
<line x1="195.70000000000002" y1="616.90" x2="198.3" y2="616.90" stroke="#d4d4d4" stroke-width="1"/>
<line x1="195.70000000000002" y1="618.80" x2="198.3" y2="618.80" stroke="#d4d4d4" stroke-width="1"/>
<line x1="195.70000000000002" y1="620.70" x2="198.3" y2="620.70" stroke="#d4d4d4" stroke-width="1"/>
<line x1="195.70000000000002" y1="622.60" x2="198.3" y2="622.60" stroke="#d4d4d4" stroke-width="1"/>
<line x1="193.8" y1="624.50" x2="198.3" y2="624.50" stroke="#d4d4d4" stroke-width="1"/>
<line x1="195.70000000000002" y1="626.40" x2="198.3" y2="626.40" stroke="#d4d4d4" stroke-width="1"/>
<line x1="195.70000000000002" y1="628.30" x2="198.3" y2="628.30" stroke="#d4d4d4" stroke-width="1"/>
<line x1="195.70000000000002" y1="630.20" x2="198.3" y2="630.20" stroke="#d4d4d4" stroke-width="1"/>
<line x1="195.70000000000002" y1="632.10" x2="198.3" y2="632.10" stroke="#d4d4d4" stroke-width="1"/>
<line x1="198.3" y1="501" x2="198.3" y2="635.3" stroke="#bbb" stroke-width="0.8"/>
<text x="210" y="505.2" font-size="6.5" font-weight="bold" fill="#d8d8d8" text-anchor="middle">mm</text>
<text x="210" y="519.9" font-size="7.6" font-weight="bold" fill="#e4e4e4" text-anchor="middle">10</text>
<text x="210" y="538.9" font-size="7.6" font-weight="bold" fill="#e4e4e4" text-anchor="middle">11</text>
<text x="210" y="557.9" font-size="7.6" font-weight="bold" fill="#e4e4e4" text-anchor="middle">12</text>
<text x="210" y="576.9" font-size="7.6" font-weight="bold" fill="#e4e4e4" text-anchor="middle">13</text>
<text x="210" y="595.9" font-size="7.6" font-weight="bold" fill="#e4e4e4" text-anchor="middle">14</text>
<text x="210" y="614.9" font-size="7.6" font-weight="bold" fill="#e4e4e4" text-anchor="middle">15</text>
<path d="M199.8,567.7 L203.3,565.9000000000001 L203.3,569.5 Z" fill="none" stroke="#ddd" stroke-width="0.7"/>
<line x1="66.3" y1="533" x2="66.3" y2="608.6" stroke="#1ab8b8" stroke-width="1.1" opacity="0.9"/>
<line x1="66.3" y1="533" x2="66.3" y2="608.6" stroke="#6ee" stroke-width="1.1" stroke-dasharray="1 1.6" opacity="0.9"/>
<circle cx="66.3" cy="533" r="1.2" fill="#3dd"/><circle cx="66.3" cy="608.6" r="1.2" fill="#3dd"/>
<line x1="102.3" y1="541.9" x2="102.3" y2="599.8" stroke="#1ab8b8" stroke-width="1.1" opacity="0.9"/>
<line x1="102.3" y1="541.9" x2="102.3" y2="599.8" stroke="#6ee" stroke-width="1.1" stroke-dasharray="1 1.6" opacity="0.9"/>
<circle cx="102.3" cy="541.9" r="1.2" fill="#3dd"/><circle cx="102.3" cy="599.8" r="1.2" fill="#3dd"/>
<text x="8.8" y="558.4" font-size="5.9" font-weight="bold" fill="#2cc4c4" stroke="#0a1414" stroke-width="1.3" paint-order="stroke" textLength="43.4" lengthAdjust="spacingAndGlyphs">LVID; d (1) =</text>
<text x="12.3" y="565.4" font-size="5.9" font-weight="bold" fill="#2cc4c4" stroke="#0a1414" stroke-width="1.3" paint-order="stroke" textLength="37.1" lengthAdjust="spacingAndGlyphs">D : 3.86 mm</text>
<text x="103.4" y="569.6" font-size="5.9" font-weight="bold" fill="#2cc4c4" stroke="#0a1414" stroke-width="1.3" paint-order="stroke" textLength="42.3" lengthAdjust="spacingAndGlyphs">LVID; s (1) =</text>
<text x="105.8" y="576.5" font-size="5.9" font-weight="bold" fill="#2cc4c4" stroke="#0a1414" stroke-width="1.3" paint-order="stroke" textLength="39.5" lengthAdjust="spacingAndGlyphs">D : 2.93 mm</text>
<text x="4.5" y="516" font-size="19.5" font-weight="bold" fill="#000" stroke="#000" stroke-width="0.9">f</text>
<clipPath id="clg"><rect x="224.8" y="352.3" width="167.09999999999997" height="155.59999999999997"/></clipPath>
<rect x="224.8" y="352.3" width="167.09999999999997" height="155.59999999999997" fill="#dedddf"/>
<g clip-path="url(#clg)">

<path d="M255.3,361.0 C256.9,359.1 259.6,358.2 262.0,357.5 C264.4,356.8 265.7,356.9 269.6,356.6 C273.5,356.3 280.1,355.9 285.5,355.8 C290.9,355.7 296.6,355.7 302.0,355.8 C307.4,355.9 312.8,356.0 318.2,356.7 C323.6,357.4 329.6,358.7 334.5,360.1 C339.4,361.5 343.3,363.1 347.4,365.0 C351.4,366.9 355.3,369.1 358.8,371.5 C362.3,373.9 365.5,376.6 368.5,379.6 C371.5,382.6 374.2,385.8 376.6,389.3 C379.0,392.8 381.3,396.6 383.1,400.7 C384.9,404.8 386.2,409.4 387.2,413.7 C388.1,418.0 388.6,422.2 388.8,426.6 C389.0,431.0 389.6,434.4 388.6,440.2 C387.6,446.0 385.8,454.8 382.8,461.4 C379.8,468.0 375.7,474.3 370.6,479.6 C365.5,484.9 359.5,489.4 352.4,493.2 C345.3,497.0 337.3,500.4 328.2,502.3 C319.1,504.2 307.9,505.0 297.8,504.5 C287.7,504.0 275.6,501.9 267.5,499.3 C259.4,496.7 254.4,493.0 249.3,488.7 C244.2,484.4 240.2,479.1 237.2,473.5 C234.2,467.9 232.3,461.7 231.1,455.3 C229.9,448.9 229.7,440.1 229.8,435.0 C229.9,429.9 230.8,428.2 231.5,425.0 C232.2,421.8 233.0,418.7 233.9,415.5 C234.8,412.3 235.8,409.2 237.0,406.0 C238.2,402.8 239.5,399.6 241.0,396.4 C242.5,393.2 244.5,390.0 245.8,386.9 C247.1,383.8 247.9,381.0 249.0,378.0 C250.1,375.0 251.4,371.8 252.5,369.0 C253.6,366.2 253.7,362.9 255.3,361.0 Z" fill="#f09c8c" stroke="#e98a7a" stroke-width="0.8"/>
<path d="M255.3,361.0 C256.9,359.1 259.6,358.2 262.0,357.5 C264.4,356.8 265.7,356.9 269.6,356.6 C273.5,356.3 280.1,355.9 285.5,355.8 C290.9,355.7 296.6,355.7 302.0,355.8 C307.4,355.9 312.8,356.0 318.2,356.7 C323.6,357.4 329.6,358.7 334.5,360.1 C339.4,361.5 343.3,363.1 347.4,365.0 C351.4,366.9 355.3,369.1 358.8,371.5 C362.3,373.9 365.5,376.6 368.5,379.6 C371.5,382.6 374.2,385.8 376.6,389.3 C379.0,392.8 381.3,396.6 383.1,400.7 C384.9,404.8 386.2,409.4 387.2,413.7 C388.1,418.0 388.6,422.2 388.8,426.6 C389.0,431.0 389.6,434.4 388.6,440.2 C387.6,446.0 385.8,454.8 382.8,461.4 C379.8,468.0 375.7,474.3 370.6,479.6 C365.5,484.9 359.5,489.4 352.4,493.2 C345.3,497.0 337.3,500.4 328.2,502.3 C319.1,504.2 307.9,505.0 297.8,504.5 C287.7,504.0 275.6,501.9 267.5,499.3 C259.4,496.7 254.4,493.0 249.3,488.7 C244.2,484.4 240.2,479.1 237.2,473.5 C234.2,467.9 232.3,461.7 231.1,455.3 C229.9,448.9 229.7,440.1 229.8,435.0 C229.9,429.9 230.8,428.2 231.5,425.0 C232.2,421.8 233.0,418.7 233.9,415.5 C234.8,412.3 235.8,409.2 237.0,406.0 C238.2,402.8 239.5,399.6 241.0,396.4 C242.5,393.2 244.5,390.0 245.8,386.9 C247.1,383.8 247.9,381.0 249.0,378.0 C250.1,375.0 251.4,371.8 252.5,369.0 C253.6,366.2 253.7,362.9 255.3,361.0 Z" fill="#fff" filter="url(#tex)" opacity="0.35"/>
<path d="M305.8,375.1 C307.4,375.2 312.3,375.1 315.6,375.4 C318.8,375.7 322.1,376.2 325.2,377.0 C328.4,377.7 331.5,378.7 334.5,379.9 C337.4,381.1 340.4,382.5 343.1,384.1 C345.8,385.7 348.5,387.6 350.9,389.5 C353.3,391.5 356.6,394.9 357.7,395.9" fill="none" stroke="#fbe9e5" stroke-width="0.8769801135108202" stroke-linecap="round" opacity="0.55"/>
<path d="M368.1,403.6 C368.3,404.1 369.2,405.6 369.7,406.6 C370.2,407.5 370.6,408.5 371.1,409.5 C371.5,410.6 371.9,411.6 372.3,412.6 C372.7,413.6 373.1,414.7 373.4,415.7 C373.7,416.8 374.0,417.8 374.3,418.9 C374.5,419.9 374.8,421.5 375.0,422.1" fill="none" stroke="#fbe9e5" stroke-width="0.6862490617512421" stroke-linecap="round" opacity="0.55"/>
<path d="M265.3,378.3 C267.1,377.3 272.3,374.1 276.0,372.4 C279.7,370.7 283.6,369.3 287.6,368.2 C291.6,367.1 295.7,366.3 299.9,365.8 C304.0,365.4 308.2,365.2 312.4,365.4 C316.5,365.6 320.7,366.1 324.8,366.9 C328.8,367.7 334.7,369.7 336.7,370.2" fill="none" stroke="#fbe9e5" stroke-width="0.5452823858612578" stroke-linecap="round" opacity="0.55"/>
<path d="M310.2,484.2 C309.1,484.2 305.5,484.2 303.2,484.0 C300.8,483.8 298.5,483.4 296.2,483.0 C293.9,482.5 291.6,481.9 289.4,481.2 C287.2,480.4 285.0,479.6 282.9,478.6 C280.8,477.7 278.8,476.6 276.8,475.4 C274.9,474.2 272.1,472.2 271.2,471.5" fill="none" stroke="#fbe9e5" stroke-width="0.7295764751712404" stroke-linecap="round" opacity="0.55"/>
<path d="M317.8,469.6 C317.2,469.7 315.4,470.0 314.2,470.1 C312.9,470.2 311.7,470.3 310.5,470.4 C309.2,470.4 308.0,470.4 306.8,470.3 C305.5,470.3 304.3,470.2 303.1,470.0 C301.9,469.9 300.6,469.7 299.4,469.4 C298.2,469.2 296.5,468.7 295.9,468.5" fill="none" stroke="#fbe9e5" stroke-width="0.8665381487234207" stroke-linecap="round" opacity="0.55"/>
<path d="M345.4,483.7 C343.9,484.4 339.3,486.9 336.1,488.2 C332.9,489.4 329.5,490.5 326.1,491.3 C322.7,492.1 319.2,492.7 315.7,493.0 C312.2,493.3 308.6,493.4 305.1,493.2 C301.6,493.0 298.1,492.6 294.7,491.9 C291.2,491.2 286.2,489.6 284.5,489.1" fill="none" stroke="#fbe9e5" stroke-width="0.5555069673595613" stroke-linecap="round" opacity="0.55"/>
<path d="M352.9,472.6 C352.5,472.9 351.4,473.9 350.6,474.5 C349.8,475.1 349.0,475.8 348.2,476.3 C347.4,476.9 346.5,477.5 345.7,478.1 C344.8,478.6 343.9,479.2 343.1,479.7 C342.2,480.2 341.3,480.7 340.4,481.2 C339.5,481.6 338.1,482.3 337.6,482.5" fill="none" stroke="#fbe9e5" stroke-width="0.8485618978897129" stroke-linecap="round" opacity="0.55"/>
<path d="M319.6,475.3 C318.1,475.5 313.7,476.2 310.8,476.3 C307.8,476.4 304.8,476.3 301.9,475.9 C299.0,475.5 296.1,474.9 293.3,474.0 C290.5,473.2 287.8,472.1 285.2,470.8 C282.6,469.5 280.1,468.0 277.9,466.3 C275.6,464.6 272.6,461.6 271.5,460.6" fill="none" stroke="#fbe9e5" stroke-width="0.8489631061747207" stroke-linecap="round" opacity="0.55"/>
<path d="M359.2,420.8 C359.4,421.7 360.1,424.5 360.3,426.4 C360.6,428.3 360.7,430.2 360.7,432.1 C360.7,434.0 360.6,435.9 360.3,437.8 C360.1,439.7 359.7,441.5 359.2,443.4 C358.7,445.2 358.0,447.0 357.3,448.8 C356.5,450.6 355.1,453.1 354.7,454.0" fill="none" stroke="#fbe9e5" stroke-width="0.7711321909002369" stroke-linecap="round" opacity="0.55"/>
<path d="M313.3,461.4 C313.2,461.8 312.9,463.1 312.6,464.0 C312.3,464.9 312.0,465.7 311.7,466.6 C311.4,467.5 310.8,468.7 310.6,469.2" fill="none" stroke="#fbeae6" stroke-width="0.6425926340253764" stroke-linecap="round" opacity="0.75"/>
<path d="M309.5,462.0 C309.4,462.5 309.0,463.9 308.8,464.8 C308.5,465.8 308.2,466.7 307.9,467.7 C307.6,468.6 307.1,470.0 306.9,470.4" fill="none" stroke="#fbeae6" stroke-width="0.8295668813861984" stroke-linecap="round" opacity="0.75"/>
<path d="M284.2,439.5 C283.6,439.4 282.1,439.1 281.1,438.8 C280.1,438.5 279.0,438.2 278.0,437.8 C277.0,437.4 275.5,436.6 275.0,436.4" fill="none" stroke="#fbeae6" stroke-width="0.6447828117202948" stroke-linecap="round" opacity="0.75"/>
<path d="M311.2,454.1 C311.3,454.6 311.6,456.1 311.9,457.1 C312.1,458.1 312.4,459.1 312.7,460.1 C312.9,461.0 313.4,462.5 313.5,463.0" fill="none" stroke="#fbeae6" stroke-width="1.0510321502058142" stroke-linecap="round" opacity="0.75"/>
<path d="M292.4,447.8 C291.8,447.9 290.0,448.2 288.8,448.3 C287.6,448.4 286.3,448.4 285.0,448.3 C283.7,448.2 281.8,447.8 281.1,447.7" fill="none" stroke="#fbeae6" stroke-width="0.6315443403511093" stroke-linecap="round" opacity="0.75"/>
<path d="M290.8,414.9 C290.1,414.4 288.2,413.1 286.9,412.3 C285.5,411.4 284.2,410.6 282.8,409.9 C281.4,409.1 279.3,408.0 278.6,407.7" fill="none" stroke="#fbeae6" stroke-width="0.9456502858029862" stroke-linecap="round" opacity="0.75"/>
<path d="M281.8,432.4 C280.9,432.4 278.1,432.2 276.2,432.1 C274.3,431.9 272.5,431.7 270.6,431.5 C268.7,431.3 265.9,431.0 265.0,430.9" fill="none" stroke="#fbeae6" stroke-width="0.6710689895105232" stroke-linecap="round" opacity="0.75"/>
<path d="M336.2,443.6 C336.9,443.6 339.0,443.7 340.5,443.6 C341.9,443.5 343.3,443.4 344.8,443.2 C346.2,442.9 348.4,442.4 349.1,442.3" fill="none" stroke="#fbeae6" stroke-width="1.0730221623938998" stroke-linecap="round" opacity="0.75"/>
<path d="M284.5,418.8 C283.6,418.5 280.9,417.6 279.1,417.2 C277.3,416.7 275.4,416.3 273.6,416.0 C271.7,415.6 268.9,415.3 267.9,415.2" fill="none" stroke="#fbeae6" stroke-width="0.7783483693563922" stroke-linecap="round" opacity="0.75"/>
<path d="M325.6,416.0 C326.0,415.2 327.3,412.8 327.9,411.2 C328.6,409.5 329.2,407.8 329.6,406.0 C330.1,404.2 330.5,401.4 330.7,400.5" fill="none" stroke="#fbeae6" stroke-width="0.9450906288392344" stroke-linecap="round" opacity="0.75"/>
<path d="M300.2,403.7 C300.0,402.9 299.2,400.3 298.7,398.6 C298.1,396.9 297.6,395.2 297.1,393.4 C296.6,391.7 295.8,389.2 295.5,388.3" fill="none" stroke="#fbeae6" stroke-width="0.6988240775048409" stroke-linecap="round" opacity="0.75"/>
<path d="M324.4,453.2 C325.1,453.6 327.1,454.6 328.5,455.2 C329.9,455.7 331.4,456.2 332.9,456.6 C334.4,457.0 336.8,457.4 337.6,457.5" fill="none" stroke="#fbeae6" stroke-width="1.0516103150573448" stroke-linecap="round" opacity="0.75"/>
<path d="M281.4,430.7 C280.9,430.9 279.5,431.5 278.5,431.9 C277.5,432.3 276.6,432.8 275.7,433.3 C274.7,433.8 273.3,434.7 272.9,434.9" fill="none" stroke="#fbeae6" stroke-width="0.6059580888439219" stroke-linecap="round" opacity="0.75"/>
<path d="M295.7,452.1 C295.4,452.7 294.6,454.4 294.1,455.5 C293.6,456.6 293.1,457.8 292.7,459.0 C292.2,460.1 291.6,461.9 291.4,462.5" fill="none" stroke="#fbeae6" stroke-width="1.0171581033818269" stroke-linecap="round" opacity="0.75"/>
<path d="M327.2,417.2 C327.5,416.7 328.4,415.0 329.0,413.9 C329.5,412.7 330.0,411.5 330.4,410.2 C330.9,409.0 331.4,407.0 331.6,406.4" fill="none" stroke="#fbeae6" stroke-width="0.9315857121799471" stroke-linecap="round" opacity="0.75"/>
<path d="M332.3,428.3 C333.1,428.0 335.6,427.2 337.2,426.5 C338.8,425.9 340.3,425.2 341.9,424.5 C343.5,423.7 345.8,422.5 346.5,422.1" fill="none" stroke="#fbeae6" stroke-width="0.6066088132426809" stroke-linecap="round" opacity="0.75"/>
<path d="M287.0,395.0 C287.5,396.7 289.0,401.7 290.0,405.0 C291.0,408.3 292.5,413.3 293.0,415.0" fill="none" stroke="#fbe9e5" stroke-width="0.9" stroke-linecap="round" opacity="0.9"/>
<path d="M298.0,392.0 C298.3,393.7 299.3,398.7 300.0,402.0 C300.7,405.3 301.7,410.3 302.0,412.0" fill="none" stroke="#fbe9e5" stroke-width="0.8" stroke-linecap="round" opacity="0.9"/>
<path d="M312.0,398.0 C313.0,399.0 317.0,403.0 318.0,404.0" fill="none" stroke="#fbe9e5" stroke-width="0.8" stroke-linecap="round" opacity="0.9"/>
<path d="M339.0,412.0 C340.2,413.3 344.2,417.0 346.0,420.0 C347.8,423.0 349.3,428.3 350.0,430.0" fill="none" stroke="#fbe9e5" stroke-width="0.8" stroke-linecap="round" opacity="0.9"/>
<path d="M337.0,440.0 C338.3,441.3 342.8,445.0 345.0,448.0 C347.2,451.0 349.2,456.3 350.0,458.0" fill="none" stroke="#fbe9e5" stroke-width="0.8" stroke-linecap="round" opacity="0.9"/>
<path d="M300.0,470.0 C299.2,471.3 296.3,475.5 295.0,478.0 C293.7,480.5 292.5,483.8 292.0,485.0" fill="none" stroke="#fbe9e5" stroke-width="0.8" stroke-linecap="round" opacity="0.9"/>
<path d="M272.0,430.0 C270.3,431.0 264.8,434.3 262.0,436.0 C259.2,437.7 256.2,439.3 255.0,440.0" fill="none" stroke="#fbe9e5" stroke-width="0.8" stroke-linecap="round" opacity="0.9"/>
<path d="M262.0,396.0 C263.3,397.0 267.3,399.7 270.0,402.0 C272.7,404.3 276.7,408.7 278.0,410.0" fill="none" stroke="#fbe9e5" stroke-width="0.7" stroke-linecap="round" opacity="0.9"/>
<path d="M330.0,485.0 C332.5,484.2 340.8,481.5 345.0,480.0 C349.2,478.5 353.3,476.7 355.0,476.0" fill="none" stroke="#fbe9e5" stroke-width="0.8" stroke-linecap="round" opacity="0.9"/>
<path d="M240.0,470.0 C241.3,471.3 245.0,475.7 248.0,478.0 C251.0,480.3 256.3,483.0 258.0,484.0" fill="none" stroke="#fbe9e5" stroke-width="0.8" stroke-linecap="round" opacity="0.9"/>
<path d="M360.0,470.0 C361.3,468.7 366.7,463.3 368.0,462.0" fill="none" stroke="#fbe9e5" stroke-width="0.7" stroke-linecap="round" opacity="0.9"/>
<path d="M270.0,470.0 C271.7,471.3 278.3,476.7 280.0,478.0" fill="none" stroke="#fbe9e5" stroke-width="0.7" stroke-linecap="round" opacity="0.9"/>
<path d="M250,373 C253,370.5 258,372 261,375.5 C262,379 258,382 253,382 C249.5,380.5 248.5,376 250,373Z" fill="#eac9a0" opacity="0.9"/>
<path d="M250.0,382.0 C251.3,381.2 255.3,378.6 258.0,377.0 C260.7,375.4 263.0,373.8 266.0,372.5 C269.0,371.2 272.0,370.0 276.0,369.0 C280.0,368.0 285.2,367.1 290.0,366.3 C294.8,365.6 302.5,364.8 305.0,364.5" fill="none" stroke="#fbece8" stroke-width="1.0" stroke-linecap="round" opacity="0.9"/>
<path d="M256.0,366.0 C257.0,365.8 259.7,364.8 262.0,364.5 C264.3,364.2 268.7,364.1 270.0,364.0" fill="none" stroke="#fbece8" stroke-width="0.8" stroke-linecap="round" opacity="0.8"/>
<path d="M282.7,428.3 C283.1,426.9 284.8,423.1 285.9,422.0 C287.0,420.9 292.1,418.0 293.8,417.2 C295.5,416.4 301.2,414.6 303.3,414.0 C305.4,413.4 312.6,411.4 314.4,410.9 C316.1,410.4 319.4,409.8 320.8,409.3 C322.2,408.8 327.4,406.8 328.7,406.1 C330.0,405.4 332.8,402.3 333.5,402.1 C334.2,401.9 335.5,403.9 335.5,404.5 C335.5,405.1 334.2,407.2 333.5,408.0 C332.8,408.8 329.1,411.8 328.0,412.5 C326.9,413.2 323.1,414.8 322.0,415.5 C320.9,416.2 317.6,418.9 317.0,420.0 C316.4,421.1 315.7,425.6 316.0,426.7 C316.3,427.8 319.0,430.0 320.0,431.0 C321.0,432.0 324.9,434.8 325.6,436.3 C326.3,437.8 326.6,444.2 327.1,445.8 C327.6,447.4 329.6,450.9 330.3,452.1 C331.0,453.3 334.2,456.9 334.0,457.5 C333.8,458.1 329.4,458.4 328.0,458.5 C326.6,458.6 321.8,458.2 320.0,458.5 C318.2,458.8 311.7,460.9 310.0,461.5 C308.3,462.1 304.4,464.8 303.3,464.8 C302.2,464.8 299.6,462.5 298.6,461.7 C297.7,460.9 294.8,458.0 293.8,456.9 C292.8,455.8 289.9,452.0 289.0,450.6 C288.1,449.2 285.0,444.0 284.3,442.6 C283.6,441.2 282.1,437.7 281.9,436.3 C281.7,434.9 282.3,429.7 282.7,428.3 Z" fill="#dedddf" stroke="#f6dcd6" stroke-width="0.8"/>
</g>
<g clip-path="url(#clg)"><ellipse cx="310" cy="446.5" rx="10" ry="12.5" transform="rotate(-15 310 446.5)" fill="#f09c8c"/><path d="M304,455 C308,462 320,463 326,458 L322,446 Z" fill="#f09c8c"/></g>
<text x="228.5" y="369.5" font-size="19.5" font-weight="bold" fill="#000" stroke="#000" stroke-width="0.9">g</text>
<clipPath id="cli"><rect x="395.4" y="352.3" width="171.60000000000002" height="155.5"/></clipPath>
<rect x="395.4" y="352.3" width="171.60000000000002" height="155.5" fill="#dedddf"/>
<g clip-path="url(#cli)">
<path d="M394,486.4 C402,485.5 412,484.8 423.7,484.8 C432,485.5 440,486.5 445.2,487.9 C452,490 460,493 475,497 C485,499 490,500 494.3,500.2 L500,510 L394,510 Z" fill="#f09c8c"/><path d="M403,456 C407,455 411,457 412,462 C413,470 420,476 433,481.5 C428,484.5 418,484 410,483 C404,481 401,474 401,466 C401,460 401,457 403,456 Z" fill="#e6c58c"/>
<path d="M416.0,365.5 C416.7,364.7 417.2,362.7 420.0,361.5 C422.8,360.3 427.9,359.2 432.7,358.3 C437.5,357.4 443.3,356.5 448.6,356.0 C453.9,355.5 458.8,355.4 464.4,355.2 C469.9,355.0 475.8,354.9 481.9,354.9 C488.0,354.9 495.0,354.8 500.8,355.2 C506.6,355.6 511.9,356.7 516.7,357.6 C521.5,358.5 525.5,359.4 529.4,360.7 C533.3,362.0 537.1,363.4 540.0,365.5 C542.9,367.6 544.8,370.5 547.0,373.5 C549.2,376.5 551.6,380.4 553.2,383.7 C554.8,387.0 555.5,389.9 556.4,393.3 C557.3,396.8 558.1,400.7 558.7,404.4 C559.4,408.1 559.8,411.3 560.3,415.5 C560.8,419.7 561.3,425.2 561.6,429.8 C561.9,434.4 562.8,438.1 562.3,443.4 C561.8,448.7 561.4,456.2 558.7,461.8 C556.1,467.4 551.5,472.6 546.4,477.2 C541.3,481.8 534.1,486.1 528.0,489.4 C521.9,492.7 516.8,495.1 509.6,497.1 C502.4,499.2 493.2,501.7 485.0,501.7 C476.8,501.7 467.6,499.4 460.5,497.0 C453.4,494.6 447.7,490.8 442.1,487.0 C436.5,483.2 431.4,478.3 426.8,474.1 C422.2,469.9 417.6,465.9 414.5,461.8 C411.4,457.7 409.6,454.6 408.3,449.5 C407.0,444.4 407.0,436.0 406.8,431.1 C406.6,426.2 407.0,423.7 407.3,420.3 C407.6,416.9 408.0,414.1 408.9,410.7 C409.8,407.2 411.2,402.8 412.8,399.6 C414.4,396.4 416.4,394.1 418.4,391.7 C420.4,389.3 422.6,387.1 424.7,385.3 C426.8,383.5 429.4,381.8 431.0,380.6 C432.6,379.4 434.0,379.3 434.3,378.2 C434.6,377.1 434.3,375.6 432.7,374.2 C431.1,372.8 427.5,370.8 424.7,369.5 C421.9,368.2 417.4,367.0 416.0,366.3 C414.6,365.6 415.3,366.3 416.0,365.5 Z" fill="#f09c8c" stroke="#e98a7a" stroke-width="0.8"/>
<path d="M416.0,365.5 C416.7,364.7 417.2,362.7 420.0,361.5 C422.8,360.3 427.9,359.2 432.7,358.3 C437.5,357.4 443.3,356.5 448.6,356.0 C453.9,355.5 458.8,355.4 464.4,355.2 C469.9,355.0 475.8,354.9 481.9,354.9 C488.0,354.9 495.0,354.8 500.8,355.2 C506.6,355.6 511.9,356.7 516.7,357.6 C521.5,358.5 525.5,359.4 529.4,360.7 C533.3,362.0 537.1,363.4 540.0,365.5 C542.9,367.6 544.8,370.5 547.0,373.5 C549.2,376.5 551.6,380.4 553.2,383.7 C554.8,387.0 555.5,389.9 556.4,393.3 C557.3,396.8 558.1,400.7 558.7,404.4 C559.4,408.1 559.8,411.3 560.3,415.5 C560.8,419.7 561.3,425.2 561.6,429.8 C561.9,434.4 562.8,438.1 562.3,443.4 C561.8,448.7 561.4,456.2 558.7,461.8 C556.1,467.4 551.5,472.6 546.4,477.2 C541.3,481.8 534.1,486.1 528.0,489.4 C521.9,492.7 516.8,495.1 509.6,497.1 C502.4,499.2 493.2,501.7 485.0,501.7 C476.8,501.7 467.6,499.4 460.5,497.0 C453.4,494.6 447.7,490.8 442.1,487.0 C436.5,483.2 431.4,478.3 426.8,474.1 C422.2,469.9 417.6,465.9 414.5,461.8 C411.4,457.7 409.6,454.6 408.3,449.5 C407.0,444.4 407.0,436.0 406.8,431.1 C406.6,426.2 407.0,423.7 407.3,420.3 C407.6,416.9 408.0,414.1 408.9,410.7 C409.8,407.2 411.2,402.8 412.8,399.6 C414.4,396.4 416.4,394.1 418.4,391.7 C420.4,389.3 422.6,387.1 424.7,385.3 C426.8,383.5 429.4,381.8 431.0,380.6 C432.6,379.4 434.0,379.3 434.3,378.2 C434.6,377.1 434.3,375.6 432.7,374.2 C431.1,372.8 427.5,370.8 424.7,369.5 C421.9,368.2 417.4,367.0 416.0,366.3 C414.6,365.6 415.3,366.3 416.0,365.5 Z" fill="#fff" filter="url(#tex)" opacity="0.35"/>
<path d="M437.1,412.5 C437.7,411.3 439.5,407.5 441.1,405.2 C442.7,402.8 444.5,400.6 446.5,398.5 C448.5,396.5 450.7,394.6 453.1,392.9 C455.5,391.2 458.0,389.6 460.7,388.3 C463.3,387.0 466.1,385.8 469.0,385.0 C471.9,384.1 476.4,383.3 477.8,383.0" fill="none" stroke="#fbe9e5" stroke-width="0.6862600280399094" stroke-linecap="round" opacity="0.6"/>
<path d="M439.1,404.1 C439.5,403.5 440.6,402.0 441.4,401.0 C442.2,400.0 443.0,399.0 443.9,398.0 C444.8,397.1 445.7,396.2 446.7,395.3 C447.6,394.4 448.6,393.6 449.6,392.7 C450.7,391.9 451.7,391.1 452.8,390.4 C453.9,389.6 455.6,388.6 456.2,388.3" fill="none" stroke="#fbe9e5" stroke-width="0.7047634556167222" stroke-linecap="round" opacity="0.6"/>
<path d="M502.0,377.6 C502.6,377.8 504.4,378.3 505.6,378.6 C506.8,379.0 508.0,379.4 509.1,379.9 C510.3,380.3 511.4,380.8 512.5,381.3 C513.7,381.8 514.8,382.3 515.9,382.9 C516.9,383.4 518.0,384.0 519.1,384.6 C520.1,385.3 521.6,386.3 522.1,386.6" fill="none" stroke="#fbe9e5" stroke-width="0.6213605050498102" stroke-linecap="round" opacity="0.6"/>
<path d="M499.7,398.5 C500.5,398.8 503.0,399.8 504.5,400.6 C506.0,401.4 507.5,402.3 508.9,403.3 C510.3,404.2 511.7,405.3 512.9,406.5 C514.1,407.6 515.3,408.9 516.3,410.2 C517.3,411.5 518.3,412.8 519.1,414.3 C519.9,415.7 520.9,417.9 521.3,418.7" fill="none" stroke="#fbe9e5" stroke-width="0.5167521345479384" stroke-linecap="round" opacity="0.6"/>
<path d="M559.0,415.1 C559.3,416.7 560.3,421.2 560.6,424.3 C560.9,427.4 560.9,430.5 560.7,433.6 C560.6,436.7 560.1,439.8 559.5,442.8 C558.9,445.8 558.0,448.9 556.9,451.8 C555.8,454.7 554.4,457.6 552.9,460.3 C551.4,463.1 548.6,467.0 547.7,468.3" fill="none" stroke="#fbe9e5" stroke-width="0.7462250818314283" stroke-linecap="round" opacity="0.6"/>
<path d="M526.0,433.4 C525.9,434.1 525.6,436.3 525.3,437.8 C524.9,439.2 524.5,440.6 524.0,442.0 C523.4,443.3 522.8,444.7 522.1,446.0 C521.4,447.3 520.6,448.6 519.7,449.8 C518.8,451.0 517.9,452.2 516.8,453.3 C515.8,454.5 514.1,456.0 513.5,456.5" fill="none" stroke="#fbe9e5" stroke-width="0.523820442067542" stroke-linecap="round" opacity="0.6"/>
<path d="M488.1,467.6 C487.7,467.6 486.6,467.6 485.9,467.6 C485.1,467.6 484.4,467.6 483.6,467.6 C482.9,467.5 482.1,467.5 481.4,467.4 C480.6,467.3 479.9,467.2 479.2,467.1 C478.4,467.0 477.7,466.9 476.9,466.7 C476.2,466.6 475.1,466.3 474.8,466.2" fill="none" stroke="#fbe9e5" stroke-width="0.6855737844893138" stroke-linecap="round" opacity="0.6"/>
<path d="M514.6,390.6 C515.4,391.1 518.0,392.7 519.6,393.9 C521.1,395.1 522.7,396.4 524.1,397.8 C525.5,399.2 526.8,400.6 528.0,402.1 C529.2,403.6 530.4,405.2 531.4,406.9 C532.4,408.5 533.3,410.2 534.1,411.9 C534.9,413.6 535.8,416.3 536.1,417.2" fill="none" stroke="#fbe9e5" stroke-width="0.7561166831676709" stroke-linecap="round" opacity="0.6"/>
<path d="M457.5,387.9 C458.4,387.5 461.0,386.1 462.8,385.3 C464.6,384.5 466.5,383.8 468.4,383.2 C470.3,382.7 472.3,382.2 474.2,381.8 C476.2,381.4 478.2,381.1 480.2,380.9 C482.2,380.7 484.2,380.6 486.3,380.6 C488.3,380.6 491.3,380.9 492.3,380.9" fill="none" stroke="#fbe9e5" stroke-width="0.6112651598655543" stroke-linecap="round" opacity="0.6"/>
<path d="M561.5,428.2 C561.4,430.0 561.4,435.6 560.8,439.2 C560.3,442.8 559.4,446.5 558.2,450.0 C557.0,453.5 555.5,457.0 553.7,460.3 C551.9,463.6 549.8,466.8 547.4,469.7 C545.0,472.7 542.4,475.6 539.5,478.2 C536.6,480.8 531.8,484.2 530.2,485.4" fill="none" stroke="#fbe9e5" stroke-width="0.7831238485991798" stroke-linecap="round" opacity="0.6"/>
<path d="M492.0,472.0 C491.3,472.1 489.2,472.3 487.8,472.3 C486.5,472.4 485.1,472.4 483.7,472.3 C482.3,472.3 480.9,472.2 479.6,472.0 C478.2,471.8 476.8,471.6 475.5,471.3 C474.1,471.0 472.8,470.7 471.5,470.3 C470.2,469.9 468.3,469.2 467.6,469.0" fill="none" stroke="#fbe9e5" stroke-width="0.5280893998239704" stroke-linecap="round" opacity="0.6"/>
<path d="M432.7,464.9 C431.8,463.5 428.7,459.5 427.1,456.6 C425.6,453.7 424.2,450.7 423.2,447.6 C422.1,444.5 421.3,441.3 420.8,438.1 C420.3,435.0 420.1,431.7 420.2,428.5 C420.3,425.3 420.7,422.0 421.4,418.8 C422.0,415.7 423.8,411.1 424.2,409.5" fill="none" stroke="#fbe9e5" stroke-width="0.6546054126823738" stroke-linecap="round" opacity="0.6"/>
<path d="M528.4,375.3 C528.9,375.6 530.4,376.6 531.4,377.3 C532.3,378.0 533.3,378.7 534.2,379.4 C535.2,380.1 536.1,380.9 537.0,381.7 C537.8,382.4 538.7,383.2 539.6,384.0 C540.4,384.8 541.2,385.7 542.0,386.5 C542.8,387.3 544.0,388.7 544.4,389.1" fill="none" stroke="#fbe9e5" stroke-width="0.5838869658918444" stroke-linecap="round" opacity="0.6"/>
<path d="M415.4,442.2 C415.2,440.2 414.2,434.4 414.2,430.5 C414.1,426.6 414.5,422.7 415.2,418.8 C416.0,415.0 417.1,411.2 418.6,407.5 C420.1,403.8 422.0,400.3 424.2,396.9 C426.4,393.6 428.9,390.3 431.8,387.4 C434.6,384.5 439.6,380.6 441.1,379.3" fill="none" stroke="#fbe9e5" stroke-width="0.6589697552317124" stroke-linecap="round" opacity="0.6"/>
<path d="M460.8,405.9 C461.5,405.4 463.6,403.6 465.2,402.7 C466.7,401.7 468.4,400.9 470.1,400.1 C471.7,399.4 473.5,398.8 475.3,398.3 C477.1,397.8 478.9,397.4 480.8,397.2 C482.7,396.9 484.6,396.8 486.4,396.8 C488.3,396.8 491.1,397.2 492.0,397.3" fill="none" stroke="#fbe9e5" stroke-width="0.6079102347400571" stroke-linecap="round" opacity="0.6"/>
<path d="M467.5,459.3 C466.6,458.7 463.8,457.1 462.1,455.8 C460.4,454.6 458.8,453.1 457.4,451.6 C456.0,450.1 454.7,448.4 453.6,446.6 C452.5,444.9 451.6,443.1 450.8,441.2 C450.1,439.3 449.6,437.3 449.2,435.3 C448.9,433.4 448.8,430.3 448.7,429.3" fill="none" stroke="#fbe9e5" stroke-width="0.8032162067975035" stroke-linecap="round" opacity="0.6"/>
<path d="M486.9,464.9 C486.5,464.9 485.2,464.9 484.4,464.9 C483.6,464.8 482.8,464.8 482.0,464.7 C481.2,464.6 480.4,464.5 479.6,464.4 C478.8,464.3 478.0,464.1 477.2,464.0 C476.4,463.8 475.6,463.6 474.8,463.4 C474.0,463.2 472.9,462.8 472.5,462.7" fill="none" stroke="#fbe9e5" stroke-width="0.5239573611764307" stroke-linecap="round" opacity="0.6"/>
<path d="M515.4,484.5 C514.2,485.0 510.4,486.6 507.7,487.4 C505.1,488.2 502.4,488.9 499.7,489.4 C497.0,489.9 494.2,490.3 491.4,490.5 C488.6,490.7 485.8,490.7 483.1,490.6 C480.3,490.5 477.5,490.2 474.8,489.8 C472.0,489.4 468.0,488.4 466.6,488.1" fill="none" stroke="#fbe9e5" stroke-width="0.6789699510004086" stroke-linecap="round" opacity="0.6"/>
<path d="M481.3,392.6 C481.7,392.6 483.1,392.4 484.1,392.4 C485.0,392.4 485.9,392.3 486.9,392.4 C487.8,392.4 488.8,392.4 489.7,392.5 C490.6,392.6 491.5,392.7 492.5,392.8 C493.4,392.9 494.3,393.1 495.2,393.3 C496.1,393.5 497.5,393.8 497.9,393.9" fill="none" stroke="#fbe9e5" stroke-width="0.7574860494844669" stroke-linecap="round" opacity="0.6"/>
<path d="M452.2,446.6 C452.0,446.2 451.3,445.0 450.8,444.2 C450.4,443.4 450.1,442.5 449.7,441.7 C449.4,440.8 449.1,439.9 448.8,439.0 C448.6,438.2 448.3,437.3 448.2,436.4 C448.0,435.5 447.8,434.6 447.7,433.7 C447.6,432.8 447.6,431.4 447.5,431.0" fill="none" stroke="#fbe9e5" stroke-width="0.6079179908762393" stroke-linecap="round" opacity="0.6"/>
<path d="M510.5,366.5 C511.5,366.8 514.7,367.9 516.7,368.7 C518.8,369.6 520.8,370.5 522.7,371.5 C524.7,372.5 526.6,373.6 528.4,374.7 C530.3,375.9 532.1,377.1 533.8,378.4 C535.5,379.7 537.2,381.1 538.7,382.6 C540.3,384.0 542.5,386.3 543.3,387.1" fill="none" stroke="#fbe9e5" stroke-width="0.8539460450995884" stroke-linecap="round" opacity="0.6"/>
<path d="M452.6,453.7 C451.9,452.8 449.9,450.3 448.8,448.4 C447.6,446.6 446.7,444.7 445.9,442.7 C445.2,440.7 444.6,438.7 444.2,436.6 C443.8,434.5 443.6,432.4 443.6,430.3 C443.5,428.2 443.7,426.1 444.1,424.1 C444.4,422.0 445.4,419.0 445.7,417.9" fill="none" stroke="#fbe9e5" stroke-width="0.7567342626361842" stroke-linecap="round" opacity="0.6"/>
<path d="M484.1,463.4 C483.7,464.1 482.6,466.3 481.6,467.7 C480.7,469.1 479.8,470.5 478.7,471.9 C477.6,473.2 475.8,475.1 475.2,475.8" fill="none" stroke="#fbeae6" stroke-width="0.6928620869368677" stroke-linecap="round" opacity="0.75"/>
<path d="M489.6,459.0 C489.4,459.4 489.0,460.9 488.7,461.9 C488.3,462.9 487.9,463.8 487.5,464.8 C487.1,465.8 486.4,467.2 486.2,467.7" fill="none" stroke="#fbeae6" stroke-width="0.6651065113798784" stroke-linecap="round" opacity="0.75"/>
<path d="M456.9,424.2 C456.3,424.2 454.8,424.0 453.8,424.0 C452.7,423.9 451.7,423.8 450.7,423.8 C449.6,423.7 448.1,423.7 447.6,423.7" fill="none" stroke="#fbeae6" stroke-width="1.0188282552516492" stroke-linecap="round" opacity="0.75"/>
<path d="M464.2,412.3 C463.6,412.2 461.9,411.9 460.7,411.9 C459.5,411.8 458.3,411.7 457.1,411.8 C455.9,411.8 454.1,412.0 453.5,412.0" fill="none" stroke="#fbeae6" stroke-width="1.0356423645992199" stroke-linecap="round" opacity="0.75"/>
<path d="M498.6,398.0 C499.2,397.3 500.8,395.2 502.0,393.9 C503.1,392.6 504.4,391.3 505.6,390.1 C506.9,388.8 509.0,387.1 509.7,386.5" fill="none" stroke="#fbeae6" stroke-width="1.0746617083978176" stroke-linecap="round" opacity="0.75"/>
<path d="M494.2,401.1 C494.4,400.3 495.0,397.8 495.5,396.1 C495.9,394.5 496.3,392.8 496.8,391.2 C497.2,389.5 497.8,387.0 498.0,386.2" fill="none" stroke="#fbeae6" stroke-width="0.9775019256387006" stroke-linecap="round" opacity="0.75"/>
<path d="M457.1,417.7 C456.5,417.5 454.9,417.0 453.9,416.7 C452.8,416.4 451.7,416.2 450.6,415.9 C449.5,415.6 447.9,415.2 447.3,415.1" fill="none" stroke="#fbeae6" stroke-width="0.7568806829126629" stroke-linecap="round" opacity="0.75"/>
<path d="M511.6,453.2 C511.8,454.2 512.6,456.9 513.0,458.8 C513.3,460.7 513.5,462.7 513.6,464.8 C513.7,466.8 513.5,469.9 513.5,471.0" fill="none" stroke="#fbeae6" stroke-width="0.9454613255276436" stroke-linecap="round" opacity="0.75"/>
<path d="M454.0,418.6 C453.6,418.3 452.6,417.4 452.0,416.8 C451.3,416.2 450.7,415.5 450.1,414.8 C449.5,414.2 448.6,413.1 448.3,412.7" fill="none" stroke="#fbeae6" stroke-width="0.8216999774276315" stroke-linecap="round" opacity="0.75"/>
<path d="M499.2,456.5 C499.7,457.0 501.1,458.5 502.1,459.4 C503.2,460.3 504.2,461.2 505.4,462.1 C506.5,462.9 508.2,464.1 508.8,464.5" fill="none" stroke="#fbeae6" stroke-width="0.8297295118188943" stroke-linecap="round" opacity="0.75"/>
<path d="M440.0,400.0 C441.3,401.7 445.5,407.0 448.0,410.0 C450.5,413.0 453.8,416.7 455.0,418.0" fill="none" stroke="#fbe9e5" stroke-width="0.8" stroke-linecap="round" opacity="0.9"/>
<path d="M430.0,420.0 C431.7,420.8 436.7,423.7 440.0,425.0 C443.3,426.3 448.3,427.5 450.0,428.0" fill="none" stroke="#fbe9e5" stroke-width="0.8" stroke-linecap="round" opacity="0.9"/>
<path d="M470.0,380.0 C470.7,381.7 472.8,387.0 474.0,390.0 C475.2,393.0 476.5,396.7 477.0,398.0" fill="none" stroke="#fbe9e5" stroke-width="0.9" stroke-linecap="round" opacity="0.9"/>
<path d="M500.0,385.0 C499.7,386.7 498.7,392.2 498.0,395.0 C497.3,397.8 496.3,400.8 496.0,402.0" fill="none" stroke="#fbe9e5" stroke-width="0.8" stroke-linecap="round" opacity="0.9"/>
<path d="M525.0,415.0 C526.7,416.7 532.5,421.7 535.0,425.0 C537.5,428.3 539.2,433.3 540.0,435.0" fill="none" stroke="#fbe9e5" stroke-width="0.8" stroke-linecap="round" opacity="0.9"/>
<path d="M520.0,450.0 C521.7,451.3 527.0,455.5 530.0,458.0 C533.0,460.5 536.7,463.8 538.0,465.0" fill="none" stroke="#fbe9e5" stroke-width="0.9" stroke-linecap="round" opacity="0.9"/>
<path d="M470.0,470.0 C471.3,471.3 474.7,476.0 478.0,478.0 C481.3,480.0 488.0,481.3 490.0,482.0" fill="none" stroke="#fbe9e5" stroke-width="0.8" stroke-linecap="round" opacity="0.9"/>
<path d="M440.0,455.0 C441.3,456.7 445.3,462.2 448.0,465.0 C450.7,467.8 454.7,470.8 456.0,472.0" fill="none" stroke="#fbe9e5" stroke-width="0.8" stroke-linecap="round" opacity="0.9"/>
<path d="M450.0,370.0 C453.3,369.3 463.3,366.7 470.0,366.0 C476.7,365.3 486.7,366.0 490.0,366.0" fill="none" stroke="#fbe9e5" stroke-width="0.7" stroke-linecap="round" opacity="0.9"/>
<path d="M515.0,470.0 C513.3,471.3 508.3,475.7 505.0,478.0 C501.7,480.3 496.7,483.0 495.0,484.0" fill="none" stroke="#fbe9e5" stroke-width="0.8" stroke-linecap="round" opacity="0.9"/>
<path d="M420.0,440.0 C420.8,442.5 423.0,450.3 425.0,455.0 C427.0,459.7 430.8,465.8 432.0,468.0" fill="none" stroke="#fbe9e5" stroke-width="0.7" stroke-linecap="round" opacity="0.9"/>
<path d="M540.0,400.0 C541.3,401.7 546.7,408.3 548.0,410.0" fill="none" stroke="#fbe9e5" stroke-width="0.7" stroke-linecap="round" opacity="0.9"/>
<path d="M455.9,425.6 C456.1,424.7 460.1,421.4 461.2,420.3 C462.3,419.2 465.2,416.2 466.5,415.0 C467.8,413.8 473.4,409.3 474.4,407.9 C475.4,406.5 475.7,400.9 476.2,400.9 C476.7,400.9 478.6,407.4 479.7,407.9 C480.8,408.4 486.3,406.6 487.6,406.2 C488.9,405.8 491.8,404.3 492.9,404.4 C494.0,404.5 496.8,407.0 498.2,407.0 C499.6,407.0 505.1,404.9 507.0,404.4 C508.9,403.9 516.9,401.5 517.6,401.8 C518.3,402.1 515.3,406.0 514.1,407.0 C512.9,408.0 506.8,410.5 505.3,411.5 C503.8,412.5 499.8,415.6 499.1,416.7 C498.4,417.8 497.8,420.9 498.2,422.0 C498.6,423.1 502.4,426.5 503.5,427.3 C504.6,428.1 507.6,429.8 508.8,430.0 C510.0,430.2 514.4,428.8 515.8,429.1 C517.2,429.4 522.7,431.7 522.9,432.6 C523.1,433.5 518.8,437.2 517.6,437.9 C516.4,438.6 511.6,439.2 510.5,439.7 C509.4,440.2 506.9,442.3 506.1,443.2 C505.3,444.1 503.2,448.9 502.6,448.5 C502.0,448.1 501.1,441.1 500.0,439.7 C498.9,438.3 492.9,435.1 491.1,434.4 C489.3,433.7 483.5,432.2 482.3,432.6 C481.1,433.0 479.3,436.5 478.8,437.9 C478.3,439.3 477.1,444.8 477.0,446.7 C476.9,448.6 478.1,456.1 477.9,457.3 C477.7,458.5 475.8,459.8 475.3,459.1 C474.8,458.4 473.0,452.2 472.6,450.3 C472.2,448.4 471.5,441.5 470.9,439.7 C470.3,437.9 467.6,433.7 466.5,432.6 C465.4,431.5 460.5,429.8 459.4,429.1 C458.3,428.4 455.7,426.5 455.9,425.6 Z" fill="#dedddf" stroke="#f6dcd6" stroke-width="0.8"/>
</g>
<text x="398" y="369.5" font-size="19.5" font-weight="bold" fill="#000" stroke="#000" stroke-width="0.9">i</text>
<clipPath id="clh"><rect x="224.4" y="512.4" width="167.29999999999998" height="125.80000000000007"/></clipPath>
<rect x="224.4" y="512.4" width="167.29999999999998" height="125.80000000000007" fill="#ea826e"/>
<g clip-path="url(#clh)">
<rect x="224.4" y="512.4" width="167.29999999999998" height="125.80000000000007" fill="#fff" filter="url(#tex)" opacity="0.45"/>
<rect x="224.4" y="512.4" width="167.29999999999998" height="125.80000000000007" fill="#fff" filter="url(#texD)" opacity="0.35"/>
<g transform="rotate(-70 308.05 575.3)"><rect x="140.75000000000003" y="408.0" width="334.59999999999997" height="334.59999999999997" fill="#fff" filter="url(#fib)" opacity="0.35"/><rect x="140.75000000000003" y="408.0" width="334.59999999999997" height="334.59999999999997" fill="#fff" filter="url(#fibW)" opacity="0.3"/></g><line x1="236.7" y1="546.9" x2="240.7" y2="537.5" stroke="#f6c0b0" stroke-width="0.7" opacity="0.50"/>
<line x1="302.7" y1="534.9" x2="306.4" y2="530.1" stroke="#f6c0b0" stroke-width="0.7" opacity="0.53"/>
<line x1="292.0" y1="591.4" x2="300.9" y2="581.1" stroke="#f6c0b0" stroke-width="0.7" opacity="0.58"/>
<line x1="337.7" y1="555.3" x2="344.1" y2="543.1" stroke="#f6c0b0" stroke-width="0.7" opacity="0.46"/>
<line x1="373.1" y1="592.0" x2="374.1" y2="580.1" stroke="#f6c0b0" stroke-width="0.7" opacity="0.60"/>
<line x1="283.5" y1="529.5" x2="290.5" y2="518.1" stroke="#f6c0b0" stroke-width="0.7" opacity="0.57"/>
<line x1="273.3" y1="609.1" x2="275.2" y2="602.4" stroke="#d8705e" stroke-width="0.7" opacity="0.41"/>
<line x1="334.8" y1="620.0" x2="342.5" y2="611.1" stroke="#d8705e" stroke-width="0.7" opacity="0.28"/>
<line x1="365.8" y1="565.0" x2="367.4" y2="558.9" stroke="#d8705e" stroke-width="0.7" opacity="0.32"/>
<line x1="367.5" y1="550.5" x2="372.8" y2="543.6" stroke="#d8705e" stroke-width="0.7" opacity="0.30"/>
<line x1="252.2" y1="610.8" x2="256.9" y2="601.9" stroke="#d8705e" stroke-width="0.7" opacity="0.30"/>
<line x1="365.5" y1="538.8" x2="368.1" y2="528.5" stroke="#d8705e" stroke-width="0.7" opacity="0.49"/>
<line x1="353.7" y1="615.2" x2="358.5" y2="608.4" stroke="#f6c0b0" stroke-width="0.7" opacity="0.42"/>
<line x1="258.4" y1="623.8" x2="262.0" y2="617.0" stroke="#f6c0b0" stroke-width="0.7" opacity="0.65"/>
<line x1="384.7" y1="606.3" x2="387.1" y2="596.7" stroke="#d8705e" stroke-width="0.7" opacity="0.26"/>
<line x1="334.2" y1="562.6" x2="342.1" y2="554.9" stroke="#d8705e" stroke-width="0.7" opacity="0.38"/>
<line x1="314.9" y1="539.3" x2="319.5" y2="535.3" stroke="#f6c0b0" stroke-width="0.7" opacity="0.54"/>
<line x1="351.9" y1="566.4" x2="355.9" y2="557.5" stroke="#f6c0b0" stroke-width="0.7" opacity="0.61"/>
<line x1="287.9" y1="564.2" x2="291.0" y2="556.3" stroke="#f6c0b0" stroke-width="0.7" opacity="0.47"/>
<line x1="301.3" y1="529.8" x2="308.4" y2="518.5" stroke="#d8705e" stroke-width="0.7" opacity="0.44"/>
<line x1="378.6" y1="622.8" x2="387.1" y2="613.9" stroke="#d8705e" stroke-width="0.7" opacity="0.31"/>
<line x1="302.5" y1="559.9" x2="307.6" y2="551.1" stroke="#f6c0b0" stroke-width="0.7" opacity="0.57"/>
<line x1="319.1" y1="528.7" x2="324.6" y2="522.3" stroke="#d8705e" stroke-width="0.7" opacity="0.27"/>
<line x1="249.6" y1="581.5" x2="255.7" y2="572.3" stroke="#f6c0b0" stroke-width="0.7" opacity="0.42"/>
<line x1="378.4" y1="546.3" x2="382.2" y2="539.9" stroke="#f6c0b0" stroke-width="0.7" opacity="0.43"/>
<line x1="312.1" y1="634.1" x2="316.2" y2="626.4" stroke="#d8705e" stroke-width="0.7" opacity="0.47"/>
<line x1="388.1" y1="535.9" x2="395.2" y2="525.1" stroke="#f6c0b0" stroke-width="0.7" opacity="0.56"/>
<line x1="252.0" y1="613.7" x2="255.0" y2="604.3" stroke="#f6c0b0" stroke-width="0.7" opacity="0.37"/>
<line x1="289.5" y1="622.3" x2="298.4" y2="615.7" stroke="#f6c0b0" stroke-width="0.7" opacity="0.44"/>
<line x1="340.6" y1="556.9" x2="343.8" y2="545.5" stroke="#f6c0b0" stroke-width="0.7" opacity="0.62"/>
<line x1="307.1" y1="537.8" x2="314.4" y2="527.2" stroke="#d8705e" stroke-width="0.7" opacity="0.49"/>
<line x1="222.1" y1="560.2" x2="227.0" y2="550.2" stroke="#d8705e" stroke-width="0.7" opacity="0.42"/>
<line x1="368.1" y1="602.5" x2="374.0" y2="594.3" stroke="#d8705e" stroke-width="0.7" opacity="0.33"/>
<line x1="334.3" y1="593.9" x2="338.5" y2="585.6" stroke="#f6c0b0" stroke-width="0.7" opacity="0.54"/>
<line x1="366.0" y1="596.8" x2="369.7" y2="589.1" stroke="#f6c0b0" stroke-width="0.7" opacity="0.60"/>
<line x1="234.2" y1="627.4" x2="240.6" y2="615.4" stroke="#f6c0b0" stroke-width="0.7" opacity="0.39"/>
<line x1="371.8" y1="566.5" x2="376.1" y2="559.2" stroke="#d8705e" stroke-width="0.7" opacity="0.29"/>
<line x1="303.8" y1="596.9" x2="308.0" y2="593.9" stroke="#d8705e" stroke-width="0.7" opacity="0.36"/>
<line x1="294.4" y1="589.0" x2="300.2" y2="577.3" stroke="#f6c0b0" stroke-width="0.7" opacity="0.54"/>
<line x1="249.2" y1="595.4" x2="255.9" y2="584.4" stroke="#f6c0b0" stroke-width="0.7" opacity="0.57"/>
<line x1="371.7" y1="542.9" x2="375.7" y2="532.3" stroke="#d8705e" stroke-width="0.7" opacity="0.36"/>
<line x1="330.6" y1="601.9" x2="331.9" y2="591.2" stroke="#d8705e" stroke-width="0.7" opacity="0.42"/>
<line x1="306.7" y1="560.5" x2="313.3" y2="549.0" stroke="#f6c0b0" stroke-width="0.7" opacity="0.40"/>
<line x1="224.4" y1="622.5" x2="228.4" y2="616.7" stroke="#f6c0b0" stroke-width="0.7" opacity="0.42"/>
<line x1="321.6" y1="579.0" x2="328.0" y2="567.8" stroke="#f6c0b0" stroke-width="0.7" opacity="0.63"/>
<line x1="357.0" y1="631.7" x2="360.2" y2="622.2" stroke="#f6c0b0" stroke-width="0.7" opacity="0.53"/>
<line x1="376.7" y1="631.5" x2="382.1" y2="622.0" stroke="#f6c0b0" stroke-width="0.7" opacity="0.40"/>
<line x1="247.3" y1="617.2" x2="248.2" y2="607.6" stroke="#f6c0b0" stroke-width="0.7" opacity="0.53"/>
<line x1="361.8" y1="609.5" x2="364.5" y2="603.2" stroke="#d8705e" stroke-width="0.7" opacity="0.37"/>
<line x1="331.9" y1="615.4" x2="336.9" y2="605.0" stroke="#f6c0b0" stroke-width="0.7" opacity="0.43"/>
<line x1="253.0" y1="642.3" x2="258.4" y2="632.5" stroke="#d8705e" stroke-width="0.7" opacity="0.31"/>
<line x1="229.5" y1="566.0" x2="235.6" y2="559.2" stroke="#f6c0b0" stroke-width="0.7" opacity="0.68"/>
<line x1="242.3" y1="637.6" x2="246.4" y2="624.8" stroke="#f6c0b0" stroke-width="0.7" opacity="0.60"/>
<line x1="221.2" y1="572.5" x2="228.6" y2="564.8" stroke="#d8705e" stroke-width="0.7" opacity="0.29"/>
<line x1="288.9" y1="595.3" x2="294.1" y2="583.9" stroke="#f6c0b0" stroke-width="0.7" opacity="0.44"/>
<line x1="259.2" y1="597.0" x2="264.0" y2="591.6" stroke="#f6c0b0" stroke-width="0.7" opacity="0.44"/>
<line x1="343.3" y1="591.5" x2="349.9" y2="582.3" stroke="#f6c0b0" stroke-width="0.7" opacity="0.46"/>
<line x1="239.8" y1="545.4" x2="250.3" y2="540.4" stroke="#f6c0b0" stroke-width="0.7" opacity="0.47"/>
<line x1="358.3" y1="635.8" x2="359.2" y2="630.2" stroke="#d8705e" stroke-width="0.7" opacity="0.37"/>
<line x1="294.2" y1="594.6" x2="296.8" y2="589.6" stroke="#d8705e" stroke-width="0.7" opacity="0.49"/>
<line x1="291.4" y1="575.8" x2="296.8" y2="567.1" stroke="#f6c0b0" stroke-width="0.7" opacity="0.54"/>
<line x1="374.9" y1="579.3" x2="376.5" y2="572.9" stroke="#d8705e" stroke-width="0.7" opacity="0.28"/>
<line x1="258.2" y1="605.5" x2="261.8" y2="600.6" stroke="#f6c0b0" stroke-width="0.7" opacity="0.63"/>
<line x1="225.6" y1="525.1" x2="229.8" y2="513.8" stroke="#f6c0b0" stroke-width="0.7" opacity="0.42"/>
<line x1="367.1" y1="615.7" x2="371.9" y2="607.2" stroke="#f6c0b0" stroke-width="0.7" opacity="0.69"/>
<line x1="309.9" y1="527.8" x2="313.6" y2="518.1" stroke="#d8705e" stroke-width="0.7" opacity="0.41"/>
<line x1="347.5" y1="552.9" x2="349.8" y2="545.9" stroke="#f6c0b0" stroke-width="0.7" opacity="0.44"/>
<line x1="360.3" y1="535.4" x2="367.6" y2="526.6" stroke="#f6c0b0" stroke-width="0.7" opacity="0.47"/>
<line x1="386.8" y1="628.0" x2="388.0" y2="621.7" stroke="#f6c0b0" stroke-width="0.7" opacity="0.55"/>
<line x1="280.4" y1="592.6" x2="284.4" y2="581.0" stroke="#f6c0b0" stroke-width="0.7" opacity="0.58"/>
<line x1="232.3" y1="523.0" x2="236.0" y2="518.1" stroke="#d8705e" stroke-width="0.7" opacity="0.34"/>
<line x1="306.1" y1="571.7" x2="307.6" y2="566.5" stroke="#f6c0b0" stroke-width="0.7" opacity="0.65"/>
<line x1="278.2" y1="570.4" x2="283.9" y2="560.2" stroke="#d8705e" stroke-width="0.7" opacity="0.35"/>
<line x1="307.7" y1="567.2" x2="310.5" y2="557.2" stroke="#d8705e" stroke-width="0.7" opacity="0.48"/>
<line x1="382.2" y1="521.3" x2="384.6" y2="516.5" stroke="#f6c0b0" stroke-width="0.7" opacity="0.63"/>
<line x1="333.4" y1="587.8" x2="342.7" y2="579.8" stroke="#d8705e" stroke-width="0.7" opacity="0.33"/>
<line x1="352.1" y1="522.1" x2="359.5" y2="512.5" stroke="#f6c0b0" stroke-width="0.7" opacity="0.40"/>
<line x1="306.7" y1="603.9" x2="309.9" y2="599.6" stroke="#f6c0b0" stroke-width="0.7" opacity="0.60"/>
<line x1="280.9" y1="540.1" x2="284.4" y2="533.6" stroke="#d8705e" stroke-width="0.7" opacity="0.26"/>
<line x1="314.7" y1="629.9" x2="319.2" y2="623.8" stroke="#d8705e" stroke-width="0.7" opacity="0.28"/>
<line x1="304.9" y1="551.2" x2="310.9" y2="539.9" stroke="#d8705e" stroke-width="0.7" opacity="0.34"/>
<line x1="354.2" y1="639.0" x2="361.3" y2="632.3" stroke="#f6c0b0" stroke-width="0.7" opacity="0.39"/>
<line x1="342.8" y1="522.1" x2="347.0" y2="517.8" stroke="#d8705e" stroke-width="0.7" opacity="0.44"/>
<line x1="379.7" y1="565.2" x2="383.9" y2="557.7" stroke="#d8705e" stroke-width="0.7" opacity="0.45"/>
<line x1="242.6" y1="556.6" x2="245.0" y2="549.9" stroke="#d8705e" stroke-width="0.7" opacity="0.48"/>
<line x1="385.5" y1="526.7" x2="391.3" y2="515.3" stroke="#f6c0b0" stroke-width="0.7" opacity="0.47"/>
<line x1="353.2" y1="625.5" x2="357.4" y2="616.8" stroke="#f6c0b0" stroke-width="0.7" opacity="0.41"/>
<line x1="311.4" y1="548.0" x2="314.9" y2="540.4" stroke="#f6c0b0" stroke-width="0.7" opacity="0.57"/>
<line x1="266.0" y1="523.2" x2="270.5" y2="518.3" stroke="#f6c0b0" stroke-width="0.7" opacity="0.52"/>
<line x1="223.4" y1="613.8" x2="226.7" y2="609.6" stroke="#d8705e" stroke-width="0.7" opacity="0.38"/>
<line x1="378.1" y1="627.3" x2="381.4" y2="623.2" stroke="#d8705e" stroke-width="0.7" opacity="0.27"/>
<line x1="224.7" y1="624.3" x2="227.7" y2="612.9" stroke="#f6c0b0" stroke-width="0.7" opacity="0.62"/>
<line x1="326.9" y1="639.2" x2="336.0" y2="630.4" stroke="#d8705e" stroke-width="0.7" opacity="0.40"/>
<line x1="307.4" y1="569.5" x2="310.8" y2="563.6" stroke="#f6c0b0" stroke-width="0.7" opacity="0.58"/>
<line x1="274.5" y1="545.6" x2="277.1" y2="533.7" stroke="#d8705e" stroke-width="0.7" opacity="0.46"/>
<line x1="338.5" y1="593.4" x2="346.7" y2="583.5" stroke="#f6c0b0" stroke-width="0.7" opacity="0.59"/>
<line x1="242.2" y1="612.6" x2="247.1" y2="599.9" stroke="#d8705e" stroke-width="0.7" opacity="0.38"/>
<line x1="331.3" y1="544.2" x2="336.0" y2="538.4" stroke="#f6c0b0" stroke-width="0.7" opacity="0.41"/>
<line x1="292.5" y1="524.1" x2="295.5" y2="516.6" stroke="#d8705e" stroke-width="0.7" opacity="0.43"/>
<line x1="293.0" y1="542.0" x2="298.9" y2="532.9" stroke="#d8705e" stroke-width="0.7" opacity="0.37"/>
<line x1="366.0" y1="618.4" x2="367.8" y2="610.6" stroke="#f6c0b0" stroke-width="0.7" opacity="0.41"/>
<line x1="321.2" y1="520.8" x2="323.2" y2="514.7" stroke="#f6c0b0" stroke-width="0.7" opacity="0.41"/>
<line x1="223.5" y1="570.3" x2="225.8" y2="560.7" stroke="#f6c0b0" stroke-width="0.7" opacity="0.52"/>
<line x1="271.6" y1="527.3" x2="277.4" y2="518.0" stroke="#f6c0b0" stroke-width="0.7" opacity="0.60"/>
<line x1="353.7" y1="516.9" x2="359.0" y2="511.4" stroke="#d8705e" stroke-width="0.7" opacity="0.37"/>
<line x1="318.1" y1="524.6" x2="320.7" y2="518.7" stroke="#d8705e" stroke-width="0.7" opacity="0.42"/>
<line x1="274.1" y1="624.9" x2="276.7" y2="620.4" stroke="#f6c0b0" stroke-width="0.7" opacity="0.58"/>
<line x1="380.1" y1="580.9" x2="385.3" y2="571.9" stroke="#f6c0b0" stroke-width="0.7" opacity="0.64"/>
<line x1="275.1" y1="530.5" x2="281.6" y2="519.9" stroke="#d8705e" stroke-width="0.7" opacity="0.30"/>
<line x1="390.6" y1="623.3" x2="392.1" y2="618.0" stroke="#f6c0b0" stroke-width="0.7" opacity="0.50"/>
<line x1="256.0" y1="541.1" x2="261.6" y2="529.5" stroke="#f6c0b0" stroke-width="0.7" opacity="0.67"/>
<line x1="296.2" y1="611.1" x2="302.9" y2="599.4" stroke="#f6c0b0" stroke-width="0.7" opacity="0.44"/>
<line x1="308.9" y1="580.1" x2="310.0" y2="572.4" stroke="#f6c0b0" stroke-width="0.7" opacity="0.53"/>
<line x1="359.7" y1="627.3" x2="367.0" y2="615.6" stroke="#d8705e" stroke-width="0.7" opacity="0.33"/>
<line x1="240.5" y1="621.8" x2="247.3" y2="613.3" stroke="#d8705e" stroke-width="0.7" opacity="0.37"/>
<line x1="312.4" y1="528.4" x2="311.7" y2="515.1" stroke="#f6c0b0" stroke-width="0.7" opacity="0.40"/>
<line x1="229.3" y1="579.6" x2="230.6" y2="569.9" stroke="#d8705e" stroke-width="0.7" opacity="0.42"/>
<line x1="329.6" y1="590.7" x2="332.3" y2="585.7" stroke="#f6c0b0" stroke-width="0.7" opacity="0.58"/>
<line x1="257.7" y1="569.4" x2="262.0" y2="559.9" stroke="#f6c0b0" stroke-width="0.7" opacity="0.44"/>
<line x1="245.4" y1="597.6" x2="250.4" y2="593.9" stroke="#f6c0b0" stroke-width="0.7" opacity="0.40"/>
<line x1="324.0" y1="552.0" x2="329.6" y2="547.3" stroke="#d8705e" stroke-width="0.7" opacity="0.41"/>
<line x1="380.1" y1="608.1" x2="383.8" y2="598.6" stroke="#f6c0b0" stroke-width="0.7" opacity="0.46"/>
<line x1="346.7" y1="558.1" x2="349.9" y2="553.0" stroke="#d8705e" stroke-width="0.7" opacity="0.35"/>
<line x1="378.6" y1="525.7" x2="386.8" y2="517.1" stroke="#f6c0b0" stroke-width="0.7" opacity="0.51"/>
<line x1="276.5" y1="529.9" x2="284.1" y2="519.5" stroke="#d8705e" stroke-width="0.7" opacity="0.33"/>
<line x1="334.7" y1="614.6" x2="337.8" y2="610.0" stroke="#f6c0b0" stroke-width="0.7" opacity="0.68"/>
<line x1="268.1" y1="616.0" x2="274.3" y2="604.7" stroke="#f6c0b0" stroke-width="0.7" opacity="0.68"/>
<line x1="369.3" y1="544.3" x2="372.6" y2="540.5" stroke="#d8705e" stroke-width="0.7" opacity="0.35"/>
<line x1="344.6" y1="617.8" x2="351.9" y2="607.1" stroke="#f6c0b0" stroke-width="0.7" opacity="0.40"/>
<line x1="299.0" y1="547.2" x2="302.5" y2="541.4" stroke="#d8705e" stroke-width="0.7" opacity="0.44"/>
<line x1="382.7" y1="566.8" x2="388.5" y2="558.4" stroke="#d8705e" stroke-width="0.7" opacity="0.48"/>
<line x1="319.4" y1="572.5" x2="325.4" y2="562.6" stroke="#d8705e" stroke-width="0.7" opacity="0.27"/>
<line x1="271.3" y1="536.2" x2="277.6" y2="530.6" stroke="#f6c0b0" stroke-width="0.7" opacity="0.54"/>
<line x1="332.5" y1="557.3" x2="336.9" y2="553.3" stroke="#f6c0b0" stroke-width="0.7" opacity="0.60"/>
<line x1="316.9" y1="611.4" x2="320.4" y2="602.5" stroke="#d8705e" stroke-width="0.7" opacity="0.41"/>
<line x1="307.3" y1="578.3" x2="313.5" y2="573.1" stroke="#f6c0b0" stroke-width="0.7" opacity="0.52"/>
<line x1="330.3" y1="522.5" x2="332.6" y2="517.6" stroke="#f6c0b0" stroke-width="0.7" opacity="0.50"/>
<line x1="318.2" y1="586.8" x2="320.0" y2="581.8" stroke="#f6c0b0" stroke-width="0.7" opacity="0.61"/>
<line x1="291.1" y1="620.4" x2="297.3" y2="612.3" stroke="#d8705e" stroke-width="0.7" opacity="0.50"/>
<line x1="224.2" y1="530.6" x2="226.0" y2="524.0" stroke="#f6c0b0" stroke-width="0.7" opacity="0.70"/>
<line x1="247.4" y1="576.2" x2="251.6" y2="567.9" stroke="#f6c0b0" stroke-width="0.7" opacity="0.45"/>
<line x1="291.8" y1="554.0" x2="298.2" y2="548.1" stroke="#f6c0b0" stroke-width="0.7" opacity="0.66"/>
<line x1="381.8" y1="587.7" x2="391.3" y2="578.6" stroke="#f6c0b0" stroke-width="0.7" opacity="0.48"/>
<line x1="264.9" y1="632.4" x2="269.3" y2="626.1" stroke="#f6c0b0" stroke-width="0.7" opacity="0.50"/>
<line x1="286.5" y1="599.1" x2="289.7" y2="594.8" stroke="#d8705e" stroke-width="0.7" opacity="0.46"/>
<line x1="258.3" y1="640.5" x2="263.8" y2="630.4" stroke="#f6c0b0" stroke-width="0.7" opacity="0.51"/>
<line x1="347.4" y1="586.8" x2="354.8" y2="577.4" stroke="#f6c0b0" stroke-width="0.7" opacity="0.43"/>
<line x1="280.5" y1="526.9" x2="284.6" y2="523.9" stroke="#d8705e" stroke-width="0.7" opacity="0.28"/>
<line x1="278.3" y1="553.1" x2="283.9" y2="547.4" stroke="#d8705e" stroke-width="0.7" opacity="0.30"/>
<line x1="388.9" y1="565.0" x2="393.5" y2="558.5" stroke="#f6c0b0" stroke-width="0.7" opacity="0.64"/>
<line x1="249.3" y1="608.9" x2="252.5" y2="602.8" stroke="#f6c0b0" stroke-width="0.7" opacity="0.55"/>
<line x1="366.7" y1="624.0" x2="372.9" y2="616.0" stroke="#d8705e" stroke-width="0.7" opacity="0.29"/>
<line x1="378.8" y1="626.2" x2="381.8" y2="615.9" stroke="#d8705e" stroke-width="0.7" opacity="0.41"/>
<line x1="235.6" y1="523.0" x2="237.3" y2="517.3" stroke="#f6c0b0" stroke-width="0.7" opacity="0.61"/>
<line x1="317.8" y1="629.8" x2="323.7" y2="622.9" stroke="#f6c0b0" stroke-width="0.7" opacity="0.68"/>
<line x1="335.2" y1="638.0" x2="338.6" y2="633.4" stroke="#d8705e" stroke-width="0.7" opacity="0.37"/>
<line x1="348.8" y1="522.9" x2="352.4" y2="513.1" stroke="#f6c0b0" stroke-width="0.7" opacity="0.39"/>
<line x1="338.9" y1="521.0" x2="339.4" y2="515.8" stroke="#f6c0b0" stroke-width="0.7" opacity="0.44"/>
<line x1="325.4" y1="601.9" x2="330.6" y2="595.0" stroke="#d8705e" stroke-width="0.7" opacity="0.42"/>
<line x1="312.9" y1="615.0" x2="314.7" y2="605.8" stroke="#d8705e" stroke-width="0.7" opacity="0.41"/>
<line x1="286.8" y1="575.5" x2="291.4" y2="569.2" stroke="#d8705e" stroke-width="0.7" opacity="0.35"/>
<line x1="327.3" y1="625.8" x2="330.6" y2="615.2" stroke="#d8705e" stroke-width="0.7" opacity="0.44"/>
<line x1="320.9" y1="569.6" x2="324.3" y2="564.1" stroke="#f6c0b0" stroke-width="0.7" opacity="0.46"/>
<line x1="260.3" y1="640.4" x2="267.1" y2="629.4" stroke="#d8705e" stroke-width="0.7" opacity="0.30"/>
<line x1="370.2" y1="629.3" x2="371.4" y2="617.4" stroke="#d8705e" stroke-width="0.7" opacity="0.29"/>
<line x1="277.7" y1="608.9" x2="284.0" y2="600.6" stroke="#f6c0b0" stroke-width="0.7" opacity="0.54"/>
<line x1="251.8" y1="620.9" x2="258.0" y2="611.6" stroke="#d8705e" stroke-width="0.7" opacity="0.33"/>
<line x1="345.1" y1="566.2" x2="350.2" y2="558.6" stroke="#f6c0b0" stroke-width="0.7" opacity="0.51"/>
<line x1="285.7" y1="636.7" x2="294.9" y2="627.5" stroke="#f6c0b0" stroke-width="0.7" opacity="0.40"/>
<line x1="274.5" y1="609.9" x2="272.9" y2="601.3" stroke="#f6c0b0" stroke-width="0.7" opacity="0.64"/>
<line x1="255.8" y1="614.1" x2="265.7" y2="608.9" stroke="#d8705e" stroke-width="0.7" opacity="0.36"/>
<line x1="256.3" y1="545.5" x2="257.6" y2="539.8" stroke="#f6c0b0" stroke-width="0.7" opacity="0.58"/>
<line x1="286.1" y1="637.9" x2="292.2" y2="627.6" stroke="#d8705e" stroke-width="0.7" opacity="0.33"/>
<line x1="350.2" y1="521.6" x2="352.3" y2="516.4" stroke="#f6c0b0" stroke-width="0.7" opacity="0.60"/>
<line x1="227.5" y1="566.6" x2="231.8" y2="554.7" stroke="#d8705e" stroke-width="0.7" opacity="0.31"/>
<line x1="236.4" y1="581.9" x2="241.3" y2="570.4" stroke="#d8705e" stroke-width="0.7" opacity="0.29"/>
<line x1="234.9" y1="522.9" x2="239.0" y2="514.0" stroke="#f6c0b0" stroke-width="0.7" opacity="0.57"/>
<line x1="274.7" y1="617.2" x2="279.3" y2="606.2" stroke="#f6c0b0" stroke-width="0.7" opacity="0.55"/>
<line x1="369.4" y1="518.4" x2="376.1" y2="510.6" stroke="#d8705e" stroke-width="0.7" opacity="0.32"/>
<line x1="302.9" y1="602.5" x2="309.7" y2="594.4" stroke="#d8705e" stroke-width="0.7" opacity="0.29"/>
<line x1="341.5" y1="574.5" x2="347.4" y2="562.3" stroke="#f6c0b0" stroke-width="0.7" opacity="0.48"/>
<line x1="371.7" y1="636.5" x2="378.4" y2="625.2" stroke="#d8705e" stroke-width="0.7" opacity="0.37"/>
<line x1="283.7" y1="523.0" x2="285.4" y2="516.2" stroke="#d8705e" stroke-width="0.7" opacity="0.40"/>
<line x1="379.1" y1="602.8" x2="383.0" y2="595.4" stroke="#f6c0b0" stroke-width="0.7" opacity="0.54"/>
<line x1="380.9" y1="595.6" x2="382.7" y2="588.4" stroke="#d8705e" stroke-width="0.7" opacity="0.27"/>
<line x1="298.4" y1="629.4" x2="303.8" y2="620.9" stroke="#f6c0b0" stroke-width="0.7" opacity="0.47"/>
<line x1="320.3" y1="576.2" x2="325.5" y2="563.6" stroke="#d8705e" stroke-width="0.7" opacity="0.28"/>
<line x1="249.5" y1="602.8" x2="257.0" y2="595.6" stroke="#d8705e" stroke-width="0.7" opacity="0.32"/>
<line x1="263.0" y1="640.0" x2="267.2" y2="632.0" stroke="#d8705e" stroke-width="0.7" opacity="0.41"/>
<line x1="352.7" y1="592.8" x2="357.3" y2="580.1" stroke="#f6c0b0" stroke-width="0.7" opacity="0.61"/>
<line x1="383.1" y1="521.1" x2="387.0" y2="513.9" stroke="#d8705e" stroke-width="0.7" opacity="0.36"/>
<line x1="381.3" y1="539.1" x2="382.9" y2="533.7" stroke="#f6c0b0" stroke-width="0.7" opacity="0.56"/>
<line x1="231.8" y1="633.4" x2="234.4" y2="628.2" stroke="#d8705e" stroke-width="0.7" opacity="0.28"/>
<line x1="308.5" y1="543.6" x2="313.3" y2="535.1" stroke="#d8705e" stroke-width="0.7" opacity="0.27"/>
<line x1="258.0" y1="577.4" x2="260.4" y2="569.5" stroke="#d8705e" stroke-width="0.7" opacity="0.39"/>
<line x1="296.7" y1="611.9" x2="303.4" y2="604.8" stroke="#f6c0b0" stroke-width="0.7" opacity="0.53"/>
<line x1="388.3" y1="525.6" x2="393.8" y2="517.1" stroke="#d8705e" stroke-width="0.7" opacity="0.39"/>
<line x1="384.8" y1="555.9" x2="385.9" y2="549.1" stroke="#d8705e" stroke-width="0.7" opacity="0.33"/>
<line x1="360.0" y1="522.1" x2="368.3" y2="511.7" stroke="#d8705e" stroke-width="0.7" opacity="0.37"/>
<line x1="287.4" y1="634.5" x2="287.8" y2="627.8" stroke="#f6c0b0" stroke-width="0.7" opacity="0.58"/>
<line x1="374.9" y1="534.1" x2="379.8" y2="523.3" stroke="#f6c0b0" stroke-width="0.7" opacity="0.53"/>
<line x1="318.4" y1="521.9" x2="322.2" y2="517.0" stroke="#f6c0b0" stroke-width="0.7" opacity="0.60"/>
<line x1="306.9" y1="613.8" x2="309.4" y2="608.5" stroke="#f6c0b0" stroke-width="0.7" opacity="0.69"/>
<line x1="274.4" y1="538.0" x2="277.0" y2="532.9" stroke="#f6c0b0" stroke-width="0.7" opacity="0.70"/>
<line x1="367.8" y1="533.7" x2="369.1" y2="524.4" stroke="#d8705e" stroke-width="0.7" opacity="0.45"/>
<line x1="256.7" y1="569.7" x2="258.7" y2="562.3" stroke="#d8705e" stroke-width="0.7" opacity="0.38"/>
<line x1="292.2" y1="614.3" x2="295.7" y2="604.5" stroke="#d8705e" stroke-width="0.7" opacity="0.33"/>
<line x1="227.5" y1="518.4" x2="231.9" y2="506.8" stroke="#d8705e" stroke-width="0.7" opacity="0.26"/>
<line x1="264.6" y1="635.3" x2="270.1" y2="628.3" stroke="#d8705e" stroke-width="0.7" opacity="0.49"/>
<line x1="262.7" y1="608.3" x2="269.9" y2="597.9" stroke="#d8705e" stroke-width="0.7" opacity="0.44"/>
<line x1="232.6" y1="555.2" x2="238.9" y2="546.5" stroke="#f6c0b0" stroke-width="0.7" opacity="0.69"/>
<line x1="262.5" y1="531.1" x2="266.1" y2="525.3" stroke="#d8705e" stroke-width="0.7" opacity="0.40"/>
<line x1="263.7" y1="588.3" x2="268.0" y2="581.5" stroke="#f6c0b0" stroke-width="0.7" opacity="0.60"/>
<line x1="320.1" y1="525.4" x2="323.1" y2="519.9" stroke="#f6c0b0" stroke-width="0.7" opacity="0.61"/>
<line x1="323.8" y1="557.2" x2="327.1" y2="550.8" stroke="#d8705e" stroke-width="0.7" opacity="0.32"/>
<line x1="325.3" y1="588.8" x2="334.9" y2="580.7" stroke="#d8705e" stroke-width="0.7" opacity="0.49"/>
<line x1="260.5" y1="638.8" x2="264.0" y2="633.6" stroke="#f6c0b0" stroke-width="0.7" opacity="0.43"/>
<line x1="297.4" y1="598.3" x2="302.9" y2="587.0" stroke="#d8705e" stroke-width="0.7" opacity="0.47"/>
<line x1="368.8" y1="640.4" x2="371.4" y2="631.8" stroke="#d8705e" stroke-width="0.7" opacity="0.32"/>
<line x1="378.2" y1="551.2" x2="379.8" y2="544.9" stroke="#d8705e" stroke-width="0.7" opacity="0.47"/>
<line x1="378.6" y1="544.4" x2="388.1" y2="535.3" stroke="#d8705e" stroke-width="0.7" opacity="0.28"/>
<line x1="300.9" y1="525.6" x2="303.8" y2="513.3" stroke="#d8705e" stroke-width="0.7" opacity="0.45"/>
<line x1="293.6" y1="563.9" x2="296.7" y2="555.7" stroke="#d8705e" stroke-width="0.7" opacity="0.37"/>
<line x1="299.3" y1="638.6" x2="302.8" y2="631.5" stroke="#f6c0b0" stroke-width="0.7" opacity="0.67"/>
<line x1="308.6" y1="574.2" x2="314.8" y2="562.6" stroke="#f6c0b0" stroke-width="0.7" opacity="0.39"/>
<line x1="368.4" y1="637.5" x2="375.1" y2="628.1" stroke="#f6c0b0" stroke-width="0.7" opacity="0.52"/>
<line x1="236.2" y1="533.6" x2="239.4" y2="524.3" stroke="#d8705e" stroke-width="0.7" opacity="0.36"/>
<line x1="343.0" y1="525.9" x2="345.3" y2="519.7" stroke="#f6c0b0" stroke-width="0.7" opacity="0.63"/>
<line x1="252.9" y1="628.9" x2="255.4" y2="622.6" stroke="#f6c0b0" stroke-width="0.7" opacity="0.62"/>
<line x1="223.2" y1="570.4" x2="228.2" y2="562.0" stroke="#f6c0b0" stroke-width="0.7" opacity="0.38"/>
<line x1="247.8" y1="639.7" x2="252.0" y2="627.1" stroke="#d8705e" stroke-width="0.7" opacity="0.40"/>
<line x1="375.6" y1="571.2" x2="379.0" y2="559.3" stroke="#f6c0b0" stroke-width="0.7" opacity="0.44"/>
<line x1="300.8" y1="569.0" x2="307.7" y2="557.8" stroke="#d8705e" stroke-width="0.7" opacity="0.47"/>
<line x1="263.2" y1="549.4" x2="269.8" y2="541.4" stroke="#f6c0b0" stroke-width="0.7" opacity="0.38"/>
<line x1="265.2" y1="527.1" x2="268.0" y2="521.9" stroke="#f6c0b0" stroke-width="0.7" opacity="0.50"/>
<line x1="313.4" y1="617.2" x2="317.8" y2="610.0" stroke="#d8705e" stroke-width="0.7" opacity="0.25"/>
<line x1="307.2" y1="532.9" x2="313.5" y2="521.6" stroke="#d8705e" stroke-width="0.7" opacity="0.37"/>
<line x1="357.0" y1="636.1" x2="363.0" y2="629.2" stroke="#f6c0b0" stroke-width="0.7" opacity="0.68"/>
<line x1="352.2" y1="528.6" x2="356.5" y2="522.8" stroke="#d8705e" stroke-width="0.7" opacity="0.33"/>
<line x1="247.3" y1="628.4" x2="249.2" y2="622.5" stroke="#f6c0b0" stroke-width="0.7" opacity="0.41"/>
<line x1="294.3" y1="549.9" x2="299.7" y2="538.0" stroke="#f6c0b0" stroke-width="0.7" opacity="0.36"/>
<line x1="349.7" y1="598.2" x2="353.4" y2="593.4" stroke="#d8705e" stroke-width="0.7" opacity="0.32"/>
<line x1="251.6" y1="565.0" x2="259.2" y2="555.3" stroke="#d8705e" stroke-width="0.7" opacity="0.31"/>
<line x1="299.1" y1="540.8" x2="300.9" y2="528.3" stroke="#f6c0b0" stroke-width="0.7" opacity="0.67"/>
<line x1="381.1" y1="572.7" x2="390.1" y2="562.4" stroke="#d8705e" stroke-width="0.7" opacity="0.45"/>
<line x1="346.6" y1="524.6" x2="350.9" y2="514.2" stroke="#f6c0b0" stroke-width="0.7" opacity="0.37"/>
<line x1="281.4" y1="586.7" x2="285.6" y2="577.3" stroke="#f6c0b0" stroke-width="0.7" opacity="0.59"/>
<line x1="379.5" y1="520.2" x2="382.5" y2="508.3" stroke="#f6c0b0" stroke-width="0.7" opacity="0.51"/>
<line x1="357.6" y1="602.1" x2="361.2" y2="594.8" stroke="#f6c0b0" stroke-width="0.7" opacity="0.53"/>
<line x1="359.2" y1="620.2" x2="364.1" y2="612.1" stroke="#f6c0b0" stroke-width="0.7" opacity="0.45"/>
<line x1="251.2" y1="557.9" x2="255.4" y2="549.8" stroke="#d8705e" stroke-width="0.7" opacity="0.33"/>
<line x1="364.7" y1="588.9" x2="370.1" y2="576.0" stroke="#f6c0b0" stroke-width="0.7" opacity="0.49"/>
<line x1="251.3" y1="531.8" x2="252.7" y2="526.9" stroke="#d8705e" stroke-width="0.7" opacity="0.48"/>
<line x1="292.2" y1="604.1" x2="297.5" y2="593.5" stroke="#d8705e" stroke-width="0.7" opacity="0.40"/>
<line x1="377.1" y1="584.2" x2="378.4" y2="579.2" stroke="#d8705e" stroke-width="0.7" opacity="0.34"/>
<line x1="337.8" y1="578.3" x2="342.8" y2="570.4" stroke="#d8705e" stroke-width="0.7" opacity="0.41"/>
<line x1="241.9" y1="582.6" x2="244.6" y2="578.1" stroke="#f6c0b0" stroke-width="0.7" opacity="0.64"/>
<line x1="322.6" y1="611.8" x2="324.6" y2="601.9" stroke="#f6c0b0" stroke-width="0.7" opacity="0.39"/>
<line x1="315.5" y1="621.6" x2="318.3" y2="617.3" stroke="#f6c0b0" stroke-width="0.7" opacity="0.62"/>
<line x1="282.3" y1="543.1" x2="288.5" y2="531.3" stroke="#f6c0b0" stroke-width="0.7" opacity="0.40"/>
<path d="M262.5,513.0 C262.9,514.5 264.2,518.8 264.7,522.0 C265.2,525.2 265.6,529.8 265.5,532.5 C265.4,535.2 264.2,537.5 264.0,538.5" fill="none" stroke="#f2eef0" stroke-width="1.4" stroke-linecap="round" stroke-linejoin="round" opacity="0.95"/>
<path d="M229.0,536.0 C229.2,538.2 229.4,545.1 230.2,549.0 C231.0,552.9 232.4,556.0 234.0,559.5 C235.6,563.0 239.0,568.2 240.0,570.0" fill="none" stroke="#e8e6ee" stroke-width="3.2" stroke-linecap="round" stroke-linejoin="round" opacity="0.95"/>
<path d="M273.0,538.5 C273.2,540.2 274.1,545.0 274.5,549.0 C274.9,553.0 275.1,560.2 275.2,562.5" fill="none" stroke="#f4eeee" stroke-width="1.3" stroke-linecap="round" stroke-linejoin="round" opacity="0.95"/>
<path d="M252.7,559.5 C252.6,561.8 252.1,570.8 252.0,573.0" fill="none" stroke="#f4eeee" stroke-width="1.2" stroke-linecap="round" stroke-linejoin="round" opacity="0.95"/>
<path d="M355.6,513.0 C355.9,515.0 356.8,521.2 357.2,525.3 C357.6,529.4 357.8,533.8 358.0,537.6 C358.2,541.5 358.8,545.3 358.7,548.4 C358.6,551.5 358.0,552.7 357.2,556.0 C356.4,559.3 354.6,566.2 354.1,568.3" fill="none" stroke="#e6e6ee" stroke-width="3.2" stroke-linecap="round" stroke-linejoin="round" opacity="0.95"/>
<path d="M366.4,522.3 C366.9,524.1 368.9,531.2 369.4,533.0" fill="none" stroke="#f4e6e0" stroke-width="1.2" stroke-linecap="round" stroke-linejoin="round" opacity="0.95"/>
<path d="M253.0,570.0 C252.5,573.0 251.2,579.9 250.0,587.7 C248.8,595.6 246.3,612.2 245.6,617.1" fill="none" stroke="#f0ecf0" stroke-width="2.0" stroke-linecap="round" stroke-linejoin="round" opacity="0.95"/>
<path d="M281.0,584.7 C279.5,587.2 274.3,596.0 272.1,599.5 C269.9,603.0 268.7,604.9 268.0,606.0" fill="none" stroke="#f6e2da" stroke-width="1.2" stroke-linecap="round" stroke-linejoin="round" opacity="0.95"/>
<path d="M278.0,617.1 C276.5,619.1 271.2,625.2 269.2,628.9 C267.2,632.5 266.7,637.3 266.2,639.0" fill="none" stroke="#f2ecee" stroke-width="1.8" stroke-linecap="round" stroke-linejoin="round" opacity="0.95"/>
<path d="M325.1,593.6 C324.1,595.1 321.0,599.0 319.3,602.4 C317.6,605.8 315.8,610.0 314.8,614.2 C313.8,618.4 313.6,625.2 313.4,627.4" fill="none" stroke="#e8d2a4" stroke-width="3.0" stroke-linecap="round" stroke-linejoin="round" opacity="0.95"/>
<path d="M372.3,587.7 C370.8,590.6 365.8,601.2 363.4,605.3 C361.0,609.3 358.9,610.9 358.0,612.0" fill="none" stroke="#f6e2da" stroke-width="1.0" stroke-linecap="round" stroke-linejoin="round" opacity="0.95"/>
<path d="M380.0,610.0 C378.7,612.5 374.5,620.8 372.0,625.0 C369.5,629.2 366.2,633.3 365.0,635.0" fill="none" stroke="#f6e2da" stroke-width="1.0" stroke-linecap="round" stroke-linejoin="round" opacity="0.95"/>
<path d="M308.0,556.0 C309.3,554.2 314.4,547.1 315.7,545.3" fill="none" stroke="#f6e2da" stroke-width="0.9" stroke-linecap="round" stroke-linejoin="round" opacity="0.95"/>
<path d="M283.5,532.5 C283.8,535.5 284.8,547.5 285.0,550.5" fill="none" stroke="#edd7a8" stroke-width="1.4" stroke-linecap="round" stroke-linejoin="round" opacity="0.95"/>
<path d="M237.0,520.0 C238.7,521.3 244.0,525.7 247.0,528.0 C250.0,530.3 253.7,533.0 255.0,534.0" fill="none" stroke="#f6e2da" stroke-width="0.9" stroke-linecap="round" stroke-linejoin="round" opacity="0.95"/>
<path d="M291.0,514.0 C291.8,516.1 294.0,522.7 295.5,526.5 C297.0,530.3 298.2,534.0 300.0,537.0 C301.8,540.0 305.0,543.2 306.0,544.5" fill="none" stroke="#b8304a" stroke-width="1.0" stroke-linecap="round" stroke-linejoin="round" opacity="0.75"/>
<path d="M360.2,513.8 C361.7,515.2 367.3,520.4 369.4,522.3 C371.4,524.2 371.1,523.8 372.5,525.3 C373.9,526.8 377.1,530.0 378.0,531.0" fill="none" stroke="#b8304a" stroke-width="1.0" stroke-linecap="round" stroke-linejoin="round" opacity="0.75"/>
<path d="M227.5,540.0 C227.8,542.0 228.1,548.3 229.0,552.0 C229.9,555.7 232.3,560.3 233.0,562.0" fill="none" stroke="#b8304a" stroke-width="1.0" stroke-linecap="round" stroke-linejoin="round" opacity="0.75"/>
<path d="M236.0,582.5 C236.5,582.8 238.5,583.8 239.0,584.0" fill="none" stroke="#b8304a" stroke-width="1.0" stroke-linecap="round" stroke-linejoin="round" opacity="0.75"/>
</g>
<text x="228.7" y="531.2" font-size="19.5" font-weight="bold" fill="#000" stroke="#000" stroke-width="0.9">h</text>
<clipPath id="clj"><rect x="395.3" y="512.1" width="170.2" height="126.29999999999995"/></clipPath>
<rect x="395.3" y="512.1" width="170.2" height="126.29999999999995" fill="#f2a886"/>
<g clip-path="url(#clj)">
<rect x="395.3" y="512.1" width="170.2" height="126.29999999999995" fill="#fff" filter="url(#tex)" opacity="0.45"/>
<rect x="395.3" y="512.1" width="170.2" height="126.29999999999995" fill="#fff" filter="url(#texD)" opacity="0.35"/>
<ellipse cx="501.7" cy="625.4" rx="6.1" ry="3.9" fill="#f3c493" opacity="0.35"/>
<ellipse cx="446.4" cy="622.4" rx="3.0" ry="6.3" fill="#f3c493" opacity="0.35"/>
<ellipse cx="531.0" cy="571.2" rx="4.2" ry="4.1" fill="#f3c493" opacity="0.35"/>
<ellipse cx="438.7" cy="568.3" rx="5.0" ry="5.2" fill="#f3c493" opacity="0.35"/>
<ellipse cx="564.7" cy="612.2" rx="5.5" ry="7.0" fill="#f3c493" opacity="0.35"/>
<ellipse cx="431.9" cy="532.3" rx="5.5" ry="3.2" fill="#f3c493" opacity="0.35"/>
<ellipse cx="401.4" cy="577.1" rx="4.9" ry="6.7" fill="#f3c493" opacity="0.35"/>
<ellipse cx="502.4" cy="577.0" rx="5.0" ry="4.0" fill="#f3c493" opacity="0.35"/>
<ellipse cx="397.3" cy="536.4" rx="5.8" ry="3.8" fill="#f3c493" opacity="0.35"/>
<ellipse cx="458.2" cy="512.6" rx="6.3" ry="3.6" fill="#f3c493" opacity="0.35"/>
<ellipse cx="440.8" cy="623.3" rx="5.0" ry="6.4" fill="#f3c493" opacity="0.35"/>
<ellipse cx="504.2" cy="605.8" rx="3.4" ry="5.2" fill="#f3c493" opacity="0.35"/>
<ellipse cx="481.7" cy="622.2" rx="4.4" ry="5.4" fill="#f3c493" opacity="0.35"/>
<ellipse cx="405.4" cy="561.1" rx="4.3" ry="3.6" fill="#f3c493" opacity="0.35"/>
<ellipse cx="534.2" cy="560.0" rx="6.9" ry="5.4" fill="#f3c493" opacity="0.35"/>
<ellipse cx="498.3" cy="592.7" rx="5.7" ry="3.6" fill="#f3c493" opacity="0.35"/>
<ellipse cx="470.2" cy="542.4" rx="4.6" ry="3.4" fill="#f3c493" opacity="0.35"/>
<ellipse cx="560.0" cy="539.3" rx="5.7" ry="4.2" fill="#f3c493" opacity="0.35"/>
<ellipse cx="544.1" cy="595.7" rx="3.5" ry="6.4" fill="#f3c493" opacity="0.35"/>
<ellipse cx="556.1" cy="626.3" rx="5.3" ry="3.6" fill="#f3c493" opacity="0.35"/>
<ellipse cx="428.1" cy="629.3" rx="5.2" ry="3.7" fill="#f3c493" opacity="0.35"/>
<ellipse cx="545.8" cy="593.1" rx="5.3" ry="4.5" fill="#f3c493" opacity="0.35"/>
<ellipse cx="465.2" cy="542.3" rx="3.2" ry="6.5" fill="#f3c493" opacity="0.35"/>
<ellipse cx="474.9" cy="581.3" rx="4.3" ry="6.0" fill="#f3c493" opacity="0.35"/>
<ellipse cx="399.6" cy="559.1" rx="3.1" ry="3.5" fill="#f3c493" opacity="0.35"/>
<ellipse cx="559.9" cy="595.2" rx="4.7" ry="5.1" fill="#f3c493" opacity="0.35"/>
<ellipse cx="543.9" cy="555.6" rx="5.4" ry="5.7" fill="#f3c493" opacity="0.35"/>
<ellipse cx="455.8" cy="577.7" rx="6.1" ry="6.6" fill="#f3c493" opacity="0.35"/>
<ellipse cx="421.0" cy="630.0" rx="3.0" ry="6.0" fill="#f3c493" opacity="0.35"/>
<ellipse cx="533.3" cy="529.4" rx="4.7" ry="6.3" fill="#f3c493" opacity="0.35"/>
<ellipse cx="397.7" cy="591.5" rx="6.2" ry="5.1" fill="#f3c493" opacity="0.35"/>
<ellipse cx="518.8" cy="540.7" rx="3.8" ry="4.5" fill="#f3c493" opacity="0.35"/>
<ellipse cx="425.8" cy="555.8" rx="6.8" ry="5.3" fill="#f3c493" opacity="0.35"/>
<ellipse cx="453.2" cy="546.4" rx="6.8" ry="4.8" fill="#f3c493" opacity="0.35"/>
<ellipse cx="562.2" cy="577.2" rx="5.1" ry="6.6" fill="#f3c493" opacity="0.35"/>
<ellipse cx="521.7" cy="585.4" rx="4.7" ry="6.5" fill="#f3c493" opacity="0.35"/>
<ellipse cx="465.4" cy="628.6" rx="3.3" ry="4.7" fill="#f3c493" opacity="0.35"/>
<ellipse cx="483.7" cy="632.2" rx="4.0" ry="6.2" fill="#f3c493" opacity="0.35"/>
<ellipse cx="510.4" cy="602.7" rx="5.5" ry="6.9" fill="#f3c493" opacity="0.35"/>
<ellipse cx="451.9" cy="562.4" rx="3.8" ry="3.2" fill="#f3c493" opacity="0.35"/>
<path d="M395.3,514.1 Q398.0,514.7 401.4,518.2" fill="none" stroke="#d42a5c" stroke-width="1.16" opacity="0.63" stroke-linecap="round"/>
<path d="M403.0,517.4 Q401.5,518.2 401.4,518.2" fill="none" stroke="#d42a5c" stroke-width="1.33" opacity="0.57" stroke-linecap="round"/>
<path d="M396.5,528.7 Q395.2,528.9 395.3,528.4" fill="none" stroke="#d42a5c" stroke-width="1.02" opacity="0.45" stroke-linecap="round"/>
<path d="M396.5,528.7 Q398.6,523.3 401.4,518.2" fill="none" stroke="#d42a5c" stroke-width="0.88" opacity="0.54" stroke-linecap="round"/>
<path d="M396.5,528.7 Q398.1,531.2 399.3,533.2" fill="none" stroke="#e9707a" stroke-width="0.8" opacity="0.45" stroke-linecap="round"/>
<path d="M413.0,523.2 Q410.8,528.9 406.5,535.2" fill="none" stroke="#fbe6e4" stroke-width="0.82" opacity="0.65" stroke-linecap="round"/>
<path d="M413.0,523.2 Q406.6,520.7 403.0,517.4" fill="none" stroke="#e9707a" stroke-width="0.8" opacity="0.45" stroke-linecap="round"/>
<path d="M459.1,512.1 Q458.9,513.9 460.0,512.8" fill="none" stroke="#e9707a" stroke-width="0.8" opacity="0.45" stroke-linecap="round"/>
<path d="M490.5,512.6 Q489.3,513.9 485.4,515.7" fill="none" stroke="#d42a5c" stroke-width="1.33" opacity="0.57" stroke-linecap="round"/>
<path d="M490.5,512.6 Q491.7,511.1 490.7,512.1" fill="none" stroke="#fbe6e4" stroke-width="1.14" opacity="0.65" stroke-linecap="round"/>
<path d="M474.5,513.0 Q476.0,514.0 474.7,512.1" fill="none" stroke="#fbe6e4" stroke-width="0.96" opacity="0.65" stroke-linecap="round"/>
<path d="M493.0,531.3 Q489.6,529.7 485.3,529.7" fill="none" stroke="#fbe6e4" stroke-width="0.68" opacity="0.65" stroke-linecap="round"/>
<path d="M493.0,531.3 Q495.3,526.6 498.4,519.3" fill="none" stroke="#e9707a" stroke-width="0.8" opacity="0.45" stroke-linecap="round"/>
<path d="M485.3,529.7 Q486.8,522.7 485.4,515.7" fill="none" stroke="#e9707a" stroke-width="0.8" opacity="0.45" stroke-linecap="round"/>
<path d="M498.4,519.3 Q494.7,517.4 490.5,512.6" fill="none" stroke="#d42a5c" stroke-width="1.40" opacity="0.61" stroke-linecap="round"/>
<path d="M507.7,512.2 Q507.2,512.1 507.6,512.1" fill="none" stroke="#d42a5c" stroke-width="1.23" opacity="0.60" stroke-linecap="round"/>
<path d="M472.0,514.7 Q467.3,512.7 464.9,512.1" fill="none" stroke="#e9707a" stroke-width="0.8" opacity="0.45" stroke-linecap="round"/>
<path d="M472.0,514.7 Q474.5,515.0 474.5,513.0" fill="none" stroke="#e9707a" stroke-width="0.8" opacity="0.45" stroke-linecap="round"/>
<path d="M493.0,531.3 Q493.7,530.4 493.4,531.7" fill="none" stroke="#e9707a" stroke-width="0.8" opacity="0.45" stroke-linecap="round"/>
<path d="M510.6,529.8 Q506.9,523.0 502.7,519.0" fill="none" stroke="#d42a5c" stroke-width="1.12" opacity="0.69" stroke-linecap="round"/>
<path d="M493.4,531.7 Q500.4,532.8 505.1,534.4" fill="none" stroke="#fbe6e4" stroke-width="1.19" opacity="0.65" stroke-linecap="round"/>
<path d="M508.4,532.7 Q506.5,534.6 505.1,534.4" fill="none" stroke="#e9707a" stroke-width="0.8" opacity="0.45" stroke-linecap="round"/>
<path d="M413.0,523.2 Q416.1,523.2 419.2,521.0" fill="none" stroke="#d42a5c" stroke-width="1.04" opacity="0.48" stroke-linecap="round"/>
<path d="M415.1,512.1 Q417.9,516.1 419.7,518.3" fill="none" stroke="#d42a5c" stroke-width="0.95" opacity="0.53" stroke-linecap="round"/>
<path d="M419.2,521.0 Q419.2,519.7 419.7,518.3" fill="none" stroke="#fbe6e4" stroke-width="0.93" opacity="0.65" stroke-linecap="round"/>
<path d="M419.7,518.3 Q422.3,514.3 427.8,512.1" fill="none" stroke="#fbe6e4" stroke-width="1.18" opacity="0.65" stroke-linecap="round"/>
<path d="M460.0,512.8 Q458.0,518.2 454.6,522.1" fill="none" stroke="#d42a5c" stroke-width="1.19" opacity="0.64" stroke-linecap="round"/>
<path d="M444.7,512.1 Q449.2,517.9 454.6,522.1" fill="none" stroke="#d42a5c" stroke-width="0.88" opacity="0.62" stroke-linecap="round"/>
<path d="M407.1,535.8 Q406.3,536.3 406.5,535.2" fill="none" stroke="#d42a5c" stroke-width="1.10" opacity="0.74" stroke-linecap="round"/>
<path d="M407.1,535.8 Q413.0,535.1 418.6,536.7" fill="none" stroke="#fbe6e4" stroke-width="1.02" opacity="0.65" stroke-linecap="round"/>
<path d="M421.4,523.9 Q420.0,530.9 420.4,535.6" fill="none" stroke="#d42a5c" stroke-width="1.23" opacity="0.70" stroke-linecap="round"/>
<path d="M418.6,536.7 Q420.6,536.5 420.4,535.6" fill="none" stroke="#e9707a" stroke-width="0.8" opacity="0.45" stroke-linecap="round"/>
<path d="M537.2,529.6 Q539.9,524.4 544.7,520.8" fill="none" stroke="#d42a5c" stroke-width="1.15" opacity="0.68" stroke-linecap="round"/>
<path d="M537.2,529.6 Q534.3,529.6 532.3,527.8" fill="none" stroke="#d42a5c" stroke-width="1.25" opacity="0.53" stroke-linecap="round"/>
<path d="M531.3,515.1 Q535.6,513.7 538.1,512.1" fill="none" stroke="#d42a5c" stroke-width="1.11" opacity="0.78" stroke-linecap="round"/>
<path d="M544.7,520.8 Q544.1,515.7 541.2,512.1" fill="none" stroke="#fbe6e4" stroke-width="0.67" opacity="0.65" stroke-linecap="round"/>
<path d="M563.7,512.1 Q561.5,513.3 559.0,515.0" fill="none" stroke="#d42a5c" stroke-width="0.82" opacity="0.77" stroke-linecap="round"/>
<path d="M554.2,512.1 Q558.0,512.4 559.0,515.0" fill="none" stroke="#fbe6e4" stroke-width="0.71" opacity="0.65" stroke-linecap="round"/>
<path d="M518.5,519.8 Q522.2,516.9 526.4,513.6" fill="none" stroke="#d42a5c" stroke-width="1.21" opacity="0.76" stroke-linecap="round"/>
<path d="M518.5,519.8 Q516.0,514.8 511.3,512.1" fill="none" stroke="#e9707a" stroke-width="0.8" opacity="0.45" stroke-linecap="round"/>
<path d="M511.3,512.1 Q512.0,513.4 511.3,512.1" fill="none" stroke="#d42a5c" stroke-width="0.91" opacity="0.71" stroke-linecap="round"/>
<path d="M525.9,512.1 Q526.5,514.3 526.4,513.6" fill="none" stroke="#fbe6e4" stroke-width="1.06" opacity="0.65" stroke-linecap="round"/>
<path d="M517.5,527.4 Q518.4,524.4 518.5,519.8" fill="none" stroke="#e9707a" stroke-width="0.8" opacity="0.45" stroke-linecap="round"/>
<path d="M531.3,515.1 Q530.3,514.2 526.4,513.6" fill="none" stroke="#fbe6e4" stroke-width="1.01" opacity="0.65" stroke-linecap="round"/>
<path d="M510.6,529.8 Q513.1,527.5 517.5,527.4" fill="none" stroke="#fbe6e4" stroke-width="0.94" opacity="0.65" stroke-linecap="round"/>
<path d="M507.7,512.2 Q510.8,511.4 511.3,512.1" fill="none" stroke="#d42a5c" stroke-width="0.82" opacity="0.66" stroke-linecap="round"/>
<path d="M420.4,535.6 Q423.2,537.9 428.1,537.4" fill="none" stroke="#e9707a" stroke-width="0.8" opacity="0.45" stroke-linecap="round"/>
<path d="M428.1,537.4 Q433.6,532.3 436.5,527.9" fill="none" stroke="#e9707a" stroke-width="0.8" opacity="0.45" stroke-linecap="round"/>
<path d="M443.7,512.1 Q441.0,520.6 438.0,527.9" fill="none" stroke="#d42a5c" stroke-width="1.19" opacity="0.55" stroke-linecap="round"/>
<path d="M454.6,522.1 Q454.4,522.9 454.6,522.8" fill="none" stroke="#fbe6e4" stroke-width="0.66" opacity="0.65" stroke-linecap="round"/>
<path d="M454.6,522.8 Q447.3,526.5 442.6,530.7" fill="none" stroke="#e9707a" stroke-width="0.8" opacity="0.45" stroke-linecap="round"/>
<path d="M442.6,530.7 Q440.6,528.2 438.0,527.9" fill="none" stroke="#fbe6e4" stroke-width="0.74" opacity="0.65" stroke-linecap="round"/>
<path d="M438.0,527.9 Q436.2,529.0 436.8,527.8" fill="none" stroke="#d42a5c" stroke-width="1.21" opacity="0.80" stroke-linecap="round"/>
<path d="M436.8,527.8 Q438.1,526.7 436.5,527.9" fill="none" stroke="#d42a5c" stroke-width="0.81" opacity="0.59" stroke-linecap="round"/>
<path d="M463.6,529.4 Q463.0,532.8 461.1,535.6" fill="none" stroke="#fbe6e4" stroke-width="1.12" opacity="0.65" stroke-linecap="round"/>
<path d="M463.6,529.4 Q466.6,529.2 470.0,527.3" fill="none" stroke="#e9707a" stroke-width="0.8" opacity="0.45" stroke-linecap="round"/>
<path d="M461.1,535.6 Q465.8,541.3 471.0,547.9" fill="none" stroke="#e9707a" stroke-width="0.8" opacity="0.45" stroke-linecap="round"/>
<path d="M470.0,527.3 Q474.9,531.3 478.7,532.9" fill="none" stroke="#d42a5c" stroke-width="1.18" opacity="0.55" stroke-linecap="round"/>
<path d="M471.0,547.9 Q474.0,542.7 478.4,537.7" fill="none" stroke="#e9707a" stroke-width="0.8" opacity="0.45" stroke-linecap="round"/>
<path d="M478.4,537.7 Q479.3,535.1 478.7,532.9" fill="none" stroke="#e9707a" stroke-width="0.8" opacity="0.45" stroke-linecap="round"/>
<path d="M454.6,522.8 Q460.4,527.4 463.6,529.4" fill="none" stroke="#e9707a" stroke-width="0.8" opacity="0.45" stroke-linecap="round"/>
<path d="M453.4,540.5 Q455.9,539.6 461.1,535.6" fill="none" stroke="#d42a5c" stroke-width="1.36" opacity="0.59" stroke-linecap="round"/>
<path d="M453.4,540.5 Q447.2,537.4 443.4,532.8" fill="none" stroke="#d42a5c" stroke-width="0.93" opacity="0.78" stroke-linecap="round"/>
<path d="M472.0,514.7 Q470.0,520.0 470.0,527.3" fill="none" stroke="#e9707a" stroke-width="0.8" opacity="0.45" stroke-linecap="round"/>
<path d="M395.3,561.8 Q398.5,561.0 401.0,559.4" fill="none" stroke="#fbe6e4" stroke-width="0.70" opacity="0.65" stroke-linecap="round"/>
<path d="M406.7,574.7 Q407.9,575.6 406.5,575.0" fill="none" stroke="#fbe6e4" stroke-width="0.75" opacity="0.65" stroke-linecap="round"/>
<path d="M407.1,535.8 Q408.2,541.8 408.0,550.5" fill="none" stroke="#fbe6e4" stroke-width="0.84" opacity="0.65" stroke-linecap="round"/>
<path d="M408.0,550.5 Q406.1,552.8 404.0,554.7" fill="none" stroke="#fbe6e4" stroke-width="0.85" opacity="0.65" stroke-linecap="round"/>
<path d="M401.0,559.4 Q401.8,558.5 404.0,555.0" fill="none" stroke="#e9707a" stroke-width="0.8" opacity="0.45" stroke-linecap="round"/>
<path d="M404.0,555.0 Q404.7,555.5 404.0,554.7" fill="none" stroke="#d42a5c" stroke-width="0.80" opacity="0.58" stroke-linecap="round"/>
<path d="M556.5,520.6 Q560.5,526.0 563.6,529.7" fill="none" stroke="#e9707a" stroke-width="0.8" opacity="0.45" stroke-linecap="round"/>
<path d="M551.1,522.9 Q551.2,528.5 550.5,535.4" fill="none" stroke="#e9707a" stroke-width="0.8" opacity="0.45" stroke-linecap="round"/>
<path d="M563.6,529.7 Q562.1,533.2 561.8,534.2" fill="none" stroke="#fbe6e4" stroke-width="0.99" opacity="0.65" stroke-linecap="round"/>
<path d="M561.8,534.2 Q558.9,536.1 553.5,537.5" fill="none" stroke="#d42a5c" stroke-width="1.27" opacity="0.75" stroke-linecap="round"/>
<path d="M553.5,537.5 Q553.2,536.8 550.5,535.4" fill="none" stroke="#e9707a" stroke-width="0.8" opacity="0.45" stroke-linecap="round"/>
<path d="M544.7,520.8 Q547.2,521.3 551.1,522.9" fill="none" stroke="#d42a5c" stroke-width="0.88" opacity="0.82" stroke-linecap="round"/>
<path d="M559.0,515.0 Q558.5,517.7 556.5,520.6" fill="none" stroke="#d42a5c" stroke-width="0.82" opacity="0.64" stroke-linecap="round"/>
<path d="M537.2,529.6 Q538.5,533.8 540.2,535.3" fill="none" stroke="#fbe6e4" stroke-width="1.10" opacity="0.65" stroke-linecap="round"/>
<path d="M540.2,535.3 Q545.1,534.1 550.5,535.4" fill="none" stroke="#e9707a" stroke-width="0.8" opacity="0.45" stroke-linecap="round"/>
<path d="M563.7,512.1 Q564.3,512.1 565.5,513.2" fill="none" stroke="#d42a5c" stroke-width="0.96" opacity="0.71" stroke-linecap="round"/>
<path d="M521.5,638.4 Q521.2,636.3 519.3,635.5" fill="none" stroke="#d42a5c" stroke-width="1.09" opacity="0.63" stroke-linecap="round"/>
<path d="M509.3,638.4 Q508.9,636.0 508.7,633.6" fill="none" stroke="#e9707a" stroke-width="0.8" opacity="0.45" stroke-linecap="round"/>
<path d="M565.5,538.4 Q563.9,537.7 561.8,534.2" fill="none" stroke="#d42a5c" stroke-width="1.18" opacity="0.50" stroke-linecap="round"/>
<path d="M563.6,529.7 Q564.8,529.7 565.5,529.0" fill="none" stroke="#fbe6e4" stroke-width="0.66" opacity="0.65" stroke-linecap="round"/>
<path d="M395.9,631.0 Q395.8,632.6 395.3,634.7" fill="none" stroke="#e9707a" stroke-width="0.8" opacity="0.45" stroke-linecap="round"/>
<path d="M395.3,634.7 Q395.8,634.9 395.3,634.7" fill="none" stroke="#fbe6e4" stroke-width="1.18" opacity="0.65" stroke-linecap="round"/>
<path d="M413.9,607.2 Q408.8,602.0 404.5,597.6" fill="none" stroke="#fbe6e4" stroke-width="0.70" opacity="0.65" stroke-linecap="round"/>
<path d="M413.9,607.2 Q411.5,610.7 408.1,616.9" fill="none" stroke="#e9707a" stroke-width="0.8" opacity="0.45" stroke-linecap="round"/>
<path d="M408.1,616.9 Q408.4,616.6 407.8,617.1" fill="none" stroke="#d42a5c" stroke-width="1.16" opacity="0.56" stroke-linecap="round"/>
<path d="M407.8,617.1 Q402.8,613.9 395.9,610.9" fill="none" stroke="#e9707a" stroke-width="0.8" opacity="0.45" stroke-linecap="round"/>
<path d="M404.5,597.6 Q400.0,601.7 396.0,608.6" fill="none" stroke="#e9707a" stroke-width="0.8" opacity="0.45" stroke-linecap="round"/>
<path d="M396.0,608.6 Q397.3,609.1 395.7,610.5" fill="none" stroke="#d42a5c" stroke-width="1.07" opacity="0.82" stroke-linecap="round"/>
<path d="M395.7,610.5 Q396.2,609.6 395.9,610.9" fill="none" stroke="#fbe6e4" stroke-width="1.09" opacity="0.65" stroke-linecap="round"/>
<path d="M428.9,611.0 Q428.3,612.2 427.0,615.2" fill="none" stroke="#fbe6e4" stroke-width="1.13" opacity="0.65" stroke-linecap="round"/>
<path d="M428.9,611.0 Q423.0,609.3 418.8,605.6" fill="none" stroke="#e9707a" stroke-width="0.8" opacity="0.45" stroke-linecap="round"/>
<path d="M418.8,605.6 Q416.6,605.5 413.9,607.2" fill="none" stroke="#d42a5c" stroke-width="1.09" opacity="0.49" stroke-linecap="round"/>
<path d="M427.0,615.2 Q423.9,618.1 420.5,620.3" fill="none" stroke="#d42a5c" stroke-width="0.99" opacity="0.62" stroke-linecap="round"/>
<path d="M420.5,620.3 Q415.8,619.6 408.1,616.9" fill="none" stroke="#d42a5c" stroke-width="1.30" opacity="0.57" stroke-linecap="round"/>
<path d="M406.1,626.8 Q407.6,622.5 407.8,617.1" fill="none" stroke="#d42a5c" stroke-width="1.01" opacity="0.58" stroke-linecap="round"/>
<path d="M406.1,626.8 Q409.6,629.8 414.5,635.5" fill="none" stroke="#e9707a" stroke-width="0.8" opacity="0.45" stroke-linecap="round"/>
<path d="M414.5,635.5 Q417.4,633.2 420.9,631.4" fill="none" stroke="#fbe6e4" stroke-width="0.87" opacity="0.65" stroke-linecap="round"/>
<path d="M395.3,613.5 Q396.6,612.1 395.9,610.9" fill="none" stroke="#d42a5c" stroke-width="1.00" opacity="0.73" stroke-linecap="round"/>
<path d="M395.3,610.6 Q396.6,609.7 395.7,610.5" fill="none" stroke="#d42a5c" stroke-width="1.00" opacity="0.67" stroke-linecap="round"/>
<path d="M395.3,607.4 Q394.5,609.2 396.0,608.6" fill="none" stroke="#e9707a" stroke-width="0.8" opacity="0.45" stroke-linecap="round"/>
<path d="M428.1,537.4 Q428.4,540.1 430.2,544.1" fill="none" stroke="#e9707a" stroke-width="0.8" opacity="0.45" stroke-linecap="round"/>
<path d="M443.4,532.8 Q439.6,538.7 437.9,545.3" fill="none" stroke="#fbe6e4" stroke-width="0.77" opacity="0.65" stroke-linecap="round"/>
<path d="M437.9,545.3 Q434.4,545.1 430.2,544.1" fill="none" stroke="#e9707a" stroke-width="0.8" opacity="0.45" stroke-linecap="round"/>
<path d="M453.4,540.5 Q452.8,545.7 453.0,550.3" fill="none" stroke="#d42a5c" stroke-width="0.82" opacity="0.58" stroke-linecap="round"/>
<path d="M453.0,550.3 Q453.1,549.8 452.8,550.4" fill="none" stroke="#fbe6e4" stroke-width="0.79" opacity="0.65" stroke-linecap="round"/>
<path d="M437.9,545.3 Q438.9,546.8 440.0,548.6" fill="none" stroke="#fbe6e4" stroke-width="1.01" opacity="0.65" stroke-linecap="round"/>
<path d="M406.5,575.0 Q407.5,576.1 408.3,579.4" fill="none" stroke="#fbe6e4" stroke-width="0.67" opacity="0.65" stroke-linecap="round"/>
<path d="M395.3,589.2 Q398.6,590.4 403.2,592.1" fill="none" stroke="#fbe6e4" stroke-width="0.85" opacity="0.65" stroke-linecap="round"/>
<path d="M408.3,579.4 Q405.2,587.0 403.2,592.1" fill="none" stroke="#d42a5c" stroke-width="1.40" opacity="0.56" stroke-linecap="round"/>
<path d="M404.5,597.6 Q405.8,596.5 404.9,594.7" fill="none" stroke="#e9707a" stroke-width="0.8" opacity="0.45" stroke-linecap="round"/>
<path d="M403.2,592.1 Q403.1,594.5 404.9,594.7" fill="none" stroke="#e9707a" stroke-width="0.8" opacity="0.45" stroke-linecap="round"/>
<path d="M418.8,605.6 Q419.1,600.3 419.2,592.7" fill="none" stroke="#e9707a" stroke-width="0.8" opacity="0.45" stroke-linecap="round"/>
<path d="M404.9,594.7 Q411.0,592.7 419.2,592.7" fill="none" stroke="#fbe6e4" stroke-width="0.71" opacity="0.65" stroke-linecap="round"/>
<path d="M428.9,611.0 Q429.5,610.3 431.8,609.5" fill="none" stroke="#fbe6e4" stroke-width="0.99" opacity="0.65" stroke-linecap="round"/>
<path d="M431.8,609.5 Q433.3,607.8 433.3,607.6" fill="none" stroke="#d42a5c" stroke-width="0.87" opacity="0.68" stroke-linecap="round"/>
<path d="M433.3,607.6 Q432.9,599.9 430.6,592.0" fill="none" stroke="#d42a5c" stroke-width="1.27" opacity="0.80" stroke-linecap="round"/>
<path d="M419.2,592.7 Q419.8,591.2 422.0,590.0" fill="none" stroke="#d42a5c" stroke-width="1.21" opacity="0.83" stroke-linecap="round"/>
<path d="M422.0,590.0 Q420.2,585.9 420.3,584.4" fill="none" stroke="#d42a5c" stroke-width="1.06" opacity="0.81" stroke-linecap="round"/>
<path d="M445.5,605.3 Q440.5,605.8 433.3,607.6" fill="none" stroke="#fbe6e4" stroke-width="1.04" opacity="0.65" stroke-linecap="round"/>
<path d="M445.5,605.3 Q445.8,599.0 446.6,594.7" fill="none" stroke="#d42a5c" stroke-width="1.35" opacity="0.55" stroke-linecap="round"/>
<path d="M493.4,531.7 Q492.4,538.5 492.2,546.9" fill="none" stroke="#d42a5c" stroke-width="1.22" opacity="0.67" stroke-linecap="round"/>
<path d="M497.2,549.5 Q494.7,546.9 492.2,546.9" fill="none" stroke="#fbe6e4" stroke-width="0.78" opacity="0.65" stroke-linecap="round"/>
<path d="M478.4,537.7 Q483.9,541.5 489.4,547.2" fill="none" stroke="#e9707a" stroke-width="0.8" opacity="0.45" stroke-linecap="round"/>
<path d="M565.5,632.6 Q565.2,635.3 565.3,635.8" fill="none" stroke="#fbe6e4" stroke-width="1.03" opacity="0.65" stroke-linecap="round"/>
<path d="M565.5,622.5 Q561.1,621.1 555.0,620.4" fill="none" stroke="#e9707a" stroke-width="0.8" opacity="0.45" stroke-linecap="round"/>
<path d="M555.0,620.4 Q555.8,626.9 557.1,636.3" fill="none" stroke="#fbe6e4" stroke-width="1.13" opacity="0.65" stroke-linecap="round"/>
<path d="M565.5,636.0 Q565.0,637.1 565.3,635.8" fill="none" stroke="#e9707a" stroke-width="0.8" opacity="0.45" stroke-linecap="round"/>
<path d="M554.5,638.4 Q555.3,638.1 554.6,637.8" fill="none" stroke="#e9707a" stroke-width="0.8" opacity="0.45" stroke-linecap="round"/>
<path d="M554.6,637.8 Q554.5,636.9 557.1,636.3" fill="none" stroke="#e9707a" stroke-width="0.8" opacity="0.45" stroke-linecap="round"/>
<path d="M554.6,637.8 Q549.2,635.9 545.8,634.3" fill="none" stroke="#fbe6e4" stroke-width="1.05" opacity="0.65" stroke-linecap="round"/>
<path d="M545.8,634.3 Q541.6,636.1 539.7,638.4" fill="none" stroke="#d42a5c" stroke-width="0.97" opacity="0.69" stroke-linecap="round"/>
<path d="M531.9,638.4 Q534.1,637.5 533.8,637.3" fill="none" stroke="#fbe6e4" stroke-width="0.86" opacity="0.65" stroke-linecap="round"/>
<path d="M538.5,638.4 Q535.8,639.1 533.8,637.3" fill="none" stroke="#fbe6e4" stroke-width="0.62" opacity="0.65" stroke-linecap="round"/>
<path d="M519.3,635.5 Q523.2,629.5 525.0,624.2" fill="none" stroke="#fbe6e4" stroke-width="0.99" opacity="0.65" stroke-linecap="round"/>
<path d="M531.4,622.2 Q532.7,630.8 533.8,637.3" fill="none" stroke="#fbe6e4" stroke-width="1.14" opacity="0.65" stroke-linecap="round"/>
<path d="M531.4,622.2 Q529.6,621.3 530.4,621.8" fill="none" stroke="#fbe6e4" stroke-width="0.78" opacity="0.65" stroke-linecap="round"/>
<path d="M530.4,621.8 Q526.4,622.4 525.0,624.2" fill="none" stroke="#e9707a" stroke-width="0.8" opacity="0.45" stroke-linecap="round"/>
<path d="M540.2,535.3 Q537.8,538.5 536.6,544.0" fill="none" stroke="#fbe6e4" stroke-width="1.13" opacity="0.65" stroke-linecap="round"/>
<path d="M523.1,530.8 Q524.3,534.2 524.3,540.3" fill="none" stroke="#fbe6e4" stroke-width="0.67" opacity="0.65" stroke-linecap="round"/>
<path d="M536.6,544.0 Q529.1,541.1 524.3,540.3" fill="none" stroke="#e9707a" stroke-width="0.8" opacity="0.45" stroke-linecap="round"/>
<path d="M395.3,634.7 Q397.9,635.8 400.0,638.4" fill="none" stroke="#d42a5c" stroke-width="1.30" opacity="0.49" stroke-linecap="round"/>
<path d="M453.0,550.3 Q456.6,551.6 457.9,552.6" fill="none" stroke="#e9707a" stroke-width="0.8" opacity="0.45" stroke-linecap="round"/>
<path d="M457.9,552.6 Q458.1,558.8 459.2,568.0" fill="none" stroke="#d42a5c" stroke-width="1.04" opacity="0.47" stroke-linecap="round"/>
<path d="M459.2,568.0 Q457.0,569.7 452.4,571.1" fill="none" stroke="#e9707a" stroke-width="0.8" opacity="0.45" stroke-linecap="round"/>
<path d="M440.0,548.6 Q436.8,554.7 434.4,561.3" fill="none" stroke="#d42a5c" stroke-width="1.15" opacity="0.60" stroke-linecap="round"/>
<path d="M446.5,561.6 Q441.5,561.7 434.4,561.3" fill="none" stroke="#e9707a" stroke-width="0.8" opacity="0.45" stroke-linecap="round"/>
<path d="M434.4,561.3 Q435.1,562.0 434.3,561.3" fill="none" stroke="#d42a5c" stroke-width="1.11" opacity="0.58" stroke-linecap="round"/>
<path d="M425.7,549.3 Q429.5,555.4 434.3,561.3" fill="none" stroke="#e9707a" stroke-width="0.8" opacity="0.45" stroke-linecap="round"/>
<path d="M418.6,536.7 Q419.6,544.2 419.5,549.8" fill="none" stroke="#fbe6e4" stroke-width="0.70" opacity="0.65" stroke-linecap="round"/>
<path d="M425.7,549.3 Q423.2,549.4 419.5,549.8" fill="none" stroke="#e9707a" stroke-width="0.8" opacity="0.45" stroke-linecap="round"/>
<path d="M408.0,550.5 Q414.5,549.9 419.1,550.1" fill="none" stroke="#e9707a" stroke-width="0.8" opacity="0.45" stroke-linecap="round"/>
<path d="M419.5,549.8 Q417.9,548.7 419.1,550.1" fill="none" stroke="#d42a5c" stroke-width="1.09" opacity="0.83" stroke-linecap="round"/>
<path d="M471.0,547.9 Q472.3,547.3 470.9,549.0" fill="none" stroke="#fbe6e4" stroke-width="0.71" opacity="0.65" stroke-linecap="round"/>
<path d="M489.4,547.2 Q484.5,552.1 481.1,555.3" fill="none" stroke="#fbe6e4" stroke-width="1.03" opacity="0.65" stroke-linecap="round"/>
<path d="M481.1,555.3 Q474.5,552.6 470.9,549.0" fill="none" stroke="#e9707a" stroke-width="0.8" opacity="0.45" stroke-linecap="round"/>
<path d="M457.9,552.6 Q463.5,552.7 467.7,551.4" fill="none" stroke="#d42a5c" stroke-width="1.26" opacity="0.69" stroke-linecap="round"/>
<path d="M470.9,549.0 Q469.1,549.8 467.7,551.4" fill="none" stroke="#fbe6e4" stroke-width="1.13" opacity="0.65" stroke-linecap="round"/>
<path d="M555.0,620.4 Q553.1,619.8 553.4,619.0" fill="none" stroke="#fbe6e4" stroke-width="1.08" opacity="0.65" stroke-linecap="round"/>
<path d="M545.8,634.3 Q544.6,630.0 544.1,623.3" fill="none" stroke="#e9707a" stroke-width="0.8" opacity="0.45" stroke-linecap="round"/>
<path d="M553.4,619.0 Q549.2,621.8 544.1,623.3" fill="none" stroke="#d42a5c" stroke-width="1.16" opacity="0.78" stroke-linecap="round"/>
<path d="M544.1,623.3 Q541.9,623.7 538.3,621.1" fill="none" stroke="#d42a5c" stroke-width="1.02" opacity="0.80" stroke-linecap="round"/>
<path d="M508.7,633.6 Q508.1,634.8 507.9,633.0" fill="none" stroke="#e9707a" stroke-width="0.8" opacity="0.45" stroke-linecap="round"/>
<path d="M525.0,624.2 Q519.4,621.5 514.1,620.6" fill="none" stroke="#e9707a" stroke-width="0.8" opacity="0.45" stroke-linecap="round"/>
<path d="M492.2,605.1 Q486.2,608.1 479.7,609.1" fill="none" stroke="#e9707a" stroke-width="0.8" opacity="0.45" stroke-linecap="round"/>
<path d="M492.2,605.1 Q497.9,609.4 501.4,613.7" fill="none" stroke="#d42a5c" stroke-width="0.86" opacity="0.74" stroke-linecap="round"/>
<path d="M479.7,609.1 Q486.7,615.4 491.3,622.7" fill="none" stroke="#e9707a" stroke-width="0.8" opacity="0.45" stroke-linecap="round"/>
<path d="M491.3,622.7 Q496.3,622.3 498.3,619.8" fill="none" stroke="#e9707a" stroke-width="0.8" opacity="0.45" stroke-linecap="round"/>
<path d="M501.4,613.7 Q499.4,615.5 498.3,619.8" fill="none" stroke="#fbe6e4" stroke-width="0.62" opacity="0.65" stroke-linecap="round"/>
<path d="M565.5,611.5 Q562.7,610.2 560.7,608.4" fill="none" stroke="#e9707a" stroke-width="0.8" opacity="0.45" stroke-linecap="round"/>
<path d="M565.5,600.2 Q563.8,604.5 560.7,608.4" fill="none" stroke="#fbe6e4" stroke-width="1.17" opacity="0.65" stroke-linecap="round"/>
<path d="M536.6,544.0 Q536.5,545.2 537.7,547.7" fill="none" stroke="#e9707a" stroke-width="0.8" opacity="0.45" stroke-linecap="round"/>
<path d="M524.3,540.3 Q521.3,541.8 520.5,544.9" fill="none" stroke="#fbe6e4" stroke-width="0.85" opacity="0.65" stroke-linecap="round"/>
<path d="M537.7,547.7 Q534.9,551.9 531.8,556.3" fill="none" stroke="#fbe6e4" stroke-width="0.79" opacity="0.65" stroke-linecap="round"/>
<path d="M526.9,556.6 Q525.2,549.4 520.5,544.9" fill="none" stroke="#d42a5c" stroke-width="1.22" opacity="0.75" stroke-linecap="round"/>
<path d="M508.4,532.7 Q511.1,539.9 516.0,545.6" fill="none" stroke="#fbe6e4" stroke-width="0.90" opacity="0.65" stroke-linecap="round"/>
<path d="M501.8,548.7 Q504.3,549.2 506.4,551.2" fill="none" stroke="#fbe6e4" stroke-width="0.78" opacity="0.65" stroke-linecap="round"/>
<path d="M506.4,551.2 Q508.1,552.1 510.8,550.6" fill="none" stroke="#d42a5c" stroke-width="1.10" opacity="0.61" stroke-linecap="round"/>
<path d="M510.8,550.6 Q512.2,547.9 516.0,545.6" fill="none" stroke="#fbe6e4" stroke-width="0.86" opacity="0.65" stroke-linecap="round"/>
<path d="M516.0,545.6 Q517.0,546.5 520.5,544.9" fill="none" stroke="#e9707a" stroke-width="0.8" opacity="0.45" stroke-linecap="round"/>
<path d="M514.1,620.6 Q512.8,618.5 512.2,616.1" fill="none" stroke="#d42a5c" stroke-width="1.33" opacity="0.69" stroke-linecap="round"/>
<path d="M506.6,632.9 Q503.3,625.7 498.3,619.8" fill="none" stroke="#e9707a" stroke-width="0.8" opacity="0.45" stroke-linecap="round"/>
<path d="M501.4,613.7 Q500.4,612.4 502.4,613.4" fill="none" stroke="#e9707a" stroke-width="0.8" opacity="0.45" stroke-linecap="round"/>
<path d="M502.4,613.4 Q506.3,614.2 512.2,616.1" fill="none" stroke="#d42a5c" stroke-width="1.32" opacity="0.52" stroke-linecap="round"/>
<path d="M495.3,595.4 Q497.6,593.9 501.4,593.0" fill="none" stroke="#e9707a" stroke-width="0.8" opacity="0.45" stroke-linecap="round"/>
<path d="M495.3,595.4 Q493.8,600.3 492.2,605.1" fill="none" stroke="#d42a5c" stroke-width="1.37" opacity="0.61" stroke-linecap="round"/>
<path d="M508.5,600.6 Q506.7,605.6 502.4,613.4" fill="none" stroke="#e9707a" stroke-width="0.8" opacity="0.45" stroke-linecap="round"/>
<path d="M488.9,626.9 Q483.9,627.6 480.3,630.5" fill="none" stroke="#e9707a" stroke-width="0.8" opacity="0.45" stroke-linecap="round"/>
<path d="M488.9,626.9 Q494.7,633.8 497.7,638.1" fill="none" stroke="#e9707a" stroke-width="0.8" opacity="0.45" stroke-linecap="round"/>
<path d="M480.3,630.5 Q480.5,633.5 480.6,638.4" fill="none" stroke="#fbe6e4" stroke-width="0.63" opacity="0.65" stroke-linecap="round"/>
<path d="M497.6,638.4 Q496.3,638.5 497.7,638.1" fill="none" stroke="#d42a5c" stroke-width="1.05" opacity="0.64" stroke-linecap="round"/>
<path d="M479.0,609.1 Q479.6,608.1 479.7,609.1" fill="none" stroke="#e9707a" stroke-width="0.8" opacity="0.45" stroke-linecap="round"/>
<path d="M479.0,609.1 Q477.5,619.9 477.4,628.3" fill="none" stroke="#fbe6e4" stroke-width="0.72" opacity="0.65" stroke-linecap="round"/>
<path d="M477.4,628.3 Q479.5,629.9 480.3,630.5" fill="none" stroke="#fbe6e4" stroke-width="0.71" opacity="0.65" stroke-linecap="round"/>
<path d="M491.3,622.7 Q489.6,625.9 488.9,626.9" fill="none" stroke="#e9707a" stroke-width="0.8" opacity="0.45" stroke-linecap="round"/>
<path d="M506.6,632.9 Q501.8,635.3 497.7,638.1" fill="none" stroke="#fbe6e4" stroke-width="0.99" opacity="0.65" stroke-linecap="round"/>
<path d="M460.0,638.4 Q462.4,636.4 463.3,634.4" fill="none" stroke="#e9707a" stroke-width="0.8" opacity="0.45" stroke-linecap="round"/>
<path d="M463.3,634.4 Q466.6,637.6 468.0,638.4" fill="none" stroke="#e9707a" stroke-width="0.8" opacity="0.45" stroke-linecap="round"/>
<path d="M446.1,637.1 Q445.3,637.2 444.6,638.4" fill="none" stroke="#fbe6e4" stroke-width="0.81" opacity="0.65" stroke-linecap="round"/>
<path d="M446.1,637.1 Q446.8,631.4 445.8,625.5" fill="none" stroke="#fbe6e4" stroke-width="1.10" opacity="0.65" stroke-linecap="round"/>
<path d="M445.1,625.3 Q446.3,625.5 445.8,625.5" fill="none" stroke="#e9707a" stroke-width="0.8" opacity="0.45" stroke-linecap="round"/>
<path d="M429.2,632.9 Q430.0,630.7 433.5,627.9" fill="none" stroke="#fbe6e4" stroke-width="0.97" opacity="0.65" stroke-linecap="round"/>
<path d="M429.2,632.9 Q429.9,634.4 431.6,638.4" fill="none" stroke="#fbe6e4" stroke-width="0.97" opacity="0.65" stroke-linecap="round"/>
<path d="M448.6,638.4 Q448.1,638.6 446.1,637.1" fill="none" stroke="#fbe6e4" stroke-width="0.78" opacity="0.65" stroke-linecap="round"/>
<path d="M431.8,609.5 Q439.5,617.6 445.1,625.3" fill="none" stroke="#fbe6e4" stroke-width="0.67" opacity="0.65" stroke-linecap="round"/>
<path d="M420.9,631.4 Q424.0,633.4 429.2,632.9" fill="none" stroke="#d42a5c" stroke-width="0.99" opacity="0.67" stroke-linecap="round"/>
<path d="M445.5,605.3 Q445.2,605.5 446.2,605.8" fill="none" stroke="#e9707a" stroke-width="0.8" opacity="0.45" stroke-linecap="round"/>
<path d="M449.5,623.2 Q447.0,614.2 446.2,605.8" fill="none" stroke="#d42a5c" stroke-width="1.00" opacity="0.69" stroke-linecap="round"/>
<path d="M451.9,572.2 Q446.3,576.2 443.4,577.6" fill="none" stroke="#d42a5c" stroke-width="1.20" opacity="0.74" stroke-linecap="round"/>
<path d="M443.4,577.6 Q448.3,583.3 450.9,590.9" fill="none" stroke="#e9707a" stroke-width="0.8" opacity="0.45" stroke-linecap="round"/>
<path d="M459.7,584.4 Q456.0,588.2 451.9,590.9" fill="none" stroke="#e9707a" stroke-width="0.8" opacity="0.45" stroke-linecap="round"/>
<path d="M452.4,571.1 Q452.4,571.2 451.9,572.2" fill="none" stroke="#fbe6e4" stroke-width="0.65" opacity="0.65" stroke-linecap="round"/>
<path d="M443.3,577.6 Q444.3,577.8 443.4,577.6" fill="none" stroke="#e9707a" stroke-width="0.8" opacity="0.45" stroke-linecap="round"/>
<path d="M433.6,562.5 Q433.1,562.5 434.3,561.3" fill="none" stroke="#d42a5c" stroke-width="1.32" opacity="0.77" stroke-linecap="round"/>
<path d="M437.3,581.1 Q436.6,584.9 433.4,590.2" fill="none" stroke="#d42a5c" stroke-width="1.36" opacity="0.56" stroke-linecap="round"/>
<path d="M446.6,594.7 Q448.5,594.2 450.9,590.9" fill="none" stroke="#d42a5c" stroke-width="0.95" opacity="0.82" stroke-linecap="round"/>
<path d="M461.6,600.6 Q457.2,604.6 455.5,606.0" fill="none" stroke="#fbe6e4" stroke-width="0.71" opacity="0.65" stroke-linecap="round"/>
<path d="M461.6,600.6 Q457.5,596.3 451.9,590.9" fill="none" stroke="#d42a5c" stroke-width="1.35" opacity="0.82" stroke-linecap="round"/>
<path d="M446.2,605.8 Q451.8,606.1 455.5,606.0" fill="none" stroke="#fbe6e4" stroke-width="1.16" opacity="0.65" stroke-linecap="round"/>
<path d="M420.5,562.3 Q426.4,562.3 430.8,564.1" fill="none" stroke="#d42a5c" stroke-width="1.28" opacity="0.69" stroke-linecap="round"/>
<path d="M420.5,562.3 Q418.0,564.0 416.2,565.0" fill="none" stroke="#fbe6e4" stroke-width="1.17" opacity="0.65" stroke-linecap="round"/>
<path d="M415.1,569.1 Q419.6,573.3 423.5,576.5" fill="none" stroke="#e9707a" stroke-width="0.8" opacity="0.45" stroke-linecap="round"/>
<path d="M415.1,569.1 Q414.9,566.1 416.2,565.0" fill="none" stroke="#d42a5c" stroke-width="1.18" opacity="0.68" stroke-linecap="round"/>
<path d="M430.8,564.1 Q427.7,570.4 427.2,574.5" fill="none" stroke="#e9707a" stroke-width="0.8" opacity="0.45" stroke-linecap="round"/>
<path d="M427.2,574.5 Q424.5,574.6 423.5,576.5" fill="none" stroke="#fbe6e4" stroke-width="1.03" opacity="0.65" stroke-linecap="round"/>
<path d="M419.1,550.1 Q418.9,555.1 420.5,562.3" fill="none" stroke="#d42a5c" stroke-width="1.29" opacity="0.59" stroke-linecap="round"/>
<path d="M433.6,562.5 Q431.8,564.3 430.8,564.1" fill="none" stroke="#e9707a" stroke-width="0.8" opacity="0.45" stroke-linecap="round"/>
<path d="M404.0,555.0 Q411.1,559.3 416.2,565.0" fill="none" stroke="#fbe6e4" stroke-width="1.17" opacity="0.65" stroke-linecap="round"/>
<path d="M406.7,574.7 Q411.0,572.1 415.1,569.1" fill="none" stroke="#fbe6e4" stroke-width="1.10" opacity="0.65" stroke-linecap="round"/>
<path d="M420.3,584.4 Q420.7,579.1 423.5,576.5" fill="none" stroke="#fbe6e4" stroke-width="0.86" opacity="0.65" stroke-linecap="round"/>
<path d="M459.2,568.0 Q463.1,568.8 468.2,569.5" fill="none" stroke="#d42a5c" stroke-width="1.35" opacity="0.72" stroke-linecap="round"/>
<path d="M468.2,569.5 Q467.2,577.2 464.7,584.6" fill="none" stroke="#d42a5c" stroke-width="0.92" opacity="0.51" stroke-linecap="round"/>
<path d="M467.7,551.4 Q467.4,561.0 469.5,568.9" fill="none" stroke="#fbe6e4" stroke-width="1.15" opacity="0.65" stroke-linecap="round"/>
<path d="M468.2,569.5 Q468.3,569.1 469.5,568.9" fill="none" stroke="#e9707a" stroke-width="0.8" opacity="0.45" stroke-linecap="round"/>
<path d="M461.6,600.6 Q461.6,599.3 464.2,600.4" fill="none" stroke="#d42a5c" stroke-width="1.40" opacity="0.81" stroke-linecap="round"/>
<path d="M464.2,600.4 Q468.0,594.0 469.5,588.7" fill="none" stroke="#e9707a" stroke-width="0.8" opacity="0.45" stroke-linecap="round"/>
<path d="M464.7,584.6 Q466.4,587.3 469.5,588.7" fill="none" stroke="#fbe6e4" stroke-width="0.85" opacity="0.65" stroke-linecap="round"/>
<path d="M469.5,568.9 Q468.8,569.7 470.2,569.0" fill="none" stroke="#fbe6e4" stroke-width="1.00" opacity="0.65" stroke-linecap="round"/>
<path d="M482.8,562.2 Q477.4,565.3 470.2,569.0" fill="none" stroke="#fbe6e4" stroke-width="1.00" opacity="0.65" stroke-linecap="round"/>
<path d="M482.8,562.2 Q485.2,561.6 485.7,564.0" fill="none" stroke="#d42a5c" stroke-width="1.07" opacity="0.63" stroke-linecap="round"/>
<path d="M541.7,606.5 Q548.9,609.7 554.2,611.3" fill="none" stroke="#d42a5c" stroke-width="1.33" opacity="0.80" stroke-linecap="round"/>
<path d="M541.7,606.5 Q539.8,604.9 539.7,603.5" fill="none" stroke="#fbe6e4" stroke-width="0.60" opacity="0.65" stroke-linecap="round"/>
<path d="M539.7,603.5 Q545.4,599.2 548.8,592.9" fill="none" stroke="#d42a5c" stroke-width="1.35" opacity="0.61" stroke-linecap="round"/>
<path d="M555.3,610.0 Q553.2,603.0 552.0,594.3" fill="none" stroke="#d42a5c" stroke-width="1.12" opacity="0.48" stroke-linecap="round"/>
<path d="M552.0,594.3 Q549.7,592.7 550.0,592.8" fill="none" stroke="#fbe6e4" stroke-width="0.71" opacity="0.65" stroke-linecap="round"/>
<path d="M550.0,592.8 Q549.3,592.4 548.8,592.9" fill="none" stroke="#e9707a" stroke-width="0.8" opacity="0.45" stroke-linecap="round"/>
<path d="M553.4,619.0 Q554.7,615.7 554.2,611.3" fill="none" stroke="#fbe6e4" stroke-width="0.65" opacity="0.65" stroke-linecap="round"/>
<path d="M538.3,621.1 Q541.2,613.7 541.7,606.5" fill="none" stroke="#d42a5c" stroke-width="1.12" opacity="0.50" stroke-linecap="round"/>
<path d="M565.0,596.0 Q558.0,595.0 552.0,594.3" fill="none" stroke="#fbe6e4" stroke-width="1.12" opacity="0.65" stroke-linecap="round"/>
<path d="M506.4,551.2 Q506.7,556.7 506.0,564.2" fill="none" stroke="#e9707a" stroke-width="0.8" opacity="0.45" stroke-linecap="round"/>
<path d="M494.0,561.6 Q497.0,563.2 499.7,565.4" fill="none" stroke="#e9707a" stroke-width="0.8" opacity="0.45" stroke-linecap="round"/>
<path d="M561.2,571.0 Q563.0,571.8 565.5,572.3" fill="none" stroke="#d42a5c" stroke-width="0.81" opacity="0.67" stroke-linecap="round"/>
<path d="M561.2,571.0 Q559.6,573.3 555.3,578.5" fill="none" stroke="#d42a5c" stroke-width="1.17" opacity="0.77" stroke-linecap="round"/>
<path d="M556.1,582.2 Q559.9,582.8 565.5,585.8" fill="none" stroke="#d42a5c" stroke-width="1.16" opacity="0.61" stroke-linecap="round"/>
<path d="M565.0,596.0 Q565.8,595.4 565.5,594.0" fill="none" stroke="#fbe6e4" stroke-width="1.14" opacity="0.65" stroke-linecap="round"/>
<path d="M550.0,592.8 Q552.9,586.8 556.1,582.2" fill="none" stroke="#d42a5c" stroke-width="0.85" opacity="0.54" stroke-linecap="round"/>
<path d="M563.2,552.2 Q558.0,547.5 553.5,545.4" fill="none" stroke="#fbe6e4" stroke-width="0.90" opacity="0.65" stroke-linecap="round"/>
<path d="M562.8,556.8 Q560.9,559.9 558.3,562.3" fill="none" stroke="#e9707a" stroke-width="0.8" opacity="0.45" stroke-linecap="round"/>
<path d="M558.3,562.3 Q554.6,563.1 549.2,561.9" fill="none" stroke="#fbe6e4" stroke-width="1.13" opacity="0.65" stroke-linecap="round"/>
<path d="M549.2,561.9 Q546.5,557.4 546.0,550.3" fill="none" stroke="#fbe6e4" stroke-width="1.17" opacity="0.65" stroke-linecap="round"/>
<path d="M565.5,550.1 Q564.8,552.3 563.2,552.2" fill="none" stroke="#e9707a" stroke-width="0.8" opacity="0.45" stroke-linecap="round"/>
<path d="M565.5,558.1 Q563.1,558.2 562.8,556.8" fill="none" stroke="#d42a5c" stroke-width="1.20" opacity="0.74" stroke-linecap="round"/>
<path d="M561.2,571.0 Q559.4,567.9 558.3,562.3" fill="none" stroke="#e9707a" stroke-width="0.8" opacity="0.45" stroke-linecap="round"/>
<path d="M452.8,623.0 Q455.9,620.6 459.5,616.5" fill="none" stroke="#fbe6e4" stroke-width="0.92" opacity="0.65" stroke-linecap="round"/>
<path d="M452.8,623.0 Q458.7,629.2 463.5,632.4" fill="none" stroke="#e9707a" stroke-width="0.8" opacity="0.45" stroke-linecap="round"/>
<path d="M470.1,627.9 Q466.7,629.1 463.5,632.4" fill="none" stroke="#e9707a" stroke-width="0.8" opacity="0.45" stroke-linecap="round"/>
<path d="M466.4,615.7 Q463.6,617.5 459.5,616.5" fill="none" stroke="#d42a5c" stroke-width="1.34" opacity="0.61" stroke-linecap="round"/>
<path d="M449.5,623.2 Q452.5,622.2 452.8,623.0" fill="none" stroke="#e9707a" stroke-width="0.8" opacity="0.45" stroke-linecap="round"/>
<path d="M455.5,606.0 Q456.3,610.7 459.5,616.5" fill="none" stroke="#e9707a" stroke-width="0.8" opacity="0.45" stroke-linecap="round"/>
<path d="M463.3,634.4 Q462.3,633.2 463.5,632.4" fill="none" stroke="#fbe6e4" stroke-width="0.81" opacity="0.65" stroke-linecap="round"/>
<path d="M477.4,628.3 Q474.2,628.7 470.1,627.9" fill="none" stroke="#d42a5c" stroke-width="1.30" opacity="0.73" stroke-linecap="round"/>
<path d="M478.9,609.0 Q476.9,609.6 472.9,609.1" fill="none" stroke="#d42a5c" stroke-width="0.96" opacity="0.75" stroke-linecap="round"/>
<path d="M478.9,609.0 Q479.4,608.8 479.0,609.1" fill="none" stroke="#e9707a" stroke-width="0.8" opacity="0.45" stroke-linecap="round"/>
<path d="M472.9,609.1 Q470.1,611.0 466.4,615.7" fill="none" stroke="#e9707a" stroke-width="0.8" opacity="0.45" stroke-linecap="round"/>
<path d="M472.9,609.1 Q467.4,606.2 464.2,600.4" fill="none" stroke="#d42a5c" stroke-width="1.28" opacity="0.63" stroke-linecap="round"/>
<path d="M479.3,579.3 Q484.4,578.6 488.0,576.5" fill="none" stroke="#fbe6e4" stroke-width="1.05" opacity="0.65" stroke-linecap="round"/>
<path d="M489.1,591.3 Q490.7,583.7 489.7,577.5" fill="none" stroke="#e9707a" stroke-width="0.8" opacity="0.45" stroke-linecap="round"/>
<path d="M489.1,591.3 Q483.9,592.9 479.6,592.2" fill="none" stroke="#d42a5c" stroke-width="0.82" opacity="0.70" stroke-linecap="round"/>
<path d="M489.7,577.5 Q489.9,578.4 488.0,576.5" fill="none" stroke="#d42a5c" stroke-width="1.35" opacity="0.47" stroke-linecap="round"/>
<path d="M479.6,592.2 Q478.0,591.6 475.3,588.3" fill="none" stroke="#fbe6e4" stroke-width="0.66" opacity="0.65" stroke-linecap="round"/>
<path d="M485.7,564.0 Q486.7,569.6 488.0,576.5" fill="none" stroke="#d42a5c" stroke-width="0.90" opacity="0.61" stroke-linecap="round"/>
<path d="M470.2,569.0 Q473.9,575.3 479.3,579.3" fill="none" stroke="#d42a5c" stroke-width="1.23" opacity="0.76" stroke-linecap="round"/>
<path d="M469.5,588.7 Q472.3,588.7 475.3,588.3" fill="none" stroke="#fbe6e4" stroke-width="0.67" opacity="0.65" stroke-linecap="round"/>
<path d="M501.4,593.0 Q500.4,586.6 501.6,580.4" fill="none" stroke="#e9707a" stroke-width="0.8" opacity="0.45" stroke-linecap="round"/>
<path d="M496.7,577.2 Q499.9,578.1 501.6,580.4" fill="none" stroke="#e9707a" stroke-width="0.8" opacity="0.45" stroke-linecap="round"/>
<path d="M496.7,577.2 Q493.8,578.1 489.7,577.5" fill="none" stroke="#e9707a" stroke-width="0.8" opacity="0.45" stroke-linecap="round"/>
<path d="M478.9,609.0 Q478.7,599.2 479.6,592.2" fill="none" stroke="#fbe6e4" stroke-width="0.63" opacity="0.65" stroke-linecap="round"/>
<path d="M496.7,577.2 Q498.5,570.2 499.7,565.4" fill="none" stroke="#d42a5c" stroke-width="1.21" opacity="0.73" stroke-linecap="round"/>
<path d="M530.4,621.8 Q528.1,617.0 526.4,609.8" fill="none" stroke="#e9707a" stroke-width="0.8" opacity="0.45" stroke-linecap="round"/>
<path d="M539.7,603.5 Q537.0,602.4 534.2,602.5" fill="none" stroke="#d42a5c" stroke-width="1.33" opacity="0.61" stroke-linecap="round"/>
<path d="M534.2,602.5 Q528.8,606.3 526.4,609.8" fill="none" stroke="#d42a5c" stroke-width="1.31" opacity="0.54" stroke-linecap="round"/>
<path d="M512.2,616.1 Q515.0,612.4 519.9,607.9" fill="none" stroke="#d42a5c" stroke-width="1.20" opacity="0.75" stroke-linecap="round"/>
<path d="M526.4,609.8 Q523.2,608.4 519.9,607.9" fill="none" stroke="#fbe6e4" stroke-width="1.02" opacity="0.65" stroke-linecap="round"/>
<path d="M508.5,600.6 Q513.6,602.4 519.0,606.1" fill="none" stroke="#e9707a" stroke-width="0.8" opacity="0.45" stroke-linecap="round"/>
<path d="M506.7,595.2 Q510.7,593.9 513.4,591.5" fill="none" stroke="#fbe6e4" stroke-width="0.91" opacity="0.65" stroke-linecap="round"/>
<path d="M513.4,591.5 Q516.8,593.9 521.6,594.4" fill="none" stroke="#d42a5c" stroke-width="0.93" opacity="0.80" stroke-linecap="round"/>
<path d="M534.2,602.5 Q530.2,596.3 529.1,591.3" fill="none" stroke="#d42a5c" stroke-width="1.34" opacity="0.46" stroke-linecap="round"/>
<path d="M521.6,594.4 Q526.5,594.1 529.1,591.3" fill="none" stroke="#d42a5c" stroke-width="0.94" opacity="0.54" stroke-linecap="round"/>
<path d="M538.0,584.1 Q542.7,587.4 548.8,592.9" fill="none" stroke="#fbe6e4" stroke-width="1.10" opacity="0.65" stroke-linecap="round"/>
<path d="M538.0,584.1 Q534.2,587.3 529.7,589.5" fill="none" stroke="#e9707a" stroke-width="0.8" opacity="0.45" stroke-linecap="round"/>
<path d="M529.7,589.5 Q528.9,589.1 529.1,591.3" fill="none" stroke="#d42a5c" stroke-width="1.15" opacity="0.48" stroke-linecap="round"/>
<path d="M546.7,575.3 Q541.6,579.5 538.2,583.0" fill="none" stroke="#fbe6e4" stroke-width="1.19" opacity="0.65" stroke-linecap="round"/>
<path d="M546.7,575.3 Q546.0,569.0 544.8,565.5" fill="none" stroke="#d42a5c" stroke-width="1.01" opacity="0.82" stroke-linecap="round"/>
<path d="M538.2,583.0 Q534.6,577.5 532.0,572.5" fill="none" stroke="#fbe6e4" stroke-width="0.89" opacity="0.65" stroke-linecap="round"/>
<path d="M532.0,572.5 Q535.5,569.0 537.8,564.6" fill="none" stroke="#e9707a" stroke-width="0.8" opacity="0.45" stroke-linecap="round"/>
<path d="M537.8,564.6 Q541.5,563.9 544.8,565.5" fill="none" stroke="#fbe6e4" stroke-width="0.61" opacity="0.65" stroke-linecap="round"/>
<path d="M538.0,584.1 Q539.1,583.7 538.2,583.0" fill="none" stroke="#fbe6e4" stroke-width="0.67" opacity="0.65" stroke-linecap="round"/>
<path d="M555.3,578.5 Q550.5,577.9 546.7,575.3" fill="none" stroke="#fbe6e4" stroke-width="0.92" opacity="0.65" stroke-linecap="round"/>
<path d="M549.2,561.9 Q547.1,564.7 544.8,565.5" fill="none" stroke="#e9707a" stroke-width="0.8" opacity="0.45" stroke-linecap="round"/>
<path d="M531.8,556.3 Q535.2,560.3 537.8,564.6" fill="none" stroke="#d42a5c" stroke-width="1.39" opacity="0.67" stroke-linecap="round"/>
<path d="M501.6,580.4 Q505.3,578.0 506.8,578.3" fill="none" stroke="#d42a5c" stroke-width="1.28" opacity="0.64" stroke-linecap="round"/>
<path d="M506.0,564.2 Q506.8,566.2 510.5,567.1" fill="none" stroke="#e9707a" stroke-width="0.8" opacity="0.45" stroke-linecap="round"/>
<path d="M506.8,578.3 Q507.7,573.9 510.5,567.1" fill="none" stroke="#d42a5c" stroke-width="0.89" opacity="0.72" stroke-linecap="round"/>
<path d="M513.4,591.5 Q515.1,586.7 515.1,582.1" fill="none" stroke="#fbe6e4" stroke-width="1.16" opacity="0.65" stroke-linecap="round"/>
<path d="M529.7,589.5 Q525.7,584.3 520.6,579.4" fill="none" stroke="#e9707a" stroke-width="0.8" opacity="0.45" stroke-linecap="round"/>
<path d="M515.1,582.1 Q516.5,581.9 520.6,579.4" fill="none" stroke="#e9707a" stroke-width="0.8" opacity="0.45" stroke-linecap="round"/>
<path d="M526.1,572.4 Q522.4,575.4 521.6,576.1" fill="none" stroke="#e9707a" stroke-width="0.8" opacity="0.45" stroke-linecap="round"/>
<path d="M526.1,572.4 Q524.6,565.9 522.5,560.2" fill="none" stroke="#e9707a" stroke-width="0.8" opacity="0.45" stroke-linecap="round"/>
<path d="M521.6,576.1 Q518.0,572.1 511.6,567.0" fill="none" stroke="#e9707a" stroke-width="0.8" opacity="0.45" stroke-linecap="round"/>
<path d="M511.6,567.0 Q515.2,562.6 519.4,560.4" fill="none" stroke="#d42a5c" stroke-width="0.92" opacity="0.55" stroke-linecap="round"/>
<path d="M532.0,572.5 Q530.2,572.8 526.1,572.4" fill="none" stroke="#d42a5c" stroke-width="1.02" opacity="0.75" stroke-linecap="round"/>
<path d="M520.6,579.4 Q520.6,578.4 521.6,576.1" fill="none" stroke="#fbe6e4" stroke-width="0.95" opacity="0.65" stroke-linecap="round"/>
<path d="M526.9,556.6 Q524.3,557.6 522.5,560.2" fill="none" stroke="#d42a5c" stroke-width="1.35" opacity="0.71" stroke-linecap="round"/>
<path d="M510.5,567.1 Q512.0,567.8 511.6,567.0" fill="none" stroke="#d42a5c" stroke-width="0.87" opacity="0.55" stroke-linecap="round"/>
<path d="M510.8,550.6 Q513.7,555.8 519.4,560.4" fill="none" stroke="#d42a5c" stroke-width="1.27" opacity="0.56" stroke-linecap="round"/>
<path d="M425.7,513.0 C425.4,515.0 424.8,520.7 424.2,525.3 C423.6,529.9 422.4,536.1 421.9,540.7 C421.4,545.3 420.5,549.2 421.1,553.0 C421.7,556.8 424.2,560.1 425.7,563.7 C427.2,567.3 429.5,572.6 430.3,574.4" fill="none" stroke="#d83a64" stroke-width="5.6000000000000005" stroke-linecap="round" stroke-linejoin="round" opacity="0.5"/>
<path d="M425.7,513.0 C425.4,515.0 424.8,520.7 424.2,525.3 C423.6,529.9 422.4,536.1 421.9,540.7 C421.4,545.3 420.5,549.2 421.1,553.0 C421.7,556.8 424.2,560.1 425.7,563.7 C427.2,567.3 429.5,572.6 430.3,574.4" fill="none" stroke="#ebe7ee" stroke-width="4.4" stroke-linecap="round" stroke-linejoin="round" opacity="0.88"/>
<path d="M427.2,514.0 C427.0,516.0 426.4,521.7 425.7,526.3 C425.1,530.9 424.0,537.1 423.4,541.7 C422.9,546.3 422.8,552.0 422.6,554.0" fill="none" stroke="#eeeaf0" stroke-width="3.5200000000000005" stroke-linecap="round" stroke-linejoin="round" opacity="0.85"/>
<path d="M419.8,552.0 C420.5,553.8 422.8,559.1 424.4,562.7 C425.9,566.3 428.2,571.6 429.0,573.4" fill="none" stroke="#eeeaf0" stroke-width="2.64" stroke-linecap="round" stroke-linejoin="round" opacity="0.8"/>
<path d="M446.0,513.0 C444.7,514.5 440.1,519.5 438.0,522.3 C435.9,525.1 434.7,526.9 433.4,530.0 C432.1,533.1 431.2,536.9 430.3,540.7 C429.4,544.5 428.4,551.0 428.0,553.0" fill="none" stroke="#d83a64" stroke-width="6.2" stroke-linecap="round" stroke-linejoin="round" opacity="0.5"/>
<path d="M446.0,513.0 C444.7,514.5 440.1,519.5 438.0,522.3 C435.9,525.1 434.7,526.9 433.4,530.0 C432.1,533.1 431.2,536.9 430.3,540.7 C429.4,544.5 428.4,551.0 428.0,553.0" fill="none" stroke="#ebe7ee" stroke-width="5.0" stroke-linecap="round" stroke-linejoin="round" opacity="0.88"/>
<path d="M447.8,514.0 C446.4,515.5 441.9,520.5 439.8,523.3 C437.6,526.1 435.9,529.7 435.1,531.0" fill="none" stroke="#eeeaf0" stroke-width="4.0" stroke-linecap="round" stroke-linejoin="round" opacity="0.85"/>
<path d="M431.9,529.0 C431.4,530.8 429.7,535.9 428.8,539.7 C427.9,543.5 426.9,550.0 426.5,552.0" fill="none" stroke="#eeeaf0" stroke-width="3.0" stroke-linecap="round" stroke-linejoin="round" opacity="0.8"/>
<path d="M397.0,548.4 C397.8,548.6 400.3,549.0 402.0,549.5 C403.7,550.0 406.4,551.1 407.3,551.4" fill="none" stroke="#d83a64" stroke-width="3.8" stroke-linecap="round" stroke-linejoin="round" opacity="0.5"/>
<path d="M397.0,548.4 C397.8,548.6 400.3,549.0 402.0,549.5 C403.7,550.0 406.4,551.1 407.3,551.4" fill="none" stroke="#ebe7ee" stroke-width="2.6" stroke-linecap="round" stroke-linejoin="round" opacity="0.88"/>
<path d="M397.9,549.4 C398.7,549.6 402.1,550.3 402.9,550.5" fill="none" stroke="#eeeaf0" stroke-width="2.08" stroke-linecap="round" stroke-linejoin="round" opacity="0.85"/>
<path d="M401.2,548.5 C402.1,548.8 405.6,550.1 406.5,550.4" fill="none" stroke="#eeeaf0" stroke-width="1.56" stroke-linecap="round" stroke-linejoin="round" opacity="0.8"/>
<path d="M538.5,512.0 C537.6,514.3 534.7,521.3 533.0,525.7 C531.3,530.1 529.8,534.1 528.2,538.3 C526.6,542.5 525.1,546.6 523.5,550.8 C521.9,555.0 520.0,560.2 518.8,563.4 C517.5,566.6 516.5,568.9 516.0,570.0" fill="none" stroke="#d83a64" stroke-width="4.8" stroke-linecap="round" stroke-linejoin="round" opacity="0.5"/>
<path d="M538.5,512.0 C537.6,514.3 534.7,521.3 533.0,525.7 C531.3,530.1 529.8,534.1 528.2,538.3 C526.6,542.5 525.1,546.6 523.5,550.8 C521.9,555.0 520.0,560.2 518.8,563.4 C517.5,566.6 516.5,568.9 516.0,570.0" fill="none" stroke="#ebe7ee" stroke-width="3.6" stroke-linecap="round" stroke-linejoin="round" opacity="0.88"/>
<path d="M539.8,513.0 C538.8,515.3 536.0,522.3 534.3,526.7 C532.5,531.1 531.0,535.1 529.5,539.3 C527.9,543.5 525.5,549.7 524.8,551.8" fill="none" stroke="#eeeaf0" stroke-width="2.8800000000000003" stroke-linecap="round" stroke-linejoin="round" opacity="0.85"/>
<path d="M522.4,549.8 C521.6,551.9 519.0,559.2 517.7,562.4 C516.5,565.6 515.4,567.9 514.9,569.0" fill="none" stroke="#eeeaf0" stroke-width="2.16" stroke-linecap="round" stroke-linejoin="round" opacity="0.8"/>
<path d="M511.8,513.0 C511.8,516.4 512.1,527.5 511.8,533.5 C511.5,539.5 510.7,544.5 510.2,549.2 C509.7,553.9 508.9,559.7 508.6,561.8" fill="none" stroke="#d83a64" stroke-width="3.2" stroke-linecap="round" stroke-linejoin="round" opacity="0.5"/>
<path d="M511.8,513.0 C511.8,516.4 512.1,527.5 511.8,533.5 C511.5,539.5 510.7,544.5 510.2,549.2 C509.7,553.9 508.9,559.7 508.6,561.8" fill="none" stroke="#ebe7ee" stroke-width="2.0" stroke-linecap="round" stroke-linejoin="round" opacity="0.88"/>
<path d="M512.5,514.0 C512.5,517.4 512.8,528.5 512.5,534.5 C512.2,540.5 511.2,547.6 510.9,550.2" fill="none" stroke="#eeeaf0" stroke-width="1.6" stroke-linecap="round" stroke-linejoin="round" opacity="0.85"/>
<path d="M509.6,548.2 C509.3,550.3 508.3,558.7 508.0,560.8" fill="none" stroke="#eeeaf0" stroke-width="1.2" stroke-linecap="round" stroke-linejoin="round" opacity="0.8"/>
<path d="M422.3,570.0 C420.8,574.0 416.2,586.2 413.2,594.3 C410.2,602.4 406.5,612.2 404.1,618.5 C401.7,624.8 399.9,629.8 399.0,632.0" fill="none" stroke="#d83a64" stroke-width="4.2" stroke-linecap="round" stroke-linejoin="round" opacity="0.5"/>
<path d="M422.3,570.0 C420.8,574.0 416.2,586.2 413.2,594.3 C410.2,602.4 406.5,612.2 404.1,618.5 C401.7,624.8 399.9,629.8 399.0,632.0" fill="none" stroke="#ebe7ee" stroke-width="3.0" stroke-linecap="round" stroke-linejoin="round" opacity="0.88"/>
<path d="M423.4,571.0 C421.8,575.0 417.3,587.2 414.2,595.3 C411.2,603.4 406.7,615.5 405.2,619.5" fill="none" stroke="#eeeaf0" stroke-width="2.4000000000000004" stroke-linecap="round" stroke-linejoin="round" opacity="0.85"/>
<path d="M403.2,617.5 C402.4,619.8 399.0,628.8 398.1,631.0" fill="none" stroke="#eeeaf0" stroke-width="1.7999999999999998" stroke-linecap="round" stroke-linejoin="round" opacity="0.8"/>
<path d="M467.8,570.0 C468.3,573.0 471.3,581.6 470.8,588.2 C470.3,594.8 465.8,605.9 464.8,609.4" fill="none" stroke="#d83a64" stroke-width="3.0" stroke-linecap="round" stroke-linejoin="round" opacity="0.5"/>
<path d="M467.8,570.0 C468.3,573.0 471.3,581.6 470.8,588.2 C470.3,594.8 465.8,605.9 464.8,609.4" fill="none" stroke="#ebe7ee" stroke-width="1.8" stroke-linecap="round" stroke-linejoin="round" opacity="0.88"/>
<path d="M468.4,571.0 C468.9,574.0 470.9,586.2 471.4,589.2" fill="none" stroke="#eeeaf0" stroke-width="1.4400000000000002" stroke-linecap="round" stroke-linejoin="round" opacity="0.85"/>
<path d="M470.3,587.2 C469.3,590.7 465.3,604.9 464.3,608.4" fill="none" stroke="#eeeaf0" stroke-width="1.08" stroke-linecap="round" stroke-linejoin="round" opacity="0.8"/>
<path d="M510.3,570.0 C509.8,573.0 509.2,582.1 507.2,588.2 C505.2,594.3 500.6,599.8 498.1,606.4 C495.6,613.0 493.0,624.1 492.0,627.6" fill="none" stroke="#d83a64" stroke-width="3.4000000000000004" stroke-linecap="round" stroke-linejoin="round" opacity="0.5"/>
<path d="M510.3,570.0 C509.8,573.0 509.2,582.1 507.2,588.2 C505.2,594.3 500.6,599.8 498.1,606.4 C495.6,613.0 493.0,624.1 492.0,627.6" fill="none" stroke="#ebe7ee" stroke-width="2.2" stroke-linecap="round" stroke-linejoin="round" opacity="0.88"/>
<path d="M511.1,571.0 C510.6,574.0 510.0,583.1 508.0,589.2 C505.9,595.3 500.4,604.4 498.9,607.4" fill="none" stroke="#eeeaf0" stroke-width="1.7600000000000002" stroke-linecap="round" stroke-linejoin="round" opacity="0.85"/>
<path d="M497.4,605.4 C496.4,608.9 492.4,623.1 491.3,626.6" fill="none" stroke="#eeeaf0" stroke-width="1.32" stroke-linecap="round" stroke-linejoin="round" opacity="0.8"/>
<path d="M555.0,516.0 C555.2,519.2 556.3,528.3 556.0,535.0 C555.7,541.7 553.5,552.5 553.0,556.0" fill="none" stroke="#d83a64" stroke-width="2.5999999999999996" stroke-linecap="round" stroke-linejoin="round" opacity="0.5"/>
<path d="M555.0,516.0 C555.2,519.2 556.3,528.3 556.0,535.0 C555.7,541.7 553.5,552.5 553.0,556.0" fill="none" stroke="#ebe7ee" stroke-width="1.4" stroke-linecap="round" stroke-linejoin="round" opacity="0.88"/>
<path d="M555.5,517.0 C555.7,520.2 556.3,532.8 556.5,536.0" fill="none" stroke="#eeeaf0" stroke-width="1.1199999999999999" stroke-linecap="round" stroke-linejoin="round" opacity="0.85"/>
<path d="M555.6,534.0 C555.1,537.5 553.1,551.5 552.6,555.0" fill="none" stroke="#eeeaf0" stroke-width="0.84" stroke-linecap="round" stroke-linejoin="round" opacity="0.8"/>
<path d="M447.2,513.0 C448.2,515.6 451.5,523.8 453.3,528.4 C455.1,533.0 456.1,536.6 457.9,540.7 C459.7,544.8 462.2,549.7 464.0,553.0 C465.8,556.3 467.4,557.5 468.7,560.6 C470.0,563.7 471.2,569.6 471.7,571.4" fill="none" stroke="#d3265a" stroke-width="1.3" stroke-linecap="round" stroke-linejoin="round" opacity="0.75"/>
<path d="M459.4,525.3 C461.2,526.2 466.4,529.2 470.0,531.0 C473.6,532.8 479.1,535.2 480.9,536.1" fill="none" stroke="#d3265a" stroke-width="1.3" stroke-linecap="round" stroke-linejoin="round" opacity="0.75"/>
<path d="M503.1,513.0 C504.9,514.1 510.7,517.8 514.1,519.4 C517.5,521.0 521.4,520.5 523.5,522.6 C525.6,524.7 526.4,528.9 526.7,532.0 C527.0,535.1 526.1,538.1 525.1,541.4 C524.1,544.7 521.7,550.2 521.0,552.0" fill="none" stroke="#d3265a" stroke-width="1.3" stroke-linecap="round" stroke-linejoin="round" opacity="0.75"/>
<path d="M548.6,519.4 C549.4,521.2 551.6,528.0 553.4,530.4 C555.2,532.8 558.6,533.0 559.6,533.5" fill="none" stroke="#d3265a" stroke-width="1.3" stroke-linecap="round" stroke-linejoin="round" opacity="0.75"/>
<path d="M481.1,536.7 C481.4,538.3 482.7,542.7 482.7,546.1 C482.7,549.5 480.6,554.5 481.1,557.1 C481.7,559.8 485.2,561.2 486.0,562.0" fill="none" stroke="#d3265a" stroke-width="1.3" stroke-linecap="round" stroke-linejoin="round" opacity="0.75"/>
<path d="M418.0,548.4 C419.3,550.4 423.9,557.0 425.7,560.6 C427.5,564.2 429.3,566.8 429.0,570.0 C428.7,573.2 424.8,578.3 424.0,580.0" fill="none" stroke="#d3265a" stroke-width="1.3" stroke-linecap="round" stroke-linejoin="round" opacity="0.75"/>
<path d="M510.3,582.1 C513.8,583.1 525.4,585.7 531.5,588.2 C537.6,590.7 544.2,595.8 546.7,597.3" fill="none" stroke="#d3265a" stroke-width="1.3" stroke-linecap="round" stroke-linejoin="round" opacity="0.75"/>
<path d="M434.0,588.0 C436.6,589.5 446.0,593.0 449.6,597.0 C453.2,601.0 454.6,609.5 455.6,612.0" fill="none" stroke="#d3265a" stroke-width="1.3" stroke-linecap="round" stroke-linejoin="round" opacity="0.75"/>
<path d="M540.6,603.0 C541.6,605.0 546.7,610.0 546.7,615.0 C546.7,620.0 541.6,630.0 540.6,633.0" fill="none" stroke="#d3265a" stroke-width="1.3" stroke-linecap="round" stroke-linejoin="round" opacity="0.75"/>
<path d="M467.8,570.0 C468.5,571.7 471.5,577.0 472.0,580.0 C472.5,583.0 471.0,586.8 470.8,588.2" fill="none" stroke="#d3265a" stroke-width="1.3" stroke-linecap="round" stroke-linejoin="round" opacity="0.75"/>
<path d="M404.0,600.0 C405.3,600.7 409.3,602.3 412.0,604.0 C414.7,605.7 418.7,609.0 420.0,610.0" fill="none" stroke="#d3265a" stroke-width="1.3" stroke-linecap="round" stroke-linejoin="round" opacity="0.75"/>
<path d="M480.0,600.0 C481.7,602.0 488.7,607.0 490.0,612.0 C491.3,617.0 488.3,627.0 488.0,630.0" fill="none" stroke="#d3265a" stroke-width="1.3" stroke-linecap="round" stroke-linejoin="round" opacity="0.75"/>
</g>
<text x="398.5" y="530.5" font-size="19.5" font-weight="bold" fill="#000" stroke="#000" stroke-width="0.9">j</text>
<text x="3" y="15.5" font-size="19.5" text-anchor="start" font-weight="bold" fill="#000" stroke="#000" stroke-width="0.9">a</text>
<text x="263" y="15.5" font-size="19.5" text-anchor="start" font-weight="bold" fill="#000" stroke="#000" stroke-width="0.9">b</text>
<text x="3" y="185.5" font-size="19.5" text-anchor="start" font-weight="bold" fill="#000" stroke="#000" stroke-width="0.9">c</text>
<text x="263" y="184.8" font-size="19.5" text-anchor="start" font-weight="bold" fill="#000" stroke="#000" stroke-width="0.9">d</text>
<text x="63.8" y="10.5" font-size="10.6" text-anchor="start" font-weight="bold" fill="#111" textLength="118.5" lengthAdjust="spacingAndGlyphs">Fractional Shortening</text>
<line x1="29.6" y1="22" x2="29.6" y2="124.4" stroke="#222" stroke-width="1.85" />
<line x1="27.200000000000003" y1="22" x2="29.6" y2="22" stroke="#222" stroke-width="1.3" />
<text x="27.200000000000003" y="25.9" font-size="7.8" text-anchor="end" font-weight="bold" fill="#2a2a2a" >35</text>
<line x1="27.200000000000003" y1="73.4" x2="29.6" y2="73.4" stroke="#222" stroke-width="1.3" />
<text x="27.200000000000003" y="77.30000000000001" font-size="7.8" text-anchor="end" font-weight="bold" fill="#2a2a2a" >30</text>
<line x1="27.200000000000003" y1="124.4" x2="29.6" y2="124.4" stroke="#222" stroke-width="1.3" />
<text x="27.200000000000003" y="128.3" font-size="7.8" text-anchor="end" font-weight="bold" fill="#2a2a2a" >25</text>
<line x1="29.6" y1="130.5" x2="29.6" y2="141.3" stroke="#222" stroke-width="1.85" />
<line x1="29.6" y1="130.5" x2="32.0" y2="130.5" stroke="#222" stroke-width="1.3" />
<text x="27.200000000000003" y="145.20000000000002" font-size="7.8" text-anchor="end" font-weight="bold" fill="#2a2a2a" >0</text>
<line x1="29.6" y1="141.3" x2="216.8" y2="141.3" stroke="#222" stroke-width="1.8" />
<line x1="61.4" y1="141.3" x2="61.4" y2="143.9" stroke="#222" stroke-width="1.3" />
<text x="61.4" y="152.2" font-size="8" text-anchor="middle" font-weight="bold" fill="#2a2a2a" >2</text>
<line x1="122.4" y1="141.3" x2="122.4" y2="143.9" stroke="#222" stroke-width="1.3" />
<text x="122.4" y="152.2" font-size="8" text-anchor="middle" font-weight="bold" fill="#2a2a2a" >6</text>
<line x1="185.3" y1="141.3" x2="185.3" y2="143.9" stroke="#222" stroke-width="1.3" />
<text x="185.3" y="152.2" font-size="8" text-anchor="middle" font-weight="bold" fill="#2a2a2a" >9</text>
<text x="91" y="164.9" font-size="10.3" text-anchor="start" font-weight="bold" fill="#111" textLength="64.5" lengthAdjust="spacingAndGlyphs">Age (months)</text>
<text x="14.6" y="81.5" font-size="10" font-weight="bold" fill="#111" text-anchor="middle" transform="rotate(-90 14.6 81.5)" textLength="29" lengthAdjust="spacingAndGlyphs">FS (%)</text>
<polyline points="61.3,51.4 123.4,51.5 185.6,59.4" fill="none" stroke="#666" stroke-width="1.2"/>
<polyline points="61.3,51.4 123.4,42.6 185.6,83.2" fill="none" stroke="#555" stroke-width="1.2"/>
<polyline points="61.3,51.4 123.4,41" fill="none" stroke="#999" stroke-width="1"/>
<line x1="61.3" y1="37.3" x2="61.3" y2="65.9" stroke="#111" stroke-width="1.7" />
<line x1="59.3" y1="37.3" x2="63.3" y2="37.3" stroke="#111" stroke-width="1.3" />
<line x1="59.3" y1="65.9" x2="63.3" y2="65.9" stroke="#111" stroke-width="1.3" />
<line x1="59.3" y1="41.2" x2="63.3" y2="41.2" stroke="#111" stroke-width="1.3" />
<line x1="59.3" y1="63" x2="63.3" y2="63" stroke="#111" stroke-width="1.3" />
<line x1="123.4" y1="34.2" x2="123.4" y2="62.8" stroke="#111" stroke-width="1.7" />
<line x1="121.4" y1="34.2" x2="125.4" y2="34.2" stroke="#111" stroke-width="1.3" />
<line x1="121.4" y1="62.8" x2="125.4" y2="62.8" stroke="#111" stroke-width="1.3" />
<line x1="121.4" y1="40.2" x2="125.4" y2="40.2" stroke="#111" stroke-width="1.3" />
<line x1="185.6" y1="47.4" x2="185.6" y2="101.7" stroke="#111" stroke-width="1.7" />
<line x1="183.6" y1="47.4" x2="187.6" y2="47.4" stroke="#111" stroke-width="1.3" />
<line x1="183.6" y1="101.7" x2="187.6" y2="101.7" stroke="#111" stroke-width="1.3" />
<line x1="183.6" y1="65.2" x2="187.6" y2="65.2" stroke="#111" stroke-width="1.3" />
<line x1="183.6" y1="71.7" x2="187.6" y2="71.7" stroke="#111" stroke-width="1.3" />
<line x1="61.3" y1="42" x2="61.3" y2="50" stroke="#9a9a9a" stroke-width="1.8" />
<circle cx="61.3" cy="51.4" r="1.6" fill="#111"/>
<circle cx="123.4" cy="51.5" r="1.6" fill="#111"/>
<rect x="121.60000000000001" y="40.800000000000004" width="3.6" height="3.6" fill="#111"/>
<circle cx="185.6" cy="59.4" r="1.6" fill="#111"/>
<rect x="183.79999999999998" y="81.4" width="3.6" height="3.6" fill="#111"/>
<text x="186.1" y="45.8" font-size="9" text-anchor="middle" font-weight="bold" fill="#111" letter-spacing="1">**</text>
<text x="341.6" y="9.7" font-size="10.6" text-anchor="start" font-weight="bold" fill="#111" textLength="93.2" lengthAdjust="spacingAndGlyphs">Ejection Fraction</text>
<line x1="295.4" y1="22.2" x2="295.4" y2="124.4" stroke="#222" stroke-width="1.85" />
<line x1="293.0" y1="22.2" x2="295.4" y2="22.2" stroke="#222" stroke-width="1.3" />
<text x="293.0" y="26.099999999999998" font-size="7.8" text-anchor="end" font-weight="bold" fill="#2a2a2a" >65</text>
<line x1="293.0" y1="56.4" x2="295.4" y2="56.4" stroke="#222" stroke-width="1.3" />
<text x="293.0" y="60.3" font-size="7.8" text-anchor="end" font-weight="bold" fill="#2a2a2a" >60</text>
<line x1="293.0" y1="90.4" x2="295.4" y2="90.4" stroke="#222" stroke-width="1.3" />
<text x="293.0" y="94.30000000000001" font-size="7.8" text-anchor="end" font-weight="bold" fill="#2a2a2a" >55</text>
<line x1="293.0" y1="124.4" x2="295.4" y2="124.4" stroke="#222" stroke-width="1.3" />
<text x="293.0" y="128.3" font-size="7.8" text-anchor="end" font-weight="bold" fill="#2a2a2a" >50</text>
<line x1="295.4" y1="130.5" x2="295.4" y2="141.1" stroke="#222" stroke-width="1.85" />
<line x1="295.4" y1="130.5" x2="297.79999999999995" y2="130.5" stroke="#222" stroke-width="1.3" />
<text x="293.0" y="145.0" font-size="7.8" text-anchor="end" font-weight="bold" fill="#2a2a2a" >0</text>
<line x1="295.4" y1="141.1" x2="482.2" y2="141.1" stroke="#222" stroke-width="1.8" />
<line x1="326.3" y1="141.1" x2="326.3" y2="143.7" stroke="#222" stroke-width="1.3" />
<text x="326.3" y="152.1" font-size="8" text-anchor="middle" font-weight="bold" fill="#2a2a2a" >2</text>
<line x1="388.4" y1="141.1" x2="388.4" y2="143.7" stroke="#222" stroke-width="1.3" />
<text x="388.4" y="152.1" font-size="8" text-anchor="middle" font-weight="bold" fill="#2a2a2a" >6</text>
<line x1="450.3" y1="141.1" x2="450.3" y2="143.7" stroke="#222" stroke-width="1.3" />
<text x="450.3" y="152.1" font-size="8" text-anchor="middle" font-weight="bold" fill="#2a2a2a" >9</text>
<text x="356" y="164.7" font-size="10.3" text-anchor="start" font-weight="bold" fill="#111" textLength="64.5" lengthAdjust="spacingAndGlyphs">Age (months)</text>
<text x="279.6" y="81" font-size="10" font-weight="bold" fill="#111" text-anchor="middle" transform="rotate(-90 279.6 81)" textLength="28" lengthAdjust="spacingAndGlyphs">EF (%)</text>
<polyline points="326.2,49.6 388.8,51.2 450.2,57.6" fill="none" stroke="#666" stroke-width="1.2"/>
<polyline points="326.2,49.6 388.8,43.8 450.2,80.8" fill="none" stroke="#555" stroke-width="1.2"/>
<polyline points="326.2,49.6 388.8,41.2" fill="none" stroke="#aaa" stroke-width="1"/>
<line x1="326.2" y1="35" x2="326.2" y2="63.7" stroke="#111" stroke-width="1.7" />
<line x1="324.2" y1="35" x2="328.2" y2="35" stroke="#111" stroke-width="1.3" />
<line x1="324.2" y1="63.7" x2="328.2" y2="63.7" stroke="#111" stroke-width="1.3" />
<line x1="324.2" y1="39.5" x2="328.2" y2="39.5" stroke="#111" stroke-width="1.3" />
<line x1="324.2" y1="60.4" x2="328.2" y2="60.4" stroke="#111" stroke-width="1.3" />
<line x1="388.8" y1="36" x2="388.8" y2="59.2" stroke="#111" stroke-width="1.7" />
<line x1="386.8" y1="36" x2="390.8" y2="36" stroke="#111" stroke-width="1.3" />
<line x1="386.8" y1="59.2" x2="390.8" y2="59.2" stroke="#111" stroke-width="1.3" />
<line x1="326.2" y1="40.3" x2="326.2" y2="48.4" stroke="#9a9a9a" stroke-width="1.8" />
<line x1="388.8" y1="31.9" x2="388.8" y2="41" stroke="#999" stroke-width="1.1" />
<line x1="386.8" y1="31.9" x2="390.8" y2="31.9" stroke="#999" stroke-width="1.1" />
<line x1="450.2" y1="47.8" x2="450.2" y2="99.4" stroke="#111" stroke-width="1.7" />
<line x1="448.2" y1="47.8" x2="452.2" y2="47.8" stroke="#111" stroke-width="1.3" />
<line x1="448.2" y1="99.4" x2="452.2" y2="99.4" stroke="#111" stroke-width="1.3" />
<line x1="448.2" y1="63" x2="452.2" y2="63" stroke="#111" stroke-width="1.3" />
<line x1="448.2" y1="68" x2="452.2" y2="68" stroke="#111" stroke-width="1.3" />
<circle cx="326.2" cy="49.6" r="1.6" fill="#111"/>
<circle cx="388.8" cy="51.2" r="1.6" fill="#111"/>
<rect x="387.0" y="42.0" width="3.6" height="3.6" fill="#111"/>
<circle cx="450.2" cy="57.6" r="1.6" fill="#111"/>
<rect x="448.4" y="79.0" width="3.6" height="3.6" fill="#111"/>
<path d="M388.8 39.2L390.8 42.7L386.8 42.7Z" fill="#999"/>
<circle cx="326.2" cy="49.6" r="1.5" fill="#fff" stroke="#777" stroke-width="0.8"/>
<text x="450.9" y="48.1" font-size="9" text-anchor="middle" font-weight="bold" fill="#111" letter-spacing="1">**</text>
<line x1="490" y1="28" x2="498.4" y2="28" stroke="#222" stroke-width="1" />
<circle cx="494.2" cy="28" r="1.6" fill="#222"/>
<text x="503.8" y="30.4" font-size="6.6" text-anchor="start" font-weight="normal" fill="#444" >BL6</text>
<line x1="490" y1="37.2" x2="498.4" y2="37.2" stroke="#222" stroke-width="1" />
<rect x="492.4" y="35.400000000000006" width="3.6" height="3.6" fill="#222"/>
<text x="503.8" y="39.6" font-size="6.6" text-anchor="start" font-weight="normal" fill="#444" >FKRP</text>
<line x1="490" y1="47.2" x2="498.4" y2="47.2" stroke="#999" stroke-width="1" />
<path d="M494.2 45.2L496.2 48.7L492.2 48.7Z" fill="#999"/>
<text x="503.8" y="49.6" font-size="6.6" text-anchor="start" font-weight="normal" fill="#888" >FKRP-treadmill</text>
<text x="50.2" y="189.3" font-size="10.6" text-anchor="start" font-weight="bold" fill="#111" textLength="147" lengthAdjust="spacingAndGlyphs">Left Ventricle Anterior Wall</text>
<line x1="31.3" y1="200.8" x2="31.3" y2="320.5" stroke="#222" stroke-width="1.85" />
<line x1="28.900000000000002" y1="200.8" x2="31.3" y2="200.8" stroke="#222" stroke-width="1.3" />
<text x="28.900000000000002" y="204.4" font-size="7.2" text-anchor="end" font-weight="bold" fill="#2a2a2a" >1.0</text>
<line x1="28.900000000000002" y1="224.8" x2="31.3" y2="224.8" stroke="#222" stroke-width="1.3" />
<text x="28.900000000000002" y="228.4" font-size="7.2" text-anchor="end" font-weight="bold" fill="#2a2a2a" >0.8</text>
<line x1="28.900000000000002" y1="248.8" x2="31.3" y2="248.8" stroke="#222" stroke-width="1.3" />
<text x="28.900000000000002" y="252.4" font-size="7.2" text-anchor="end" font-weight="bold" fill="#2a2a2a" >0.6</text>
<line x1="28.900000000000002" y1="272.8" x2="31.3" y2="272.8" stroke="#222" stroke-width="1.3" />
<text x="28.900000000000002" y="276.40000000000003" font-size="7.2" text-anchor="end" font-weight="bold" fill="#2a2a2a" >0.4</text>
<line x1="28.900000000000002" y1="296.8" x2="31.3" y2="296.8" stroke="#222" stroke-width="1.3" />
<text x="28.900000000000002" y="300.40000000000003" font-size="7.2" text-anchor="end" font-weight="bold" fill="#2a2a2a" >0.2</text>
<line x1="28.900000000000002" y1="320.5" x2="31.3" y2="320.5" stroke="#222" stroke-width="1.3" />
<text x="28.900000000000002" y="324.1" font-size="7.2" text-anchor="end" font-weight="bold" fill="#2a2a2a" >0.0</text>
<line x1="31.3" y1="320.3" x2="218.2" y2="320.3" stroke="#222" stroke-width="1.8" />
<line x1="62.2" y1="320.3" x2="62.2" y2="322.90000000000003" stroke="#222" stroke-width="1.3" />
<text x="62.2" y="330.4" font-size="8" text-anchor="middle" font-weight="bold" fill="#2a2a2a" >2</text>
<line x1="124.3" y1="320.3" x2="124.3" y2="322.90000000000003" stroke="#222" stroke-width="1.3" />
<text x="124.3" y="330.4" font-size="8" text-anchor="middle" font-weight="bold" fill="#2a2a2a" >6</text>
<line x1="186.4" y1="320.3" x2="186.4" y2="322.90000000000003" stroke="#222" stroke-width="1.3" />
<text x="186.4" y="330.4" font-size="8" text-anchor="middle" font-weight="bold" fill="#2a2a2a" >9</text>
<text x="91.3" y="343.90000000000003" font-size="10.3" text-anchor="start" font-weight="bold" fill="#111" textLength="66" lengthAdjust="spacingAndGlyphs">Age (months)</text>
<text x="13.4" y="259.6" font-size="10" font-weight="bold" fill="#111" text-anchor="middle" transform="rotate(-90 13.4 259.6)" textLength="74" lengthAdjust="spacingAndGlyphs">LVAW (diastole)</text>
<polyline points="62.4,238.3 124.6,228.6 186.2,216.2" fill="none" stroke="#666" stroke-width="1.2"/>
<polyline points="62.4,240 124.6,234.7 186.2,227.3" fill="none" stroke="#555" stroke-width="1.2"/>
<line x1="62.4" y1="234.7" x2="62.4" y2="247.1" stroke="#111" stroke-width="1.7" />
<line x1="60.4" y1="234.7" x2="64.4" y2="234.7" stroke="#111" stroke-width="1.3" />
<line x1="60.4" y1="247.1" x2="64.4" y2="247.1" stroke="#111" stroke-width="1.3" />
<line x1="124.6" y1="223.6" x2="124.6" y2="241.3" stroke="#111" stroke-width="1.7" />
<line x1="122.6" y1="223.6" x2="126.6" y2="223.6" stroke="#111" stroke-width="1.3" />
<line x1="122.6" y1="241.3" x2="126.6" y2="241.3" stroke="#111" stroke-width="1.3" />
<line x1="186.2" y1="210.3" x2="186.2" y2="232.8" stroke="#111" stroke-width="1.7" />
<line x1="184.2" y1="210.3" x2="188.2" y2="210.3" stroke="#111" stroke-width="1.3" />
<line x1="184.2" y1="232.8" x2="188.2" y2="232.8" stroke="#111" stroke-width="1.3" />
<line x1="184.2" y1="222" x2="188.2" y2="222" stroke="#111" stroke-width="1.3" />
<rect x="60.6" y="236.5" width="3.6" height="3.6" fill="#111"/>
<circle cx="62.4" cy="240" r="1.6" fill="#111"/>
<rect x="122.8" y="226.79999999999998" width="3.6" height="3.6" fill="#111"/>
<circle cx="124.6" cy="234.7" r="1.6" fill="#111"/>
<rect x="184.39999999999998" y="214.39999999999998" width="3.6" height="3.6" fill="#111"/>
<circle cx="186.2" cy="227.3" r="1.6" fill="#111"/>
<rect x="60.3" y="236" width="4.2" height="5" fill="#111"/>
<text x="125.1" y="223.4" font-size="9" text-anchor="middle" font-weight="bold" fill="#111" letter-spacing="1">*</text>
<text x="186.7" y="210.7" font-size="9" text-anchor="middle" font-weight="bold" fill="#111" letter-spacing="1">***</text>
<text x="311.2" y="190.8" font-size="10.6" text-anchor="start" font-weight="bold" fill="#111" textLength="152.5" lengthAdjust="spacingAndGlyphs">Left Ventricle Posterior Wall</text>
<line x1="295.3" y1="202.4" x2="295.3" y2="304.4" stroke="#222" stroke-width="1.85" />
<line x1="292.90000000000003" y1="202.4" x2="295.3" y2="202.4" stroke="#222" stroke-width="1.3" />
<text x="292.90000000000003" y="206.0" font-size="7.2" text-anchor="end" font-weight="bold" fill="#2a2a2a" >1.5</text>
<line x1="292.90000000000003" y1="253.7" x2="295.3" y2="253.7" stroke="#222" stroke-width="1.3" />
<text x="292.90000000000003" y="257.3" font-size="7.2" text-anchor="end" font-weight="bold" fill="#2a2a2a" >1.0</text>
<line x1="292.90000000000003" y1="304.4" x2="295.3" y2="304.4" stroke="#222" stroke-width="1.3" />
<text x="292.90000000000003" y="308.0" font-size="7.2" text-anchor="end" font-weight="bold" fill="#2a2a2a" >0.5</text>
<line x1="295.3" y1="311" x2="295.3" y2="321.5" stroke="#222" stroke-width="1.85" />
<line x1="295.3" y1="311" x2="297.7" y2="311" stroke="#222" stroke-width="1.3" />
<text x="292.90000000000003" y="325.1" font-size="7.2" text-anchor="end" font-weight="bold" fill="#2a2a2a" >0.0</text>
<line x1="295.3" y1="321.5" x2="481.5" y2="321.5" stroke="#222" stroke-width="1.8" />
<line x1="326.3" y1="321.5" x2="326.3" y2="324.1" stroke="#222" stroke-width="1.3" />
<text x="326.3" y="332.0" font-size="8" text-anchor="middle" font-weight="bold" fill="#2a2a2a" >2</text>
<line x1="388.1" y1="321.5" x2="388.1" y2="324.1" stroke="#222" stroke-width="1.3" />
<text x="388.1" y="332.0" font-size="8" text-anchor="middle" font-weight="bold" fill="#2a2a2a" >6</text>
<line x1="450" y1="321.5" x2="450" y2="324.1" stroke="#222" stroke-width="1.3" />
<text x="450" y="332.0" font-size="8" text-anchor="middle" font-weight="bold" fill="#2a2a2a" >9</text>
<text x="356.2" y="345.90000000000003" font-size="10.3" text-anchor="start" font-weight="bold" fill="#111" textLength="65.3" lengthAdjust="spacingAndGlyphs">Age (months)</text>
<text x="277.4" y="261" font-size="10" font-weight="bold" fill="#111" text-anchor="middle" transform="rotate(-90 277.4 261)" textLength="74.4" lengthAdjust="spacingAndGlyphs">LVPW (diastole)</text>
<polyline points="326.9,283.4 389,275.8 450.2,254.6" fill="none" stroke="#666" stroke-width="1.2"/>
<polyline points="326.9,283.4 389,279.5 450.2,273" fill="none" stroke="#555" stroke-width="1.2"/>
<line x1="326.9" y1="278.6" x2="326.9" y2="288.5" stroke="#111" stroke-width="1.7" />
<line x1="324.9" y1="278.6" x2="328.9" y2="278.6" stroke="#111" stroke-width="1.3" />
<line x1="324.9" y1="288.5" x2="328.9" y2="288.5" stroke="#111" stroke-width="1.3" />
<line x1="389" y1="271" x2="389" y2="283.4" stroke="#111" stroke-width="1.7" />
<line x1="387.0" y1="271" x2="391.0" y2="271" stroke="#111" stroke-width="1.3" />
<line x1="387.0" y1="283.4" x2="391.0" y2="283.4" stroke="#111" stroke-width="1.3" />
<line x1="450.2" y1="247.6" x2="450.2" y2="278.6" stroke="#111" stroke-width="1.7" />
<line x1="448.2" y1="247.6" x2="452.2" y2="247.6" stroke="#111" stroke-width="1.3" />
<line x1="448.2" y1="278.6" x2="452.2" y2="278.6" stroke="#111" stroke-width="1.3" />
<line x1="448.2" y1="261.1" x2="452.2" y2="261.1" stroke="#111" stroke-width="1.3" />
<line x1="448.2" y1="266.8" x2="452.2" y2="266.8" stroke="#111" stroke-width="1.3" />
<rect x="325.09999999999997" y="281.59999999999997" width="3.6" height="3.6" fill="#111"/>
<rect x="387.2" y="274.0" width="3.6" height="3.6" fill="#111"/>
<circle cx="389" cy="279.5" r="1.6" fill="#111"/>
<rect x="448.4" y="252.79999999999998" width="3.6" height="3.6" fill="#111"/>
<circle cx="450.2" cy="273" r="1.6" fill="#111"/>
<text x="450.8" y="243.8" font-size="9" text-anchor="middle" font-weight="bold" fill="#111" letter-spacing="1.1">****</text>
</svg>
</body></html>
